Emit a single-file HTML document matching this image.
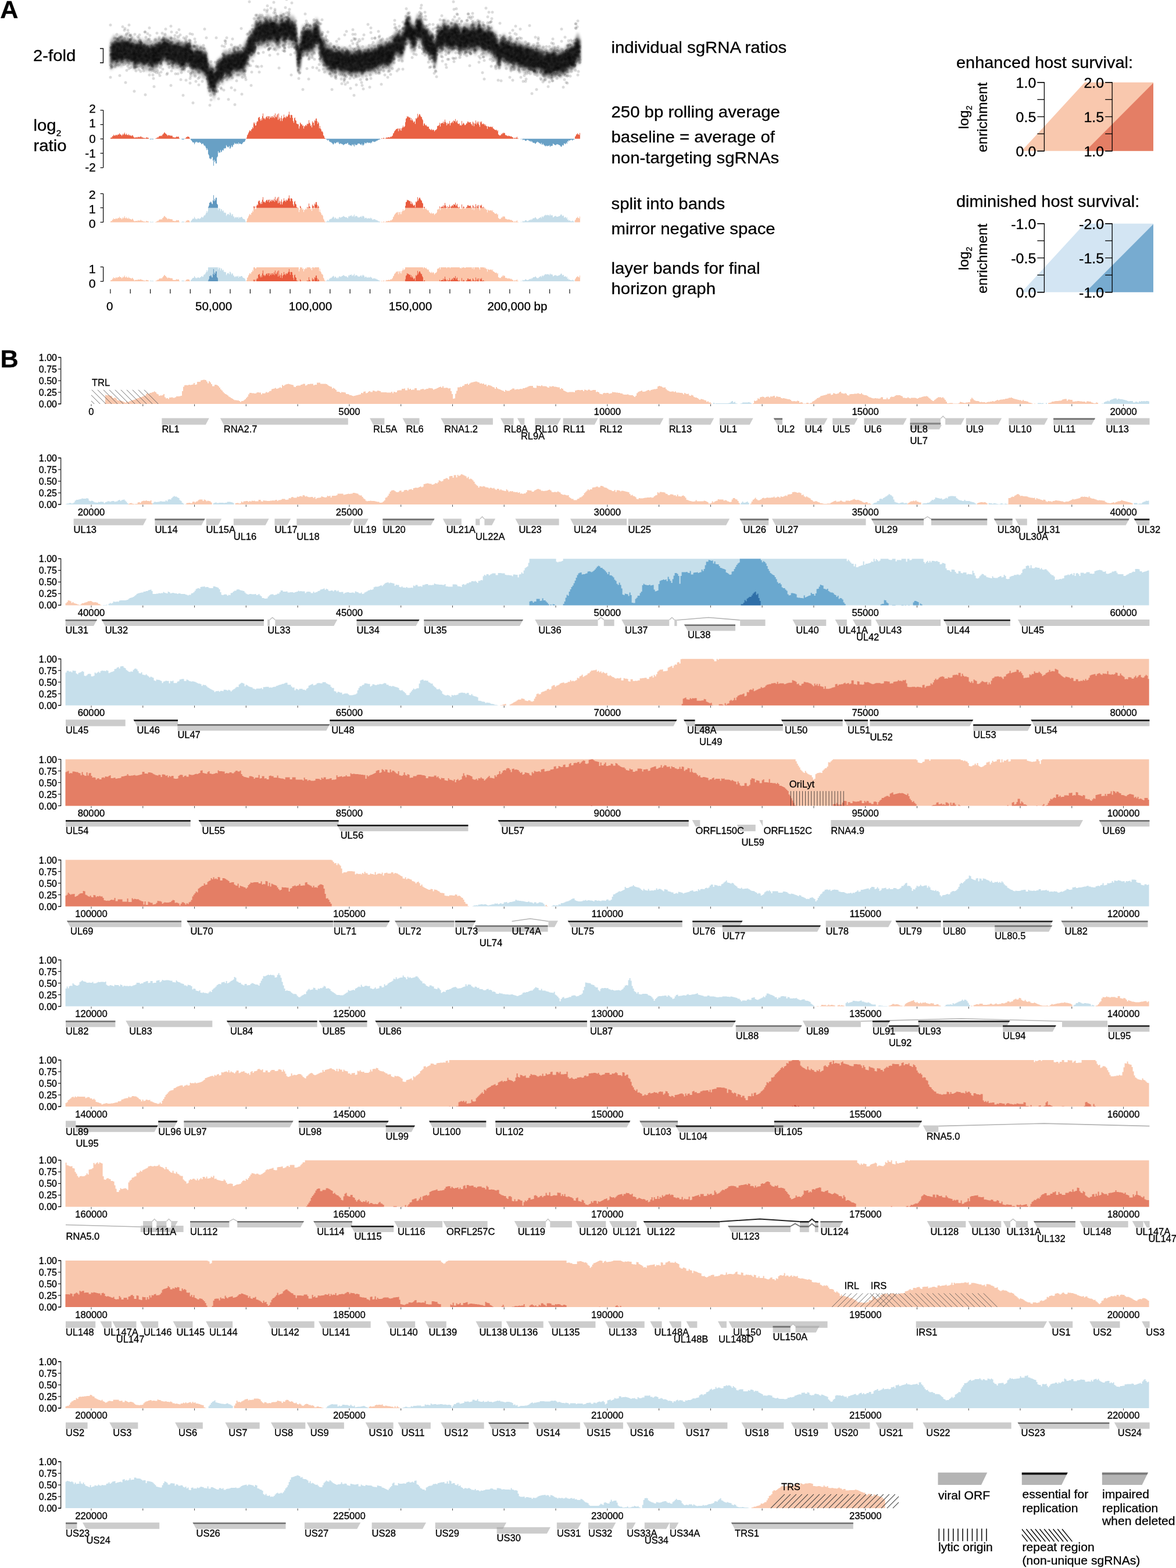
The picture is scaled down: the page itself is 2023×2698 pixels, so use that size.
<!DOCTYPE html>
<html><head><meta charset="utf-8"><title>Horizon graph</title>
<style>html,body{margin:0;padding:0;background:#fff;} svg{display:block;} text{font-family:"Liberation Sans", Arial, Helvetica, sans-serif;fill:#000;stroke:#000;stroke-width:0.3px;}</style>
</head><body>
<svg width="2023" height="2698" viewBox="0 0 2023 2698">
<rect width="2023" height="2698" fill="#fff"/>
<text transform="matrix(1.03,0,0,1,0.3,30.8)" font-size="42" font-weight="bold">A</text>
<text transform="matrix(1.03,0,0,1,57.0,105.3)" font-size="28.5">2-fold</text>
<path d="M172,83.5 H177.5 V108 H172" fill="none" stroke="#000" stroke-width="1.3"/>
<text transform="matrix(1.03,0,0,1,57.5,225.0)" font-size="28.5">log<tspan font-size="15" dy="9">2</tspan></text>
<text transform="matrix(1.03,0,0,1,57.5,259.5)" font-size="28.5">ratio</text>
<text transform="matrix(1.03,0,0,1,1051.5,91.2)" font-size="28.5">individual sgRNA ratios</text>
<text transform="matrix(1.03,0,0,1,1051.5,202.0)" font-size="28.5">250 bp rolling average</text>
<text transform="matrix(1.03,0,0,1,1051.5,245.3)" font-size="28.5">baseline = average of</text>
<text transform="matrix(1.03,0,0,1,1051.5,281.0)" font-size="28.5">non-targeting sgRNAs</text>
<text transform="matrix(1.03,0,0,1,1051.5,359.6)" font-size="28.5">split into bands</text>
<text transform="matrix(1.03,0,0,1,1051.5,403.4)" font-size="28.5">mirror negative space</text>
<text transform="matrix(1.03,0,0,1,1051.5,471.0)" font-size="28.5">layer bands for final</text>
<text transform="matrix(1.03,0,0,1,1051.5,505.8)" font-size="28.5">horizon graph</text>
<text transform="matrix(1.03,0,0,1,1645.0,117.3)" font-size="28.1">enhanced host survival:</text>
<text transform="matrix(1.03,0,0,1,1645.0,356.0)" font-size="28.1">diminished host survival:</text>
<path d="M177.6,189.6 V288.6" stroke="#000" stroke-width="1.2" fill="none"/><path d="M172.6,189.6 H177.6" stroke="#000" stroke-width="1.2"/><path d="M172.6,214.4 H177.6" stroke="#000" stroke-width="1.2"/><path d="M172.6,239 H177.6" stroke="#000" stroke-width="1.2"/><path d="M172.6,263.7 H177.6" stroke="#000" stroke-width="1.2"/><path d="M172.6,288.6 H177.6" stroke="#000" stroke-width="1.2"/>
<text transform="matrix(1.03,0,0,1,164.6,193.8)" font-size="20" text-anchor="end">2</text>
<text transform="matrix(1.03,0,0,1,164.6,219.1)" font-size="20" text-anchor="end">1</text>
<text transform="matrix(1.03,0,0,1,164.6,245.6)" font-size="20" text-anchor="end">0</text>
<text transform="matrix(1.03,0,0,1,164.6,270.8)" font-size="20" text-anchor="end">-1</text>
<text transform="matrix(1.03,0,0,1,164.6,295.4)" font-size="20" text-anchor="end">-2</text>
<path d="M177.6,333.2 V382.4" stroke="#000" stroke-width="1.2" fill="none"/><path d="M172.6,333.2 H177.6" stroke="#000" stroke-width="1.2"/><path d="M172.6,357.5 H177.6" stroke="#000" stroke-width="1.2"/><path d="M172.6,382.4 H177.6" stroke="#000" stroke-width="1.2"/>
<text transform="matrix(1.03,0,0,1,164.6,342.0)" font-size="20.8" text-anchor="end">2</text>
<text transform="matrix(1.03,0,0,1,164.6,366.8)" font-size="20.8" text-anchor="end">1</text>
<text transform="matrix(1.03,0,0,1,164.6,392.4)" font-size="20.8" text-anchor="end">0</text>
<path d="M177.6,459.3 V484.2" stroke="#000" stroke-width="1.2" fill="none"/><path d="M172.6,459.3 H177.6" stroke="#000" stroke-width="1.2"/><path d="M172.6,484.2 H177.6" stroke="#000" stroke-width="1.2"/>
<text transform="matrix(1.03,0,0,1,164.6,470.1)" font-size="20.8" text-anchor="end">1</text>
<text transform="matrix(1.03,0,0,1,164.6,495.0)" font-size="20.8" text-anchor="end">0</text>
<path d="M189.9,497.5 V505" stroke="#000" stroke-width="1.1"/>
<path d="M224.2,497.5 V505" stroke="#000" stroke-width="1.1"/>
<path d="M258.6,497.5 V505" stroke="#000" stroke-width="1.1"/>
<path d="M292.9,497.5 V505" stroke="#000" stroke-width="1.1"/>
<path d="M327.3,497.5 V505" stroke="#000" stroke-width="1.1"/>
<path d="M361.6,497.5 V505" stroke="#000" stroke-width="1.1"/>
<path d="M396.0,497.5 V505" stroke="#000" stroke-width="1.1"/>
<path d="M430.4,497.5 V505" stroke="#000" stroke-width="1.1"/>
<path d="M464.7,497.5 V505" stroke="#000" stroke-width="1.1"/>
<path d="M499.1,497.5 V505" stroke="#000" stroke-width="1.1"/>
<path d="M533.4,497.5 V505" stroke="#000" stroke-width="1.1"/>
<path d="M567.8,497.5 V505" stroke="#000" stroke-width="1.1"/>
<path d="M602.1,497.5 V505" stroke="#000" stroke-width="1.1"/>
<path d="M636.5,497.5 V505" stroke="#000" stroke-width="1.1"/>
<path d="M670.8,497.5 V505" stroke="#000" stroke-width="1.1"/>
<path d="M705.1,497.5 V505" stroke="#000" stroke-width="1.1"/>
<path d="M739.5,497.5 V505" stroke="#000" stroke-width="1.1"/>
<path d="M773.9,497.5 V505" stroke="#000" stroke-width="1.1"/>
<path d="M808.2,497.5 V505" stroke="#000" stroke-width="1.1"/>
<path d="M842.5,497.5 V505" stroke="#000" stroke-width="1.1"/>
<path d="M876.9,497.5 V505" stroke="#000" stroke-width="1.1"/>
<path d="M911.2,497.5 V505" stroke="#000" stroke-width="1.1"/>
<path d="M945.6,497.5 V505" stroke="#000" stroke-width="1.1"/>
<path d="M980.0,497.5 V505" stroke="#000" stroke-width="1.1"/>
<text transform="matrix(1.03,0,0,1,188.8,533.6)" font-size="20" text-anchor="middle">0</text>
<text transform="matrix(1.03,0,0,1,367.6,533.6)" font-size="20" text-anchor="middle">50,000</text>
<text transform="matrix(1.03,0,0,1,534.0,533.6)" font-size="20" text-anchor="middle">100,000</text>
<text transform="matrix(1.03,0,0,1,706.0,533.6)" font-size="20" text-anchor="middle">150,000</text>
<text transform="matrix(1.03,0,0,1,838.4,533.6)" font-size="20">200,000 bp</text>
<polygon points="1757.4,259.8 1866,141.8 1984,141.8 1984,259.8" fill="#f9c8ae"/><polygon points="1867.4,259.8 1984,142.8 1984,259.8" fill="#e47e65"/><path d="M1784.4,141.8 H1796.4 V259.8 H1784.4" stroke="#000" stroke-width="1.3" fill="none"/><path d="M1784.4,141.8 H1796.4" stroke="#000" stroke-width="1.3"/><path d="M1784.4,171.3 H1796.4" stroke="#000" stroke-width="1.3"/><path d="M1784.4,200.8 H1796.4" stroke="#000" stroke-width="1.3"/><path d="M1784.4,230.3 H1796.4" stroke="#000" stroke-width="1.3"/><path d="M1784.4,259.8 H1796.4" stroke="#000" stroke-width="1.3"/><text transform="matrix(1.03,0,0,1,1782.4,150.5)" font-size="24.3" text-anchor="end">1.0</text><text transform="matrix(1.03,0,0,1,1782.4,209.5)" font-size="24.3" text-anchor="end">0.5</text><text transform="matrix(1.03,0,0,1,1782.4,268.5)" font-size="24.3" text-anchor="end">0.0</text><path d="M1901.2,141.8 H1913.2 V259.8 H1901.2" stroke="#000" stroke-width="1.3" fill="none"/><path d="M1901.2,141.8 H1913.2" stroke="#000" stroke-width="1.3"/><path d="M1901.2,171.3 H1913.2" stroke="#000" stroke-width="1.3"/><path d="M1901.2,200.8 H1913.2" stroke="#000" stroke-width="1.3"/><path d="M1901.2,230.3 H1913.2" stroke="#000" stroke-width="1.3"/><path d="M1901.2,259.8 H1913.2" stroke="#000" stroke-width="1.3"/><text transform="matrix(1.03,0,0,1,1899.2,150.5)" font-size="24.3" text-anchor="end">2.0</text><text transform="matrix(1.03,0,0,1,1899.2,209.5)" font-size="24.3" text-anchor="end">1.5</text><text transform="matrix(1.03,0,0,1,1899.2,268.5)" font-size="24.3" text-anchor="end">1.0</text><text transform="translate(1666,201.8) rotate(-90)" font-size="24.3" text-anchor="middle">log<tspan font-size="14" dy="6">2</tspan></text><text transform="translate(1698,201.8) rotate(-90)" font-size="24.3" text-anchor="middle">enrichment</text>
<polygon points="1757.4,502.8 1866,384.8 1984,384.8 1984,502.8" fill="#d3e5f3"/><polygon points="1867.4,502.8 1984,385.8 1984,502.8" fill="#77abd0"/><path d="M1784.4,384.8 H1796.4 V502.8 H1784.4" stroke="#000" stroke-width="1.3" fill="none"/><path d="M1784.4,384.8 H1796.4" stroke="#000" stroke-width="1.3"/><path d="M1784.4,414.3 H1796.4" stroke="#000" stroke-width="1.3"/><path d="M1784.4,443.8 H1796.4" stroke="#000" stroke-width="1.3"/><path d="M1784.4,473.3 H1796.4" stroke="#000" stroke-width="1.3"/><path d="M1784.4,502.8 H1796.4" stroke="#000" stroke-width="1.3"/><text transform="matrix(1.03,0,0,1,1782.4,393.5)" font-size="24.3" text-anchor="end">-1.0</text><text transform="matrix(1.03,0,0,1,1782.4,452.5)" font-size="24.3" text-anchor="end">-0.5</text><text transform="matrix(1.03,0,0,1,1782.4,511.5)" font-size="24.3" text-anchor="end">0.0</text><path d="M1901.2,384.8 H1913.2 V502.8 H1901.2" stroke="#000" stroke-width="1.3" fill="none"/><path d="M1901.2,384.8 H1913.2" stroke="#000" stroke-width="1.3"/><path d="M1901.2,414.3 H1913.2" stroke="#000" stroke-width="1.3"/><path d="M1901.2,443.8 H1913.2" stroke="#000" stroke-width="1.3"/><path d="M1901.2,473.3 H1913.2" stroke="#000" stroke-width="1.3"/><path d="M1901.2,502.8 H1913.2" stroke="#000" stroke-width="1.3"/><text transform="matrix(1.03,0,0,1,1899.2,393.5)" font-size="24.3" text-anchor="end">-2.0</text><text transform="matrix(1.03,0,0,1,1899.2,452.5)" font-size="24.3" text-anchor="end">-1.5</text><text transform="matrix(1.03,0,0,1,1899.2,511.5)" font-size="24.3" text-anchor="end">-1.0</text><text transform="translate(1666,444.8) rotate(-90)" font-size="24.3" text-anchor="middle">log<tspan font-size="14" dy="6">2</tspan></text><text transform="translate(1698,444.8) rotate(-90)" font-size="24.3" text-anchor="middle">enrichment</text>
<text transform="matrix(1.03,0,0,1,0.5,631.5)" font-size="42" font-weight="bold">B</text>
<path d="M100,615 H104.7 V695 H100" stroke="#000" stroke-width="1.1" fill="none"/><path d="M100,615 H104.7" stroke="#000" stroke-width="1.1"/><text transform="matrix(1.03,0,0,1,98.0,621.0)" font-size="15.6" text-anchor="end">1.00</text><path d="M100,635 H104.7" stroke="#000" stroke-width="1.1"/><text transform="matrix(1.03,0,0,1,98.0,641.0)" font-size="15.6" text-anchor="end">0.75</text><path d="M100,655 H104.7" stroke="#000" stroke-width="1.1"/><text transform="matrix(1.03,0,0,1,98.0,661.0)" font-size="15.6" text-anchor="end">0.50</text><path d="M100,675 H104.7" stroke="#000" stroke-width="1.1"/><text transform="matrix(1.03,0,0,1,98.0,681.0)" font-size="15.6" text-anchor="end">0.25</text><path d="M100,695 H104.7" stroke="#000" stroke-width="1.1"/><text transform="matrix(1.03,0,0,1,98.0,701.0)" font-size="15.6" text-anchor="end">0.00</text>
<text transform="matrix(1.03,0,0,1,157.0,713.5)" font-size="16.2" text-anchor="middle">0</text>
<text transform="matrix(1.03,0,0,1,600.9,713.5)" font-size="16.2" text-anchor="middle">5000</text>
<text transform="matrix(1.03,0,0,1,1044.8,713.5)" font-size="16.2" text-anchor="middle">10000</text>
<text transform="matrix(1.03,0,0,1,1488.7,713.5)" font-size="16.2" text-anchor="middle">15000</text>
<text transform="matrix(1.03,0,0,1,1932.6,713.5)" font-size="16.2" text-anchor="middle">20000</text>
<path d="M100,788 H104.7 V868 H100" stroke="#000" stroke-width="1.1" fill="none"/><path d="M100,788 H104.7" stroke="#000" stroke-width="1.1"/><text transform="matrix(1.03,0,0,1,98.0,794.0)" font-size="15.6" text-anchor="end">1.00</text><path d="M100,808 H104.7" stroke="#000" stroke-width="1.1"/><text transform="matrix(1.03,0,0,1,98.0,814.0)" font-size="15.6" text-anchor="end">0.75</text><path d="M100,828 H104.7" stroke="#000" stroke-width="1.1"/><text transform="matrix(1.03,0,0,1,98.0,834.0)" font-size="15.6" text-anchor="end">0.50</text><path d="M100,848 H104.7" stroke="#000" stroke-width="1.1"/><text transform="matrix(1.03,0,0,1,98.0,854.0)" font-size="15.6" text-anchor="end">0.25</text><path d="M100,868 H104.7" stroke="#000" stroke-width="1.1"/><text transform="matrix(1.03,0,0,1,98.0,874.0)" font-size="15.6" text-anchor="end">0.00</text>
<text transform="matrix(1.03,0,0,1,157.0,886.5)" font-size="16.2" text-anchor="middle">20000</text>
<text transform="matrix(1.03,0,0,1,600.9,886.5)" font-size="16.2" text-anchor="middle">25000</text>
<text transform="matrix(1.03,0,0,1,1044.8,886.5)" font-size="16.2" text-anchor="middle">30000</text>
<text transform="matrix(1.03,0,0,1,1488.7,886.5)" font-size="16.2" text-anchor="middle">35000</text>
<text transform="matrix(1.03,0,0,1,1932.6,886.5)" font-size="16.2" text-anchor="middle">40000</text>
<path d="M100,961.4000000000001 H104.7 V1041.4 H100" stroke="#000" stroke-width="1.1" fill="none"/><path d="M100,961.4000000000001 H104.7" stroke="#000" stroke-width="1.1"/><text transform="matrix(1.03,0,0,1,98.0,967.4)" font-size="15.6" text-anchor="end">1.00</text><path d="M100,981.4000000000001 H104.7" stroke="#000" stroke-width="1.1"/><text transform="matrix(1.03,0,0,1,98.0,987.4)" font-size="15.6" text-anchor="end">0.75</text><path d="M100,1001.4000000000001 H104.7" stroke="#000" stroke-width="1.1"/><text transform="matrix(1.03,0,0,1,98.0,1007.4)" font-size="15.6" text-anchor="end">0.50</text><path d="M100,1021.4000000000001 H104.7" stroke="#000" stroke-width="1.1"/><text transform="matrix(1.03,0,0,1,98.0,1027.4)" font-size="15.6" text-anchor="end">0.25</text><path d="M100,1041.4 H104.7" stroke="#000" stroke-width="1.1"/><text transform="matrix(1.03,0,0,1,98.0,1047.4)" font-size="15.6" text-anchor="end">0.00</text>
<text transform="matrix(1.03,0,0,1,157.0,1059.9)" font-size="16.2" text-anchor="middle">40000</text>
<text transform="matrix(1.03,0,0,1,600.9,1059.9)" font-size="16.2" text-anchor="middle">45000</text>
<text transform="matrix(1.03,0,0,1,1044.8,1059.9)" font-size="16.2" text-anchor="middle">50000</text>
<text transform="matrix(1.03,0,0,1,1488.7,1059.9)" font-size="16.2" text-anchor="middle">55000</text>
<text transform="matrix(1.03,0,0,1,1932.6,1059.9)" font-size="16.2" text-anchor="middle">60000</text>
<path d="M100,1133.7 H104.7 V1213.7 H100" stroke="#000" stroke-width="1.1" fill="none"/><path d="M100,1133.7 H104.7" stroke="#000" stroke-width="1.1"/><text transform="matrix(1.03,0,0,1,98.0,1139.7)" font-size="15.6" text-anchor="end">1.00</text><path d="M100,1153.7 H104.7" stroke="#000" stroke-width="1.1"/><text transform="matrix(1.03,0,0,1,98.0,1159.7)" font-size="15.6" text-anchor="end">0.75</text><path d="M100,1173.7 H104.7" stroke="#000" stroke-width="1.1"/><text transform="matrix(1.03,0,0,1,98.0,1179.7)" font-size="15.6" text-anchor="end">0.50</text><path d="M100,1193.7 H104.7" stroke="#000" stroke-width="1.1"/><text transform="matrix(1.03,0,0,1,98.0,1199.7)" font-size="15.6" text-anchor="end">0.25</text><path d="M100,1213.7 H104.7" stroke="#000" stroke-width="1.1"/><text transform="matrix(1.03,0,0,1,98.0,1219.7)" font-size="15.6" text-anchor="end">0.00</text>
<text transform="matrix(1.03,0,0,1,157.0,1232.2)" font-size="16.2" text-anchor="middle">60000</text>
<text transform="matrix(1.03,0,0,1,600.9,1232.2)" font-size="16.2" text-anchor="middle">65000</text>
<text transform="matrix(1.03,0,0,1,1044.8,1232.2)" font-size="16.2" text-anchor="middle">70000</text>
<text transform="matrix(1.03,0,0,1,1488.7,1232.2)" font-size="16.2" text-anchor="middle">75000</text>
<text transform="matrix(1.03,0,0,1,1932.6,1232.2)" font-size="16.2" text-anchor="middle">80000</text>
<path d="M100,1306.5 H104.7 V1386.5 H100" stroke="#000" stroke-width="1.1" fill="none"/><path d="M100,1306.5 H104.7" stroke="#000" stroke-width="1.1"/><text transform="matrix(1.03,0,0,1,98.0,1312.5)" font-size="15.6" text-anchor="end">1.00</text><path d="M100,1326.5 H104.7" stroke="#000" stroke-width="1.1"/><text transform="matrix(1.03,0,0,1,98.0,1332.5)" font-size="15.6" text-anchor="end">0.75</text><path d="M100,1346.5 H104.7" stroke="#000" stroke-width="1.1"/><text transform="matrix(1.03,0,0,1,98.0,1352.5)" font-size="15.6" text-anchor="end">0.50</text><path d="M100,1366.5 H104.7" stroke="#000" stroke-width="1.1"/><text transform="matrix(1.03,0,0,1,98.0,1372.5)" font-size="15.6" text-anchor="end">0.25</text><path d="M100,1386.5 H104.7" stroke="#000" stroke-width="1.1"/><text transform="matrix(1.03,0,0,1,98.0,1392.5)" font-size="15.6" text-anchor="end">0.00</text>
<text transform="matrix(1.03,0,0,1,157.0,1405.0)" font-size="16.2" text-anchor="middle">80000</text>
<text transform="matrix(1.03,0,0,1,600.9,1405.0)" font-size="16.2" text-anchor="middle">85000</text>
<text transform="matrix(1.03,0,0,1,1044.8,1405.0)" font-size="16.2" text-anchor="middle">90000</text>
<text transform="matrix(1.03,0,0,1,1488.7,1405.0)" font-size="16.2" text-anchor="middle">95000</text>
<text transform="matrix(1.03,0,0,1,1932.6,1405.0)" font-size="16.2" text-anchor="middle">100000</text>
<path d="M100,1479.6 H104.7 V1559.6 H100" stroke="#000" stroke-width="1.1" fill="none"/><path d="M100,1479.6 H104.7" stroke="#000" stroke-width="1.1"/><text transform="matrix(1.03,0,0,1,98.0,1485.6)" font-size="15.6" text-anchor="end">1.00</text><path d="M100,1499.6 H104.7" stroke="#000" stroke-width="1.1"/><text transform="matrix(1.03,0,0,1,98.0,1505.6)" font-size="15.6" text-anchor="end">0.75</text><path d="M100,1519.6 H104.7" stroke="#000" stroke-width="1.1"/><text transform="matrix(1.03,0,0,1,98.0,1525.6)" font-size="15.6" text-anchor="end">0.50</text><path d="M100,1539.6 H104.7" stroke="#000" stroke-width="1.1"/><text transform="matrix(1.03,0,0,1,98.0,1545.6)" font-size="15.6" text-anchor="end">0.25</text><path d="M100,1559.6 H104.7" stroke="#000" stroke-width="1.1"/><text transform="matrix(1.03,0,0,1,98.0,1565.6)" font-size="15.6" text-anchor="end">0.00</text>
<text transform="matrix(1.03,0,0,1,157.0,1578.1)" font-size="16.2" text-anchor="middle">100000</text>
<text transform="matrix(1.03,0,0,1,600.9,1578.1)" font-size="16.2" text-anchor="middle">105000</text>
<text transform="matrix(1.03,0,0,1,1044.8,1578.1)" font-size="16.2" text-anchor="middle">110000</text>
<text transform="matrix(1.03,0,0,1,1488.7,1578.1)" font-size="16.2" text-anchor="middle">115000</text>
<text transform="matrix(1.03,0,0,1,1932.6,1578.1)" font-size="16.2" text-anchor="middle">120000</text>
<path d="M100,1651.6 H104.7 V1731.6 H100" stroke="#000" stroke-width="1.1" fill="none"/><path d="M100,1651.6 H104.7" stroke="#000" stroke-width="1.1"/><text transform="matrix(1.03,0,0,1,98.0,1657.6)" font-size="15.6" text-anchor="end">1.00</text><path d="M100,1671.6 H104.7" stroke="#000" stroke-width="1.1"/><text transform="matrix(1.03,0,0,1,98.0,1677.6)" font-size="15.6" text-anchor="end">0.75</text><path d="M100,1691.6 H104.7" stroke="#000" stroke-width="1.1"/><text transform="matrix(1.03,0,0,1,98.0,1697.6)" font-size="15.6" text-anchor="end">0.50</text><path d="M100,1711.6 H104.7" stroke="#000" stroke-width="1.1"/><text transform="matrix(1.03,0,0,1,98.0,1717.6)" font-size="15.6" text-anchor="end">0.25</text><path d="M100,1731.6 H104.7" stroke="#000" stroke-width="1.1"/><text transform="matrix(1.03,0,0,1,98.0,1737.6)" font-size="15.6" text-anchor="end">0.00</text>
<text transform="matrix(1.03,0,0,1,157.0,1750.1)" font-size="16.2" text-anchor="middle">120000</text>
<text transform="matrix(1.03,0,0,1,600.9,1750.1)" font-size="16.2" text-anchor="middle">125000</text>
<text transform="matrix(1.03,0,0,1,1044.8,1750.1)" font-size="16.2" text-anchor="middle">130000</text>
<text transform="matrix(1.03,0,0,1,1488.7,1750.1)" font-size="16.2" text-anchor="middle">135000</text>
<text transform="matrix(1.03,0,0,1,1932.6,1750.1)" font-size="16.2" text-anchor="middle">140000</text>
<path d="M100,1824 H104.7 V1904 H100" stroke="#000" stroke-width="1.1" fill="none"/><path d="M100,1824 H104.7" stroke="#000" stroke-width="1.1"/><text transform="matrix(1.03,0,0,1,98.0,1830.0)" font-size="15.6" text-anchor="end">1.00</text><path d="M100,1844 H104.7" stroke="#000" stroke-width="1.1"/><text transform="matrix(1.03,0,0,1,98.0,1850.0)" font-size="15.6" text-anchor="end">0.75</text><path d="M100,1864 H104.7" stroke="#000" stroke-width="1.1"/><text transform="matrix(1.03,0,0,1,98.0,1870.0)" font-size="15.6" text-anchor="end">0.50</text><path d="M100,1884 H104.7" stroke="#000" stroke-width="1.1"/><text transform="matrix(1.03,0,0,1,98.0,1890.0)" font-size="15.6" text-anchor="end">0.25</text><path d="M100,1904 H104.7" stroke="#000" stroke-width="1.1"/><text transform="matrix(1.03,0,0,1,98.0,1910.0)" font-size="15.6" text-anchor="end">0.00</text>
<text transform="matrix(1.03,0,0,1,157.0,1922.5)" font-size="16.2" text-anchor="middle">140000</text>
<text transform="matrix(1.03,0,0,1,600.9,1922.5)" font-size="16.2" text-anchor="middle">145000</text>
<text transform="matrix(1.03,0,0,1,1044.8,1922.5)" font-size="16.2" text-anchor="middle">150000</text>
<text transform="matrix(1.03,0,0,1,1488.7,1922.5)" font-size="16.2" text-anchor="middle">155000</text>
<text transform="matrix(1.03,0,0,1,1932.6,1922.5)" font-size="16.2" text-anchor="middle">160000</text>
<path d="M100,1996.4 H104.7 V2076.4 H100" stroke="#000" stroke-width="1.1" fill="none"/><path d="M100,1996.4 H104.7" stroke="#000" stroke-width="1.1"/><text transform="matrix(1.03,0,0,1,98.0,2002.4)" font-size="15.6" text-anchor="end">1.00</text><path d="M100,2016.4 H104.7" stroke="#000" stroke-width="1.1"/><text transform="matrix(1.03,0,0,1,98.0,2022.4)" font-size="15.6" text-anchor="end">0.75</text><path d="M100,2036.4 H104.7" stroke="#000" stroke-width="1.1"/><text transform="matrix(1.03,0,0,1,98.0,2042.4)" font-size="15.6" text-anchor="end">0.50</text><path d="M100,2056.4 H104.7" stroke="#000" stroke-width="1.1"/><text transform="matrix(1.03,0,0,1,98.0,2062.4)" font-size="15.6" text-anchor="end">0.25</text><path d="M100,2076.4 H104.7" stroke="#000" stroke-width="1.1"/><text transform="matrix(1.03,0,0,1,98.0,2082.4)" font-size="15.6" text-anchor="end">0.00</text>
<text transform="matrix(1.03,0,0,1,157.0,2094.9)" font-size="16.2" text-anchor="middle">160000</text>
<text transform="matrix(1.03,0,0,1,600.9,2094.9)" font-size="16.2" text-anchor="middle">165000</text>
<text transform="matrix(1.03,0,0,1,1044.8,2094.9)" font-size="16.2" text-anchor="middle">170000</text>
<text transform="matrix(1.03,0,0,1,1488.7,2094.9)" font-size="16.2" text-anchor="middle">175000</text>
<text transform="matrix(1.03,0,0,1,1932.6,2094.9)" font-size="16.2" text-anchor="middle">180000</text>
<path d="M100,2169 H104.7 V2249 H100" stroke="#000" stroke-width="1.1" fill="none"/><path d="M100,2169 H104.7" stroke="#000" stroke-width="1.1"/><text transform="matrix(1.03,0,0,1,98.0,2175.0)" font-size="15.6" text-anchor="end">1.00</text><path d="M100,2189 H104.7" stroke="#000" stroke-width="1.1"/><text transform="matrix(1.03,0,0,1,98.0,2195.0)" font-size="15.6" text-anchor="end">0.75</text><path d="M100,2209 H104.7" stroke="#000" stroke-width="1.1"/><text transform="matrix(1.03,0,0,1,98.0,2215.0)" font-size="15.6" text-anchor="end">0.50</text><path d="M100,2229 H104.7" stroke="#000" stroke-width="1.1"/><text transform="matrix(1.03,0,0,1,98.0,2235.0)" font-size="15.6" text-anchor="end">0.25</text><path d="M100,2249 H104.7" stroke="#000" stroke-width="1.1"/><text transform="matrix(1.03,0,0,1,98.0,2255.0)" font-size="15.6" text-anchor="end">0.00</text>
<text transform="matrix(1.03,0,0,1,157.0,2267.5)" font-size="16.2" text-anchor="middle">180000</text>
<text transform="matrix(1.03,0,0,1,600.9,2267.5)" font-size="16.2" text-anchor="middle">185000</text>
<text transform="matrix(1.03,0,0,1,1044.8,2267.5)" font-size="16.2" text-anchor="middle">190000</text>
<text transform="matrix(1.03,0,0,1,1488.7,2267.5)" font-size="16.2" text-anchor="middle">195000</text>
<text transform="matrix(1.03,0,0,1,1932.6,2267.5)" font-size="16.2" text-anchor="middle">200000</text>
<path d="M100,2342.9 H104.7 V2422.9 H100" stroke="#000" stroke-width="1.1" fill="none"/><path d="M100,2342.9 H104.7" stroke="#000" stroke-width="1.1"/><text transform="matrix(1.03,0,0,1,98.0,2348.9)" font-size="15.6" text-anchor="end">1.00</text><path d="M100,2362.9 H104.7" stroke="#000" stroke-width="1.1"/><text transform="matrix(1.03,0,0,1,98.0,2368.9)" font-size="15.6" text-anchor="end">0.75</text><path d="M100,2382.9 H104.7" stroke="#000" stroke-width="1.1"/><text transform="matrix(1.03,0,0,1,98.0,2388.9)" font-size="15.6" text-anchor="end">0.50</text><path d="M100,2402.9 H104.7" stroke="#000" stroke-width="1.1"/><text transform="matrix(1.03,0,0,1,98.0,2408.9)" font-size="15.6" text-anchor="end">0.25</text><path d="M100,2422.9 H104.7" stroke="#000" stroke-width="1.1"/><text transform="matrix(1.03,0,0,1,98.0,2428.9)" font-size="15.6" text-anchor="end">0.00</text>
<text transform="matrix(1.03,0,0,1,157.0,2441.4)" font-size="16.2" text-anchor="middle">200000</text>
<text transform="matrix(1.03,0,0,1,600.9,2441.4)" font-size="16.2" text-anchor="middle">205000</text>
<text transform="matrix(1.03,0,0,1,1044.8,2441.4)" font-size="16.2" text-anchor="middle">210000</text>
<text transform="matrix(1.03,0,0,1,1488.7,2441.4)" font-size="16.2" text-anchor="middle">215000</text>
<text transform="matrix(1.03,0,0,1,1932.6,2441.4)" font-size="16.2" text-anchor="middle">220000</text>
<path d="M100,2515.1 H104.7 V2595.1 H100" stroke="#000" stroke-width="1.1" fill="none"/><path d="M100,2515.1 H104.7" stroke="#000" stroke-width="1.1"/><text transform="matrix(1.03,0,0,1,98.0,2521.1)" font-size="15.6" text-anchor="end">1.00</text><path d="M100,2535.1 H104.7" stroke="#000" stroke-width="1.1"/><text transform="matrix(1.03,0,0,1,98.0,2541.1)" font-size="15.6" text-anchor="end">0.75</text><path d="M100,2555.1 H104.7" stroke="#000" stroke-width="1.1"/><text transform="matrix(1.03,0,0,1,98.0,2561.1)" font-size="15.6" text-anchor="end">0.50</text><path d="M100,2575.1 H104.7" stroke="#000" stroke-width="1.1"/><text transform="matrix(1.03,0,0,1,98.0,2581.1)" font-size="15.6" text-anchor="end">0.25</text><path d="M100,2595.1 H104.7" stroke="#000" stroke-width="1.1"/><text transform="matrix(1.03,0,0,1,98.0,2601.1)" font-size="15.6" text-anchor="end">0.00</text>
<text transform="matrix(1.03,0,0,1,157.0,2613.6)" font-size="16.2" text-anchor="middle">220000</text>
<text transform="matrix(1.03,0,0,1,600.9,2613.6)" font-size="16.2" text-anchor="middle">225000</text>
<text transform="matrix(1.03,0,0,1,1044.8,2613.6)" font-size="16.2" text-anchor="middle">230000</text>
<text transform="matrix(1.03,0,0,1,1488.7,2613.6)" font-size="16.2" text-anchor="middle">235000</text>
<path d="M157.0,695h22v-0.5h2v-15h2v0.5h4v0.5h2v0.5h2v0.5h2v3h2v0.5h2v-1h2v1.5h2v3h2v0.5h2v0.5h4v0.5h2v1h2v1h2v1h2v-2.5h2v1.5h2v-1h2v-1h2v-0.5h2v-1h2v-0.5h2v-0.5h2v-1h2v-1h2v-0.5h2v-1h2v-0.5h2v-0.5h2v-1h2v-0.5h2v-1h2v-3h2v-1h2v1.5h2v-2h4v-1h2v-0.5h2v-1h2v1.5h2v2.5h2v1h2v2.5h2v-0.5h4v-0.5h2v-2h2v5.5h2v2h2v-0.5h2v1.5h2v-2.5h4v-0.5h2v1h4v-1h2v-1.5h6v-0.5h2v-0.5h2v-8h2v-7.5h2v-2.5h2v-0.5h2v0.5h2v-0.5h2v-0.5h2v0.5h2v-0.5h2v-0.5h2v-2.5h2v3h2v-0.5h2v-4.5h6v-2.5h2v-0.5h2v-0.5h4v0.5h2v2.5h2v3h2v-3.5h2v2h2v3h2v3.5h4v-2.5h4v1h2v1.5h2v2.5h2v3h2v2h2v2.5h2v2h2v1.5h2v1h2v1.5h2v2h2v1h2v1.5h2v1h2v1.5h2v1h4v0.5h4v1h2v1.5h2v-1.5h4v-1.5h2v-1.5h2v-2.5h2v-2h2v-4h2v-2.5h4v0.5h4v0.5h4v-1.5h2v-0.5h2v0.5h4v3h2v-2h2v0.5h2v-0.5h2v-2h2v1h2v-0.5h2v-2h2v-0.5h2v-3h2v-0.5h2v-0.5h2v-1h2v1.5h2v-0.5h2v-1h2v-1h2v1h2v-5h2v1.5h2v-1.5h2v-1h2v-0.5h2v-0.5h2v0.5h2v0.5h2v0.5h2v0.5h2v3h2v0.5h2v-2h2v-0.5h6v-1.5h2v-0.5h2v-1h4v3h2v-1h2v-1.5h4v-0.5h6v2.5h2v-1h4v-3.5h6v2h10v0.5h2v1.5h2v1.5h2v1h2v0.5h2v3h2v-1h2v1.5h2v2h2v3h4v0.5h2v1.5h2v-1.5h2v0.5h4v0.5h2v2.5h4v0.5h2v1.5h4v1h2v0.5h2v-0.5h2v-0.5h2v-0.5h2v-0.5h2v-0.5h2v-0.5h2v-2.5h2v0.5h2v-2.5h2v-0.5h2v3h2v-0.5h2v-2h2v-1h2v1.5h4v-2.5h2v0.5h2v1h4v-1.5h2v0.5h2v0.5h2v2h10v0.5h8v-1.5h2v2.5h2v-2.5h2v1h4v-3h2v-0.5h6v-2.5h4v-0.5h2v3h4v-4h2v2.5h2v-1h2v2h2v-0.5h4v-2.5h4v3.5h6v-1.5h2v-0.5h2v-0.5h2v1.5h2v-0.5h2v-1h4v-1.5h2v0.5h4v0.5h2v2h2v-1h2v-0.5h2v-1h2v-1h2v-1h2v-0.5h2v1.5h2v-2.5h2v3h4v-0.5h2v0.5h2v1h2v-0.5h2v5h2v5h2v8h2v-0.5h2v-8h2v-5h2v-6h4v-1h2v0.5h2v-2h2v-0.5h2v-2.5h4v-1h2v2h2v-2h2v-1.5h2v-0.5h2v-0.5h2v-0.5h2v-0.5h4v1h2v0.5h2v2h2v-0.5h2v1h2v-0.5h2v2h2v-0.5h2v3h2v-2h2v0.5h2v0.5h2v1h2v1.5h2v0.5h2v2.5h2v-3h2v2.5h2v1h2v0.5h2v1h2v1h2v0.5h2v1.5h2v-3h2v1.5h6v-1.5h2v-1h2v-1.5h4v2h2v-0.5h2v-0.5h2v0.5h2v-0.5h2v-0.5h2v0.5h2v-1.5h4v-1h2v-0.5h2v-1h2v-1h2v-0.5h6v3h2v0.5h4v-4h2v0.5h4v0.5h2v-1.5h2v1.5h6v0.5h2v1.5h2v0.5h2v-2.5h2v1h2v-1h4v1h4v0.5h2v0.5h4v3h2v-1.5h2v1h2v3h2v1h2v1h2v1h4v-0.5h8v0.5h2v-3h2v-0.5h2v-0.5h4v0.5h2v-0.5h4v2h2v-2.5h2v0.5h2v1h2v-1.5h4v1.5h4v-1h6v3.5h2v-0.5h2v1h2v2.5h2v0.5h2v0.5h2v-2h2v-0.5h2v0.5h2v-0.5h4v1.5h2v-0.5h2v-0.5h2v-2h2v0.5h4v0.5h4v0.5h4v1h4v1.5h2v0.5h6v-0.5h2v1h2v0.5h6v1.5h2v1.5h2v-2h2v-4.5h2v-2h2v-1h2v-0.5h2v-1h2v2h4v-0.5h2v-1h2v-1h2v-0.5h2v1.5h2v-1.5h2v-0.5h2v-0.5h2v-0.5h4v-0.5h2v-4h2v-1h2v0.5h2v0.5h2v1.5h2v0.5h2v-0.5h2v3h2v2h2v1h2v1h2v0.5h2v-0.5h4v1h2v-1h2v2h6v0.5h4v0.5h2v2h2v-2.5h2v1.5h2v0.5h2v-0.5h2v3h2v0.5h2v-1.5h2v1h2v2.5h2v1h4v1h2v1.5h2v1.5h2v-1.5h2v0.5h2v0.5h2v1h2v0.5h2v2.5h2v-1h2v2h4v2h2v0.5h70v-1h2v-4.5h2v0.5h2v-1h2v-3.5h2v1h2v-3h2v-0.5h2v-0.5h2v0.5h2v1.5h2v-1.5h2v-0.5h4v1.5h2v-2h2v0.5h2v-1h2v-0.5h2v3h2v-2h2v0.5h2v0.5h4v2h2v0.5h2v-0.5h2v0.5h2v0.5h2v0.5h2v0.5h4v1h2v2h2v0.5h2v-0.5h2v0.5h4v-1h2v0.5h2v3h2v-1h2v0.5h2v2h6v-1.5h4v1.5h2v-1h2v-0.5h2v-2h2v-1h2v-1.5h2v-1.5h2v-2h2v-0.5h2v-1h2v-2h2v-0.5h2v-0.5h2v-0.5h2v-0.5h2v-0.5h2v-1.5h4v-0.5h2v2.5h2v-0.5h2v-2.5h2v0.5h2v1h2v-0.5h2v-0.5h2v-2h2v-1h2v2.5h2v0.5h2v0.5h2v-1h2v1h2v2.5h2v0.5h2v-2h2v-0.5h6v-0.5h6v-1h2v1h2v0.5h2v-1.5h2v2h2v1h2v0.5h4v1h2v1.5h2v1h2v0.5h2v1h2v0.5h4v-0.5h2v0.5h4v0.5h2v-0.5h2v-2h4v3.5h6v-2.5h2v2.5h2v-0.5h2v-3h2v-1h2v0.5h2v-0.5h2v-1.5h2v-1h8v1h2v1h2v2.5h4v0.5h4v-1.5h2v1.5h2v0.5h2v-1h8v0.5h2v1h2v-1h2v-1h4v-1h2v-0.5h2v-0.5h4v-0.5h2v1h2v2h2v1.5h2v2h2v1.5h2v0.5h2v-2h2v-1.5h2v-1.5h2v-1.5h6v1h2v-1h2v2h2v2.5h2v3h2v3h4v-0.5h6v1h10v-1h2v-2h2v0.5h2v0.5h2v0.5h2v0.5h2v-1h4v-0.5h4v-5h2v-2.5h2v2h2v2h2v1h2v0.5h4v0.5h2v1.5h2v-0.5h2v0.5h6v1h2v-1h2v-0.5h4v-0.5h4v-1h2v1h2v-1h2v-1h2v-1h2v1h2v-1h2v-0.5h4v-0.5h4v-1h4v-0.5h2v-1h4v-0.5h2v1h2v1h2v0.5h2v0.5h2v0.5h2v0.5h2v0.5h4v1.5h2v-2h2v2h4v0.5h2v0.5h2v1.5h2v0.5h2v0.5h2v1h2v0.5h2v-0.5h2v0.5h22v-1.5h2v-0.5h2v-0.5h2v-1.5h4v-0.5h2v-0.5h6v-0.5h4v-0.5h2v-1.5h2v-0.5h2v-0.5h4v3h2v-2h4v0.5h4v3h4v-0.5h4v-0.5h4v0.5h4v0.5h6v1.5h2v-2h4v0.5h4v1.5h2v0.5h2v1h4v-1.5h2v0.5h2v2h88V695Z" fill="#f9c8ae"/>
<path d="M157.0,695h1070v-2h2v1.5h2v-0.5h22v-0.5h2v-0.5h2v-2h2v-1h2v2.5h2v-1h2v2.5h2v0.5h2v0.5h4v-0.5h2v-0.5h2v-1.5h10v-0.5h2v0.5h2v1h2v1.5h492v-1.5h6v0.5h2v-0.5h2v1.5h4v-1.5h2v1.5h94v-0.5h4v-2.5h2v-1h2v-0.5h2v-1h2v1h2v-2h2v-1h2v-0.5h2v-1h2v-0.5h4v2h2v-1.5h2v0.5h2v0.5h4v0.5h2v0.5h2v0.5h2v0.5h2v1h2v0.5h2v-0.5h6v2.5h4v-1.5h2v0.5h2v1h2v-2h2v0.5h2v-1h2v0.5h2v-0.5h2v0.5h2v-0.5h4v0.5h2V695Z" fill="#c6dfeb"/>
<polygon points="278.4,719.6 359.8,719.6 353.8,730.7 278.4,730.7" fill="#999" fill-opacity=".5"/><polygon points="378.8,719.6 598.8,719.6 598.8,730.7 384.8,730.7" fill="#999" fill-opacity=".5"/><polygon points="636.1,719.6 661.3,719.6 661.3,730.7 642.1,730.7" fill="#999" fill-opacity=".5"/><polygon points="692.5,719.6 721.5,719.6 721.5,730.7 698.5,730.7" fill="#999" fill-opacity=".5"/><polygon points="758.2,719.6 847.9,719.6 847.9,730.7 764.2,730.7" fill="#999" fill-opacity=".5"/><polygon points="860.9,719.6 883.5,719.6 883.5,730.7 866.9,730.7" fill="#999" fill-opacity=".5"/><polygon points="889.9,719.6 902.3,719.6 902.3,730.7 895.9,730.7" fill="#999" fill-opacity=".5"/><polygon points="920.2,719.6 965.1,719.6 959.1,730.7 920.2,730.7" fill="#999" fill-opacity=".5"/><polygon points="968.6,719.6 1028.8,719.6 1022.8,730.7 968.6,730.7" fill="#999" fill-opacity=".5"/><polygon points="1031.4,719.6 1141.4,719.6 1135.4,730.7 1031.4,730.7" fill="#999" fill-opacity=".5"/><polygon points="1150.7,719.6 1228.2,719.6 1222.2,730.7 1150.7,730.7" fill="#999" fill-opacity=".5"/><polygon points="1237.8,719.6 1295.6,719.6 1289.6,730.7 1237.8,730.7" fill="#999" fill-opacity=".5"/><polygon points="1330.9,719.6 1346.0,719.6 1346.0,730.7 1336.9,730.7" fill="#999" fill-opacity=".5"/><polygon points="1330.9,719.6 1346.0,719.6 1346.0,722.2 1332.3,722.2" fill="#707070"/><polygon points="1384.5,719.6 1423.5,719.6 1417.5,730.7 1384.5,730.7" fill="#999" fill-opacity=".5"/><polygon points="1432.2,719.6 1475.6,719.6 1469.6,730.7 1432.2,730.7" fill="#999" fill-opacity=".5"/><polygon points="1486.4,719.6 1559.9,719.6 1553.9,730.7 1486.4,730.7" fill="#999" fill-opacity=".5"/><polygon points="1565.6,727.6 1622.0,727.6 1616.0,738.7 1565.6,738.7" fill="#999" fill-opacity=".5"/><polygon points="1565.6,727.6 1622.0,727.6 1620.6,730.2 1565.6,730.2" fill="#707070"/><polygon points="1565.6,719.6 1618.2,719.6 1618.2,730.7 1565.6,730.7" fill="#999" fill-opacity=".5"/><path d="M1618.2,731.2V719.6L1622.2,715.6L1626.1,719.6V731.2Z" fill="#fff"/><path d="M1618.2,720.1L1622.2,716.0L1626.1,720.1" fill="none" stroke="#bdbdbd" stroke-width="1.3"/><polygon points="1626.1,719.6 1659.2,719.6 1653.2,730.7 1626.1,730.7" fill="#999" fill-opacity=".5"/><polygon points="1661.7,719.6 1723.2,719.6 1717.2,730.7 1661.7,730.7" fill="#999" fill-opacity=".5"/><polygon points="1735.2,719.6 1802.6,719.6 1796.6,730.7 1735.2,730.7" fill="#999" fill-opacity=".5"/><polygon points="1812.1,719.6 1884.0,719.6 1878.0,730.7 1812.1,730.7" fill="#999" fill-opacity=".5"/><polygon points="1812.1,719.6 1884.0,719.6 1882.6,722.2 1812.1,722.2" fill="#707070"/><polygon points="1902.6,719.6 1977.6,719.6 1977.6,730.7 1902.6,730.7" fill="#999" fill-opacity=".5"/><text transform="matrix(1.03,0,0,1,278.4,743.5)" font-size="16">RL1</text><text transform="matrix(1.03,0,0,1,384.8,743.5)" font-size="16">RNA2.7</text><text transform="matrix(1.03,0,0,1,642.1,743.5)" font-size="16">RL5A</text><text transform="matrix(1.03,0,0,1,698.5,743.5)" font-size="16">RL6</text><text transform="matrix(1.03,0,0,1,764.2,743.5)" font-size="16">RNA1.2</text><text transform="matrix(1.03,0,0,1,866.9,743.5)" font-size="16">RL8A</text><text transform="matrix(1.03,0,0,1,895.9,755.5)" font-size="16">RL9A</text><text transform="matrix(1.03,0,0,1,920.2,743.5)" font-size="16">RL10</text><text transform="matrix(1.03,0,0,1,968.6,743.5)" font-size="16">RL11</text><text transform="matrix(1.03,0,0,1,1031.4,743.5)" font-size="16">RL12</text><text transform="matrix(1.03,0,0,1,1150.7,743.5)" font-size="16">RL13</text><text transform="matrix(1.03,0,0,1,1237.8,743.5)" font-size="16">UL1</text><text transform="matrix(1.03,0,0,1,1336.9,743.5)" font-size="16">UL2</text><text transform="matrix(1.03,0,0,1,1384.5,743.5)" font-size="16">UL4</text><text transform="matrix(1.03,0,0,1,1432.2,743.5)" font-size="16">UL5</text><text transform="matrix(1.03,0,0,1,1486.4,743.5)" font-size="16">UL6</text><text transform="matrix(1.03,0,0,1,1565.6,763.5)" font-size="16">UL7</text><text transform="matrix(1.03,0,0,1,1565.6,743.5)" font-size="16">UL8</text><text transform="matrix(1.03,0,0,1,1661.7,743.5)" font-size="16">UL9</text><text transform="matrix(1.03,0,0,1,1735.2,743.5)" font-size="16">UL10</text><text transform="matrix(1.03,0,0,1,1812.1,743.5)" font-size="16">UL11</text><text transform="matrix(1.03,0,0,1,1902.6,743.5)" font-size="16">UL13</text>
<path d="M157.0,695.5v3.5M245.8,695.5v3.5M334.6,695.5v3.5M423.3,695.5v3.5M512.1,695.5v3.5M600.9,695.5v3.5M689.7,695.5v3.5M778.5,695.5v3.5M867.2,695.5v3.5M956.0,695.5v3.5M1044.8,695.5v3.5M1133.6,695.5v3.5M1222.4,695.5v3.5M1311.1,695.5v3.5M1399.9,695.5v3.5M1488.7,695.5v3.5M1577.5,695.5v3.5M1666.3,695.5v3.5M1755.0,695.5v3.5M1843.8,695.5v3.5M1932.6,695.5v3.5" stroke="#333" stroke-width="0.9" fill="none"/>
<path d="M112.6,868h108v-1h2v-1h2v-0.5h2v1h2v0.5h2v0.5h2v-0.5h4v-2.5h2v-0.5h2v1.5h2v-2.5h2v-1h2v-0.5h2v0.5h2v-1h2v1h4v0.5h2v-1.5h2v5h2v2h56v-0.5h2v-2h4v-0.5h2v0.5h2v0.5h2v-2.5h2v-0.5h2v1.5h2v-1.5h2v-0.5h2v-2h2v-1h6v2.5h2v-2.5h2v1h2v2h2v-1h2v0.5h2v0.5h2v2h2v3.5h40v-2h2v-0.5h4v1h2v-0.5h2v-3h2v1.5h2v-2h4v-0.5h4v1.5h2v-1.5h2v1h2v-1.5h2v0.5h2v-0.5h2v1h6v-2.5h4v2.5h2v0.5h2v-2h2v0.5h4v0.5h6v-0.5h4v-0.5h2v0.5h2v-1h2v-0.5h2v2h2v-1.5h4v-0.5h2v-1.5h6v1.5h4v-0.5h2v-2.5h2v0.5h2v-2h2v-0.5h2v1.5h6v-2h2v0.5h2v-1h2v-0.5h2v1h2v-2.5h2v0.5h2v2h2v-1h2v1.5h2v0.5h4v-0.5h4v2h2v-2h2v3.5h2v-1.5h2v-0.5h4v-0.5h2v-2h2v1h2v0.5h2v0.5h2v-0.5h2v-2.5h2v1h2v-1h2v3h2v-3h8v-1h2v-2.5h10v2h2v-0.5h2v-0.5h2v-0.5h2v-0.5h2v0.5h2v-0.5h4v-1.5h4v0.5h2v0.5h2v0.5h2v2h2v1h4v2.5h2v2.5h2v1.5h2v2.5h2v1h2v-0.5h4v-0.5h2v0.5h6v0.5h2v0.5h2v0.5h4v1.5h4v-0.5h2v-1.5h2v-2h2v-4.5h2v-1h2v-2.5h2v-3.5h2v-3.5h2v-2h2v-0.5h4v1.5h2v1.5h2v0.5h2v-0.5h2v-2h2v-0.5h2v2.5h2v-0.5h2v-2.5h2v-0.5h4v1.5h2v-2h2v-0.5h2v-0.5h2v1.5h2v-3h2v-0.5h2v-0.5h2v0.5h2v-0.5h2v-1h2v-1h2v1.5h2v-1h2v-4.5h2v-0.5h2v-0.5h2v-0.5h2v0.5h2v0.5h4v1.5h2v-0.5h2v-1h2v-1.5h2v1h2v-2h2v-3.5h2v1h2v1h2v-1h2v-3h2v-0.5h2v-1.5h2v0.5h2v2h2v-5.5h2v-0.5h4v3h2v-4.5h4v4h2v-4.5h2v2h2v-1h2v-2h2v0.5h2v1h2v1h2v1h2v3h2v-2h2v4h2v-1h2v1h2v2h2v2.5h2v3.5h2v2h2v1.5h2v3h2v-2.5h2v0.5h2v0.5h2v-1h2v0.5h2v1.5h4v0.5h2v1.5h2v-1.5h2v0.5h2v1h2v-1h2v2h2v1.5h2v-2h4v2.5h2v-1.5h2v1.5h2v0.5h2v0.5h2v0.5h2v-3h2v2h2v2.5h2v-1.5h2v0.5h2v-0.5h2v1.5h4v0.5h2v-0.5h2v1.5h2v-1h2v2.5h2v-0.5h2v1h2v-1h4v-2h2v-3.5h4v0.5h4v2h4v-2h2v-1h2v-1h2v-1h2v1h2v0.5h2v2h4v0.5h2v-0.5h4v-0.5h2v-1h2v-0.5h2v1.5h2v2.5h2v0.5h2v-0.5h4v0.5h2v-1.5h2v1h2v1h2v2.5h2v1h2v0.5h2v-0.5h2v1h2v0.5h2v-0.5h2v3.5h2v1.5h2v1.5h4v2h6v-2h2v-0.5h2v-2h2v-0.5h2v-1.5h2v-2h2v-3.5h2v-2h2v-2h2v-2.5h2v1.5h2v-1.5h4v-3h2v-0.5h4v-1h2v-0.5h2v1.5h4v-2.5h4v1h2v1.5h2v0.5h2v0.5h2v1.5h2v1.5h2v0.5h2v0.5h2v1.5h4v-2h2v3.5h2v-3h4v0.5h2v1.5h2v-1h4v0.5h2v0.5h2v0.5h2v0.5h2v0.5h2v3h2v2.5h2v-1h2v2h2v0.5h2v1.5h2v3h2v0.5h2v-2h2v0.5h6v-0.5h2v-0.5h4v-0.5h6v-0.5h2v1h2v-0.5h2v-2h2v-1.5h2v-0.5h2v-5h2v1.5h2v-2h4v0.5h4v0.5h2v2h2v0.5h2v2h4v-1.5h4v0.5h2v1.5h2v-0.5h2v2h2v-3h2v3h4v0.5h2v-1.5h2v-0.5h2v1.5h2v2.5h2v3.5h2v0.5h2v1h2v0.5h2v0.5h2v0.5h4v-0.5h2v-2h2v2h12v-1h2v0.5h2v1h2v1h2v2.5h4v-1h2v-3h2v2h2v-1.5h2v-1h2v-0.5h2v-2.5h2v0.5h8v2h2v-1h2v0.5h2v1.5h2v0.5h2v1h2v-0.5h2v-4h2v-2.5h4v2h2v0.5h2v2.5h2v3.5h2v2.5h18v-1.5h2v-3.5h2v-3h2v-1.5h2v-2h2v2.5h2v1.5h2v0.5h2v-1h2v-1h2v-2h2v-0.5h2v1h2v-0.5h2v-1h2v0.5h6v-0.5h4v-1.5h2v2h2v-0.5h2v-1.5h2v0.5h2v1.5h2v-2.5h2v1h2v-0.5h2v-1h2v-1h2v1h2v-2.5h2v-0.5h4v-0.5h2v-3h2v-0.5h4v0.5h2v1h2v-0.5h4v1h2v3.5h2v-1h2v3h2v1.5h2v-1.5h2v1.5h2v1h2v1h2v2.5h2v1h2v2h4v-1h2v1h2v1h2v0.5h2v1.5h4v0.5h2v0.5h6v-0.5h6v-1.5h2v-1h2v-1h2v-1h2v-0.5h2v2h2v-0.5h4v-1.5h4v1.5h2v0.5h4v-2h6v0.5h2v-1h2v-0.5h2v-1h2v-1h2v1.5h2v0.5h2v-0.5h2v0.5h2v1h2v0.5h2v1.5h2v1h2v0.5h2v-1h4v2.5h2v-0.5h2v1h2v1h62v-1.5h2v-1.5h2v-1.5h2v-1h4v-1h2v1h2v-1.5h2v2h2v0.5h2v1h4v3.5h96v-2h2v-1h2v-0.5h2v-0.5h4v0.5h2v-0.5h2v0.5h2v1.5h2v2h34v-0.5h2v-10.5h4v-1.5h2v-1h2v0.5h2v-2h2v-1h2v-1.5h2v-0.5h2v1.5h2v2h2v-0.5h2v0.5h2v0.5h6v0.5h2v1h2v0.5h2v0.5h4v0.5h2v-0.5h2v3h2v-2.5h2v1.5h4v1h2v0.5h2v1h2v-1.5h2v0.5h2v2.5h2v1h2v-1.5h2v0.5h4v1h2v-1.5h4v-1h4v0.5h4v0.5h2v0.5h4v1h2v0.5h2v-1h6v-1h2v-1h2v-1h2v-1.5h2v1h2v-0.5h2v-0.5h2v-0.5h2v-0.5h2v-0.5h2v-2h2v-0.5h2v0.5h2v-0.5h2v0.5h4v1h2v-2h2v2.5h2v1h2v0.5h4v1h2v0.5h2v1h2v0.5h2v-0.5h2v0.5h4v0.5h4v2h2v1h2v1h4v0.5h2v-0.5h2v-0.5h2v-1h2v1.5h2v-1.5h2v-0.5h2v-1h4v-0.5h2v-1.5h2v1h2v0.5h2v0.5h2v0.5h2v0.5h2v0.5h2v0.5h2v0.5h2v1h2v2h28V868Z" fill="#f9c8ae"/>
<path d="M112.6,868v-0.5h2v-1h4v-1h4v1h2v-0.5h2v-1.5h2v-3h2v-1.5h4v-0.5h2v-0.5h2v-0.5h2v-1h2v0.5h6v-1h2v1h2v3.5h2v1h2v-1h2v0.5h2v1.5h2v1h4v0.5h2v-1.5h2v0.5h2v-1h2v0.5h4v2.5h2v-2h2v-0.5h2v-1h4v1h2v-1h2v-0.5h4v1.5h2v-0.5h2v-0.5h2v-1.5h2v-1h2v2h2v-1.5h2v-0.5h2v-0.5h2v2h2v2h2v2.5h2v2h42v-2.5h2v-2h4v0.5h2v-0.5h4v-1h4v0.5h6v-2h2v1.5h2v-3h2v-0.5h2v0.5h2v-2.5h2v-2h2v-1.5h2v1h4v1.5h2v1h2v3.5h2v1.5h2v3h2v1.5h2v1.5h50v-2h2v-1h2v-0.5h2v1h4v-0.5h8v0.5h2v-0.5h4v-1.5h6v0.5h2v0.5h2v1h2v2.5h870v-0.5h2v-2.5h2v-2h2v2h4v-1h2v-1h2v2h2v3h212v-1h2v-1.5h2v-0.5h2v-0.5h2v-2.5h4v-3.5h2v-0.5h2v1h2v-2h2v-1h2v-1.5h2v-1h2v-1.5h2v-2h2v1.5h2v1h2v2h2v5h2v4h2v1h2v0.5h2v1h4v-1h2v-0.5h4v1.5h2v-0.5h4v2.5h26v-1.5h2v-0.5h6v-1h4v-1h2v-2h2v-2h2v0.5h2v-1.5h2v-3h2v0.5h2v0.5h2v0.5h2v0.5h2v-0.5h2v2h2v-0.5h2v-1h2v-1.5h2v1h2v-3h2v-0.5h2v-0.5h6v0.5h4v3h2v1.5h2v1.5h2v1h4v1h4v-2h2v2h8v1h2v0.5h2v0.5h2v0.5h2v1.5h2v1.5h2v0.5h20v-2.5h2v0.5h4v1h2v-1h4v0.5h2v0.5h2v0.5h4v-1h2v-0.5h2v1.5h4v-1h2v0.5h2v1h218v-2.5h6v2h2v-1h6v-2h2v-1h2v-0.5h2v-1.5h2v0.5h2v-0.5h2V868Z" fill="#c6dfeb"/>
<polygon points="126.6,892.6 252.2,892.6 246.2,903.7 126.6,903.7" fill="#999" fill-opacity=".5"/><polygon points="266.4,892.6 352.6,892.6 346.6,903.7 266.4,903.7" fill="#999" fill-opacity=".5"/><polygon points="266.4,892.6 352.6,892.6 351.2,895.2 266.4,895.2" fill="#707070"/><polygon points="354.6,892.6 381.2,892.6 375.2,903.7 354.6,903.7" fill="#999" fill-opacity=".5"/><polygon points="401.8,892.6 462.6,892.6 456.6,903.7 401.8,903.7" fill="#999" fill-opacity=".5"/><polygon points="472.4,892.6 500.2,892.6 494.2,903.7 472.4,903.7" fill="#999" fill-opacity=".5"/><polygon points="510.3,892.6 607.8,892.6 601.8,903.7 510.3,903.7" fill="#999" fill-opacity=".5"/><polygon points="608.3,892.6 633.8,892.6 627.8,903.7 608.3,903.7" fill="#999" fill-opacity=".5"/><polygon points="658.4,892.6 747.5,892.6 741.5,903.7 658.4,903.7" fill="#999" fill-opacity=".5"/><polygon points="658.4,892.6 747.5,892.6 746.1,895.2 658.4,895.2" fill="#707070"/><polygon points="761.7,892.6 793.8,892.6 793.8,903.7 767.7,903.7" fill="#999" fill-opacity=".5"/><polygon points="818.1,892.6 825.6,892.6 825.6,903.7 818.1,903.7" fill="#999" fill-opacity=".5"/><path d="M825.6,904.2V892.6L829.5,888.6L833.4,892.6V904.2Z" fill="#fff"/><path d="M825.6,893.1L829.5,889.0L833.4,893.1" fill="none" stroke="#bdbdbd" stroke-width="1.3"/><polygon points="833.4,892.6 852.2,892.6 846.2,903.7 833.4,903.7" fill="#999" fill-opacity=".5"/><polygon points="886.4,892.6 961.6,892.6 961.6,903.7 892.4,903.7" fill="#999" fill-opacity=".5"/><polygon points="981.0,892.6 1078.2,892.6 1078.2,903.7 987.0,903.7" fill="#999" fill-opacity=".5"/><polygon points="1080.6,892.6 1255.1,892.6 1249.1,903.7 1080.6,903.7" fill="#999" fill-opacity=".5"/><polygon points="1272.5,892.6 1322.2,892.6 1322.2,903.7 1278.5,903.7" fill="#999" fill-opacity=".5"/><polygon points="1272.5,892.6 1322.2,892.6 1322.2,895.2 1273.9,895.2" fill="#707070"/><polygon points="1328.0,892.6 1489.5,892.6 1489.5,903.7 1334.0,903.7" fill="#999" fill-opacity=".5"/><polygon points="1498.8,892.6 1589.1,892.6 1589.1,903.7 1504.8,903.7" fill="#999" fill-opacity=".5"/><polygon points="1498.8,892.6 1589.1,892.6 1589.1,895.2 1500.2,895.2" fill="#707070"/><path d="M1589.1,904.2V892.6L1595.5,888.6L1601.9,892.6V904.2Z" fill="#fff"/><path d="M1589.1,893.1L1595.5,889.0L1601.9,893.1" fill="none" stroke="#bdbdbd" stroke-width="1.3"/><polygon points="1601.9,892.6 1698.2,892.6 1698.2,903.7 1601.9,903.7" fill="#999" fill-opacity=".5"/><polygon points="1601.9,892.6 1698.2,892.6 1698.2,895.2 1601.9,895.2" fill="#707070"/><polygon points="1709.8,892.6 1741.6,892.6 1741.6,903.7 1715.8,903.7" fill="#999" fill-opacity=".5"/><polygon points="1709.8,892.6 1741.6,892.6 1741.6,895.2 1711.2,895.2" fill="#707070"/><polygon points="1746.5,892.6 1766.8,892.6 1766.8,903.7 1752.5,903.7" fill="#999" fill-opacity=".5"/><polygon points="1784.4,892.6 1942.7,892.6 1936.7,903.7 1784.4,903.7" fill="#999" fill-opacity=".5"/><polygon points="1784.4,892.6 1942.7,892.6 1941.3,895.2 1784.4,895.2" fill="#707070"/><polygon points="1950.8,892.6 1977.4,892.6 1977.4,903.7 1956.8,903.7" fill="#999" fill-opacity=".5"/><polygon points="1950.8,892.6 1977.4,892.6 1977.4,895.2 1952.2,895.2" fill="#1e1e1e"/><text transform="matrix(1.03,0,0,1,126.6,916.5)" font-size="16">UL13</text><text transform="matrix(1.03,0,0,1,266.4,916.5)" font-size="16">UL14</text><text transform="matrix(1.03,0,0,1,354.6,916.5)" font-size="16">UL15A</text><text transform="matrix(1.03,0,0,1,401.8,928.5)" font-size="16">UL16</text><text transform="matrix(1.03,0,0,1,472.4,916.5)" font-size="16">UL17</text><text transform="matrix(1.03,0,0,1,510.3,928.5)" font-size="16">UL18</text><text transform="matrix(1.03,0,0,1,608.3,916.5)" font-size="16">UL19</text><text transform="matrix(1.03,0,0,1,658.4,916.5)" font-size="16">UL20</text><text transform="matrix(1.03,0,0,1,767.7,916.5)" font-size="16">UL21A</text><text transform="matrix(1.03,0,0,1,818.1,928.5)" font-size="16">UL22A</text><text transform="matrix(1.03,0,0,1,892.4,916.5)" font-size="16">UL23</text><text transform="matrix(1.03,0,0,1,987.0,916.5)" font-size="16">UL24</text><text transform="matrix(1.03,0,0,1,1080.6,916.5)" font-size="16">UL25</text><text transform="matrix(1.03,0,0,1,1278.5,916.5)" font-size="16">UL26</text><text transform="matrix(1.03,0,0,1,1334.0,916.5)" font-size="16">UL27</text><text transform="matrix(1.03,0,0,1,1504.8,916.5)" font-size="16">UL29</text><text transform="matrix(1.03,0,0,1,1715.8,916.5)" font-size="16">UL30</text><text transform="matrix(1.03,0,0,1,1752.5,928.5)" font-size="16">UL30A</text><text transform="matrix(1.03,0,0,1,1784.4,916.5)" font-size="16">UL31</text><text transform="matrix(1.03,0,0,1,1956.8,916.5)" font-size="16">UL32</text>
<path d="M157.0,868.5v3.5M245.8,868.5v3.5M334.6,868.5v3.5M423.3,868.5v3.5M512.1,868.5v3.5M600.9,868.5v3.5M689.7,868.5v3.5M778.5,868.5v3.5M867.2,868.5v3.5M956.0,868.5v3.5M1044.8,868.5v3.5M1133.6,868.5v3.5M1222.4,868.5v3.5M1311.1,868.5v3.5M1399.9,868.5v3.5M1488.7,868.5v3.5M1577.5,868.5v3.5M1666.3,868.5v3.5M1755.0,868.5v3.5M1843.8,868.5v3.5M1932.6,868.5v3.5" stroke="#333" stroke-width="0.9" fill="none"/>
<path d="M112.6,1041.4v-3.5h2v-2h2v-3h2v0.5h2v1h2v3h2v-1.5h2v2h2v0.5h2v0.5h2v1h2v0.5h2v0.5h2v-1.5h2v-1.5h4v-1h2v-0.5h2v-0.5h2v-1.5h4v-0.5h2v0.5h2v1.5h2v0.5h2v-0.5h2v0.5h2v0.5h2v2h2v0.5h2v1.5h2v0.5h1802V1041.4Z" fill="#f9c8ae"/>
<path d="M112.6,1041.4h64v-0.5h6v-0.5h2v1h2v-2.5h2v-1.5h2v1h2v-1h2v-2.5h2v0.5h4v-0.5h2v0.5h2v-2h2v-0.5h10v-0.5h2v-0.5h2v-1.5h2v-1.5h2v-0.5h2v-0.5h2v-1h2v-1.5h2v-1.5h2v-2h2v-1h2v-0.5h2v-0.5h2v-0.5h4v-1.5h4v-1h4v-1.5h2v-0.5h2v-0.5h2v2.5h2v5h6v-0.5h4v-1h2v0.5h2v-0.5h4v-2h2v1.5h2v0.5h2v0.5h2v-3h2v1h2v2h2v-0.5h2v-0.5h2v0.5h2v0.5h4v1h2v-1h4v1h8v1h2v0.5h2v1h2v-1h4v-2.5h2v-0.5h2v-1.5h2v-2.5h2v-3h2v-1h2v-0.5h2v1h2v-3h2v-0.5h4v-0.5h2v1.5h2v-0.5h4v1.5h2v0.5h6v-3h4v1h2v0.5h2v1h2v2.5h2v5h2v4.5h2v0.5h2v-1h2v-0.5h2v0.5h2v2h2v-1.5h2v0.5h2v-3.5h2v-0.5h2v-2h2v-1.5h4v-2h2v-0.5h2v0.5h2v1h2v0.5h2v0.5h2v0.5h2v2.5h2v2h2v1h2v0.5h2v-1h4v0.5h6v-0.5h2v2h2v-0.5h2v-1.5h2v2.5h2v1.5h2v3h4v1h4v-0.5h2v-3h2v-2h2v-1.5h2v-0.5h4v1.5h2v-0.5h2v-0.5h2v-1.5h4v-2.5h2v-3h4v2h6v-0.5h2v2h4v-0.5h6v1h2v-1h2v-0.5h2v-0.5h2v-1.5h2v1h2v-0.5h2v0.5h6v3h2v-2h2v-0.5h4v0.5h2v2h4v-2.5h2v2h2v-1h2v-0.5h2v-1.5h2v-0.5h2v-2h2v-0.5h2v-0.5h2v-1h2v2.5h2v-2h2v1h2v2.5h2v0.5h2v-1h4v1.5h2v-2h4v2h2v-1.5h2v2.5h2v0.5h2v-0.5h4v3h2v-1.5h2v-0.5h2v-0.5h4v1h4v-0.5h4v1h2v-3h2v1h2v0.5h2v1.5h2v0.5h2v-1.5h2v2.5h2v-0.5h2v-2h2v-1h2v-1h2v-1.5h2v-0.5h2v-1h2v0.5h2v-1h2v-3.5h2v-1h6v-0.5h2v-1h2v-1h2v1.5h2v-2h2v-2h2v-1.5h2v-0.5h2v-0.5h2v1.5h2v-1h2v0.5h2v0.5h2v0.5h2v4h2v-2h2v0.5h4v3.5h2v0.5h2v-1.5h2v2h4v0.5h2v-1.5h2v1.5h6v-0.5h2v0.5h2v-4h2v1h2v-2h4v2.5h4v-0.5h2v1h2v-3h4v-1h2v-0.5h4v2h2v-0.5h2v0.5h2v-0.5h4v-2.5h2v1h2v0.5h4v0.5h6v0.5h4v-1.5h2v4h4v0.5h8v-4h6v0.5h2v2.5h2v0.5h4v1h2v-4h2v-1h2v1.5h2v-1h2v-2h4v-1.5h4v-2h4v0.5h2v-1h2v1.5h2v2h2v-3.5h4v-1.5h2v0.5h2v-7h2v-2.5h2v1.5h2v-2.5h4v2h2v-1.5h2v-1h2v-1h6v3h4v-3.5h6v0.5h6v2.5h2v0.5h6v0.5h4v1.5h2v-3h4v0.5h4v4.5h2v-5h2v-0.5h2v-3h2v2h2v-5.5h2v-4h2v-1.5h2v-1.5h2v-6h2v-7h46v5h2v1h2v-1h4v-0.5h2v-1h2v-3.5h488v4h2v-2.5h2v2.5h2v2.5h2v2h4v4.5h2v-4h2v5.5h4v-1.5h2v-0.5h2v-1h2v-0.5h2v-6.5h2v6h2v-2h4v-0.5h2v-0.5h2v-1h2v-2h2v1h2v-5.5h2v4h2v-3.5h2v2h2v2h2v-1.5h2v-3h14v1.5h2v0.5h4v-2h6v4.5h2v-2.5h6v0.5h2v-2.5h8v5h2v-5h4v2.5h2v-0.5h2v-2h20v5.5h2v2.5h2v-2.5h2v-2h2v3h2v-3h2v2.5h2v-2.5h4v0.5h2v0.5h2v-1h2v1.5h2v0.5h2v4h2v-0.5h2v-2h2v0.5h2v1h2v8h2v3h4v0.5h2v2.5h2v-4h4v0.5h2v3.5h2v2.5h2v0.5h2v-4.5h2v0.5h2v3h2v0.5h2v-1.5h6v3.5h2v-1h2v0.5h4v0.5h2v-6.5h2v4h2v4.5h2v4.5h2v0.5h2v-1h2v-3h2v-2h2v-2h2v0.5h2v2h2v0.5h2v2.5h2v0.5h2v0.5h2v0.5h2v0.5h2v-3.5h2v2.5h2v0.5h6v-1.5h2v-1h2v-1h2v2.5h2v-0.5h2v-4h2v2h2v5h2v0.5h2v-0.5h2v-3.5h2v-1h2v-0.5h2v-0.5h2v-1.5h2v0.5h2v-1h4v1h2v-1h2v-2.5h2v-6h2v-1.5h4v-4.5h2v-1h2v0.5h2v4h2v-5h2v5h2v0.5h2v-0.5h2v-1.5h2v0.5h2v0.5h4v2.5h2v-2h2v2.5h2v0.5h2v-1h4v2h2v2h2v2h2v2.5h2v1.5h2v0.5h2v2h2v6h2v-1h2v0.5h2v-0.5h2v-1h2v0.5h2v-1h2v-0.5h2v-4.5h2v-0.5h2v-0.5h2v-1h2v1h2v-1.5h2v-1h2v2.5h2v-3.5h2v5h2v-4.5h2v-0.5h2v2h2v3h2v-5.5h6v1.5h2v-0.5h2v-2h6v2.5h4v0.5h2v-0.5h2v-4h2v-1h2v-0.5h2v-0.5h2v-0.5h2v0.5h2v0.5h2v2h2v0.5h2v-1h2v4h2v0.5h2v-0.5h2v-1h2v-0.5h2v-2h4v-1h4v3h2v2.5h10v3h4v-1.5h2v-1h2v-1h2v-1.5h4v-1.5h2v-1h2v0.5h2v-5h6v0.5h2v3.5h4v2h2v-1h2v-0.5h2v-0.5h2v-1h2v-0.5h2v-0.5h0V1041.4Z" fill="#c6dfeb"/>
<path d="M112.6,1041.4h798v-6.5h2v-1h2v0.5h2v2.5h2v-2h4v-4.5h6v3.5h2v-0.5h2v-4h2v3.5h4v2h2v2h2v2.5h2v2h2v-1.5h2v1.5h2v-2h2v0.5h2v1.5h14v-2.5h2v-4h2v-6.5h2v-5h2v1.5h2v-7h2v-4h2v-4h2v-2.5h2v-4h2v-4.5h2v-5h2v-4.5h2v-3h2v-1h2v-0.5h2v3.5h2v-0.5h4v-1h2v-0.5h2v-3h2v-0.5h2v0.5h2v1h2v-1h2v-1.5h2v-2h2v-2.5h2v-2.5h2v-1.5h2v1h2v2.5h4v2h2v1.5h2v2h2v2.5h2v3h2v-4h2v6h4v1.5h2v2h2v4h2v2h2v5h2v2h2v-4h2v4h2v6h2v10.5h2v1h2v-2.5h2v0.5h2v0.5h2v3h2v-6h2v4.5h2v13h2v0.5h4v-7h2v-2h2v-3.5h4v-4.5h2v-2.5h2v-11h2v-2.5h2v1.5h2v0.5h2v0.5h4v-1h2v1.5h2v-0.5h2v-0.5h2v8h2v3h2v-0.5h2v-1h2v-11h2v-5.5h2v-1h2v-0.5h2v-1h2v1h2v-1h2v3h2v-7.5h2v4h2v3h2v3.5h2v-6.5h2v-6h2v-4.5h4v1.5h2v3.5h2v13.5h2v-13.5h2v-6.5h8v-0.5h2v1.5h2v0.5h2v-3.5h2v6h4v-3h2v-0.5h4v-0.5h2v1.5h2v-1h2v-0.5h2v-4.5h2v2.5h2v-3.5h2v-6.5h2v-6h4v-3h2v0.5h2v1h2v-0.5h2v5h2v-3.5h2v4.5h2v0.5h4v3h2v3h2v0.5h2v1h2v0.5h2v1h2v5h2v1h2v1.5h2v1.5h2v-0.5h2v-5h2v-0.5h2v-4h2v-3.5h2v-3.5h2v-2.5h2v-1.5h2v-6.5h36v2.5h2v3.5h2v-2h2v1.5h2v2.5h2v4.5h2v5h2v3.5h2v3.5h2v1.5h2v1.5h2v1h2v3h2v3.5h2v5h2v2.5h2v-1h2v2.5h2v5h2v1.5h4v2.5h2v2h2v6h2v2h2v-0.5h2v-3.5h4v0.5h2v0.5h2v1h2v5.5h2v0.5h4v0.5h4v0.5h2v-5h2v3.5h2v-1h2v-1h2v-1h2v-0.5h2v-4.5h2v2h4v3h2v-4h2v-7.5h2v-0.5h2v-3.5h2v-3.5h2v1h2v0.5h2v5.5h2v0.5h2v1h2v-1.5h2v4h2v1.5h2v1h4v1h2v2.5h2v1h2v3h2v-2h2v5.5h2v-1.5h2v0.5h2v2h2v5h2v2.5h2v2.5h60v-1.5h2v-1h4v-6.5h2v0.5h2v3.5h2v1.5h2v3.5h6v-0.5h6v0.5h10v-0.5h4v0.5h2v-0.5h2v0.5h4v-0.5h2v0.5h6v-5h2v-2.5h4v1h2v1h2v5.5h2v-3h2v1.5h2v1.5h390V1041.4Z" fill="#6aa8cf"/>
<path d="M112.6,1041.4h1162v-2h4v-2.5h2v-4.5h2v2h2v-4.5h2v-1.5h2v-1.5h4v-2.5h2v-3h2v-2h2v-1.5h2v5.5h2v-2h2v7.5h2v5h2v7.5h668V1041.4Z" fill="#2f6fa8"/>
<polygon points="112.6,1066.0 167.1,1066.0 161.1,1077.1 112.6,1077.1" fill="#999" fill-opacity=".5"/><polygon points="112.6,1066.0 167.1,1066.0 165.7,1068.6 112.6,1068.6" fill="#707070"/><polygon points="174.7,1066.0 453.9,1066.0 453.9,1077.1 180.7,1077.1" fill="#999" fill-opacity=".5"/><polygon points="174.7,1066.0 453.9,1066.0 453.9,1068.6 176.1,1068.6" fill="#1e1e1e"/><polygon points="460.2,1066.0 464.0,1066.0 464.0,1077.1 460.2,1077.1" fill="#999" fill-opacity=".5"/><path d="M464.0,1077.6V1066.0L468.6,1062.0L473.3,1066.0V1077.6Z" fill="#fff"/><path d="M464.0,1066.5L468.6,1062.4L473.3,1066.5" fill="none" stroke="#bdbdbd" stroke-width="1.3"/><polygon points="473.3,1066.0 580.3,1066.0 574.3,1077.1 473.3,1077.1" fill="#999" fill-opacity=".5"/><polygon points="613.5,1066.0 721.5,1066.0 715.5,1077.1 613.5,1077.1" fill="#999" fill-opacity=".5"/><polygon points="613.5,1066.0 721.5,1066.0 720.1,1068.6 613.5,1068.6" fill="#1e1e1e"/><polygon points="729.3,1066.0 900.0,1066.0 894.0,1077.1 729.3,1077.1" fill="#999" fill-opacity=".5"/><polygon points="729.3,1066.0 900.0,1066.0 898.6,1068.6 729.3,1068.6" fill="#707070"/><polygon points="920.2,1066.0 1028.8,1066.0 1028.8,1077.1 926.2,1077.1" fill="#999" fill-opacity=".5"/><path d="M1028.8,1077.6V1066.0L1033.8,1062.0L1038.9,1066.0V1077.6Z" fill="#fff"/><path d="M1028.8,1066.5L1033.8,1062.4L1038.9,1066.5" fill="none" stroke="#bdbdbd" stroke-width="1.3"/><path d="M1028.8,1077.6V1066.0L1033.8,1062.0L1038.7,1066.0V1077.6Z" fill="#fff"/><path d="M1028.8,1066.5L1033.8,1062.4L1038.7,1066.5" fill="none" stroke="#bdbdbd" stroke-width="1.3"/><polygon points="1038.7,1066.0 1056.6,1066.0 1056.6,1077.1 1038.7,1077.1" fill="#999" fill-opacity=".5"/><polygon points="1069.1,1066.0 1151.5,1066.0 1151.5,1077.1 1075.1,1077.1" fill="#999" fill-opacity=".5"/><path d="M1151.5,1077.6V1066.0L1155.9,1062.0L1160.2,1066.0V1077.6Z" fill="#fff"/><path d="M1151.5,1066.5L1155.9,1062.4L1160.2,1066.5" fill="none" stroke="#bdbdbd" stroke-width="1.3"/><polygon points="1160.2,1066.0 1164.5,1066.0 1164.5,1077.1 1160.2,1077.1" fill="#999" fill-opacity=".5"/><path d="M1164.5,1067.0 L1218.8,1062.5 L1273.1,1067.0" fill="none" stroke="#b4b4b4" stroke-width="1.6"/><polygon points="1273.1,1066.0 1316.5,1066.0 1316.5,1077.1 1273.1,1077.1" fill="#999" fill-opacity=".5"/><polygon points="1177.0,1074.4 1265.0,1074.4 1265.0,1085.5 1183.0,1085.5" fill="#999" fill-opacity=".5"/><polygon points="1177.0,1074.4 1265.0,1074.4 1265.0,1077.0 1178.4,1077.0" fill="#707070"/><polygon points="1363.3,1066.0 1421.2,1066.0 1421.2,1077.1 1369.3,1077.1" fill="#999" fill-opacity=".5"/><polygon points="1436.5,1066.0 1456.8,1066.0 1456.8,1077.1 1442.5,1077.1" fill="#999" fill-opacity=".5"/><polygon points="1466.9,1066.0 1498.8,1066.0 1498.8,1077.1 1472.9,1077.1" fill="#999" fill-opacity=".5"/><polygon points="1505.8,1066.0 1618.1,1066.0 1618.1,1077.1 1511.8,1077.1" fill="#999" fill-opacity=".5"/><polygon points="1623.0,1066.0 1737.8,1066.0 1737.8,1077.1 1629.0,1077.1" fill="#999" fill-opacity=".5"/><polygon points="1623.0,1066.0 1737.8,1066.0 1737.8,1068.6 1624.4,1068.6" fill="#1e1e1e"/><polygon points="1750.9,1066.0 1977.4,1066.0 1977.4,1077.1 1756.9,1077.1" fill="#999" fill-opacity=".5"/><text transform="matrix(1.03,0,0,1,112.6,1089.9)" font-size="16">UL31</text><text transform="matrix(1.03,0,0,1,180.7,1089.9)" font-size="16">UL32</text><text transform="matrix(1.03,0,0,1,460.2,1089.9)" font-size="16">UL33</text><text transform="matrix(1.03,0,0,1,613.5,1089.9)" font-size="16">UL34</text><text transform="matrix(1.03,0,0,1,729.3,1089.9)" font-size="16">UL35</text><text transform="matrix(1.03,0,0,1,926.2,1089.9)" font-size="16">UL36</text><text transform="matrix(1.03,0,0,1,1075.1,1089.9)" font-size="16">UL37</text><text transform="matrix(1.03,0,0,1,1183.0,1098.3)" font-size="16">UL38</text><text transform="matrix(1.03,0,0,1,1369.3,1089.9)" font-size="16">UL40</text><text transform="matrix(1.03,0,0,1,1442.5,1089.9)" font-size="16">UL41A</text><text transform="matrix(1.03,0,0,1,1472.9,1101.9)" font-size="16">UL42</text><text transform="matrix(1.03,0,0,1,1511.8,1089.9)" font-size="16">UL43</text><text transform="matrix(1.03,0,0,1,1629.0,1089.9)" font-size="16">UL44</text><text transform="matrix(1.03,0,0,1,1756.9,1089.9)" font-size="16">UL45</text>
<path d="M157.0,1041.9v3.5M245.8,1041.9v3.5M334.6,1041.9v3.5M423.3,1041.9v3.5M512.1,1041.9v3.5M600.9,1041.9v3.5M689.7,1041.9v3.5M778.5,1041.9v3.5M867.2,1041.9v3.5M956.0,1041.9v3.5M1044.8,1041.9v3.5M1133.6,1041.9v3.5M1222.4,1041.9v3.5M1311.1,1041.9v3.5M1399.9,1041.9v3.5M1488.7,1041.9v3.5M1577.5,1041.9v3.5M1666.3,1041.9v3.5M1755.0,1041.9v3.5M1843.8,1041.9v3.5M1932.6,1041.9v3.5" stroke="#333" stroke-width="0.9" fill="none"/>
<path d="M112.6,1213.7h748v-0.5h4v-1h2v-0.5h2v-0.5h2v2.5h6v-1.5h2v-1h2v-1h2v-1.5h2v-1h2v-1h2v-1.5h2v-1.5h6v-2h2v0.5h2v0.5h2v2.5h2v0.5h2v0.5h2v-1.5h2v0.5h2v1.5h2v0.5h2v-1h2v-4h2v-3.5h2v-4.5h2v-1h2v1.5h2v-0.5h2v-3h2v-1h2v-0.5h2v-1h2v-0.5h2v-2.5h2v-0.5h2v1.5h2v-1h2v-5h2v-1.5h2v-0.5h2v3h2v-2h2v-0.5h2v-1h2v-2h2v-1h2v-0.5h2v-0.5h2v1.5h2v-0.5h2v-0.5h2v-1.5h4v-3h2v2h2v-1h2v1h2v-1h2v-1h2v-4h2v1h2v-3.5h2v-1h2v-2h2v4h2v-1.5h2v-1h2v-1h2v-2.5h2v-0.5h2v-2.5h2v-2h4v-0.5h4v-1h2v3.5h2v-1.5h2v2.5h2v-1.5h2v3h2v-2h2v1.5h2v1h2v-1h2v4.5h2v1h2v-1.5h2v1.5h2v1.5h2v0.5h2v1.5h2v1h2v-1h2v0.5h4v-1h2v4.5h4v-4h2v1h4v0.5h2v4h2v0.5h2v-4h4v3h4v-0.5h2v0.5h2v-1h4v-3.5h4v-0.5h4v-0.5h4v2h4v-3.5h2v-0.5h2v-1.5h2v3h2v-4.5h2v2.5h2v-3.5h2v-4.5h2v-2h2v-1.5h4v-0.5h2v3.5h2v-0.5h4v-0.5h2v-5.5h2v-1h2v-1h2v-1h2v3.5h2v-4h2v-2h2v0.5h2v-4h2v-0.5h2v2.5h2v-7.5h2v-0.5h54v1h2v3h4v-4h2v1.5h2v-1.5h740V1213.7Z" fill="#f9c8ae"/>
<path d="M112.6,1213.7h1060v-2.5h2v-9h2v-1h2v-1h2v3h2v0.5h4v-2.5h2v1.5h2v-1.5h2v0.5h2v-0.5h4v4.5h8v-0.5h4v-2.5h2v0.5h2v4h2v1h2v1h2v1h2v-1h2v4h2v0.5h10v-2h6v1h2v1h2v-4h2v3h2v-2h2v-0.5h2v-4.5h2v-1.5h2v1.5h2v-1h2v-4h2v4h2v-5h2v-2.5h2v-1h2v-1h4v-1h2v-1h2v5h2v-1h2v-6.5h2v0.5h2v-4h2v-1h2v1h2v-2.5h2v4.5h2v-1h2v-1h2v-1h2v-1h2v-0.5h2v-2.5h2v1.5h2v-0.5h2v-1h2v-2.5h2v-1.5h2v-0.5h2v-0.5h4v-1.5h4v-0.5h4v1.5h2v-3.5h2v3.5h2v-1h8v1.5h2v-0.5h2v-1h2v-0.5h2v-0.5h6v-4.5h2v1h2v0.5h2v1.5h2v4h2v-1h2v3h2v0.5h2v-3h2v-0.5h2v-3h2v0.5h2v0.5h4v1h2v0.5h2v1h2v2h2v2h2v-4.5h2v3h2v-2.5h2v3.5h2v-3.5h2v4h2v0.5h2v0.5h2v3.5h2v-4.5h2v4.5h6v-0.5h2v-0.5h2v-1h2v-0.5h2v-0.5h2v-5h2v-0.5h2v3h2v-2h4v-0.5h4v-1.5h2v-1h2v2h2v-1h2v-0.5h2v2h2v-1h2v-5.5h4v6.5h4v1h2v-6h2v0.5h2v5h4v0.5h2v-0.5h2v-4.5h2v1h2v-0.5h4v1h2v1h2v1h2v0.5h2v-0.5h2v-1h2v-0.5h8v1h4v-0.5h2v-3.5h6v0.5h4v3.5h2v-0.5h4v-2.5h2v-0.5h4v-0.5h2v-2h2v1.5h2v-0.5h2v1h2v-2h2v0.5h2v-1h2v6h2v6h2v0.5h6v-0.5h6v1h2v-1h4v0.5h4v1h2v-4.5h2v-0.5h2v5h2v-2.5h2v-0.5h4v-0.5h2v-4h2v2h2v-3.5h2v-4h2v-2.5h2v2h2v-1h2v-2.5h2v-1.5h2v-0.5h2v-0.5h2v1h2v3h2v-0.5h2v0.5h2v-2.5h2v1h4v-0.5h2v-4h2v-0.5h4v-0.5h2v1h2v-4h4v6h2v-4.5h2v3.5h2v1.5h2v-0.5h2v1h2v0.5h2v7.5h2v2h2v-2.5h2v3h2v-6h2v1.5h2v1h2v5h4v-1h2v-2h2v-2h2v1h2v1h4v-0.5h2v4.5h2v-3.5h2v3h2v-6h2v-4h2v-1h2v-2h4v-0.5h4v1h2v-0.5h2v1.5h2v2.5h2v-4h2v-0.5h2v-3.5h2v-1h2v-1h2v-4h2v4h2v-1h2v-0.5h2v-0.5h2v-0.5h2v-3.5h2v0.5h2v4h2v-1.5h2v3h2v3.5h2v5h2v-0.5h4v-0.5h4v-5.5h2v1.5h2v-2h4v-4.5h2v2.5h6v-2h2v2h2v2h2v3.5h2v-1.5h2v-1h2v-2.5h2v-1h2v-1h2v-3.5h2v3h2v-1h4v0.5h2v-4.5h2v1h2v1h2v6h2v1.5h2v2h2v1.5h2v1.5h2v1h2v-2h2v0.5h2v0.5h2v0.5h2v2h2v-1.5h2v0.5h2v5h4v-3h4v3.5h4v-1h2v0.5h2v-2h2v1.5h2v-3h2v2.5h2v-1h2v-3.5h2v-4h2v-1h2v-0.5h2v-0.5h2v-0.5h2v3h2v-3h2v-1h2v-0.5h2v2h2v1h2v-2.5h2v0.5h4v0.5h2v-5h2v5.5h2v0.5h4v-0.5h2v0.5h2v-1h2v-2.5h2v0.5h2v5h4v-4h2v3h2v1.5h2v1.5h2v4h2v-0.5h2v0.5h2v-3.5h4v0.5h2v2h4v-2.5h2v-2.5h2v3.5h2v-2h2v-2.5h2v-0.5h2v4h2v1h2v-0.5h2v-2.5h2v-2h2v1.5h2v5.5h2v1h0V1213.7Z" fill="#e47e65"/>
<path d="M112.6,1213.7v-56.5h2v-3h4v1.5h2v-0.5h2v1.5h2v-3h2v0.5h4v4.5h2v1.5h2v-2.5h2v-0.5h2v-1h2v-1.5h2v1h2v7h2v0.5h2v-1.5h2v-2h2v-0.5h2v0.5h2v4h4v-1h2v-5.5h2v1.5h2v-1.5h2v-1.5h2v2h2v-3h2v-1h2v0.5h4v0.5h2v-1.5h2v1h2v4h2v-1h2v-1h2v-0.5h2v-1h2v-3.5h2v-0.5h2v-2h2v-1h2v2.5h2v-3.5h2v-0.5h4v2.5h2v1h2v3h2v1.5h2v1.5h2v0.5h2v-1h2v0.5h2v-3h2v-2h2v-0.5h2v1.5h2v3h2v3.5h2v0.5h2v-2h2v4h2v0.5h2v0.5h2v-1.5h2v2h2v1.5h2v2h2v-1.5h2v1h2v1h2v4.5h2v1h2v-2.5h2v0.5h4v1h2v1h2v3.5h2v-2.5h2v-0.5h2v-1h2v0.5h4v4h2v-4h2v0.5h2v-1h2v4h6v-2.5h2v-0.5h2v-3h2v-0.5h2v-0.5h4v3.5h4v-2.5h2v1h2v1.5h2v0.5h2v0.5h2v-0.5h2v0.5h2v0.5h2v1h2v1h2v1h4v1h2v3h2v-2h2v0.5h4v2h2v2h2v1h2v1.5h2v1h2v1h2v1h2v2.5h2v-1.5h4v-0.5h2v1.5h2v-1.5h4v0.5h2v-2.5h4v0.5h2v1h2v-1.5h2v1h2v2h2v-2h2v-1.5h2v-1h2v-2h2v-1.5h2v0.5h2v-4.5h2v-1.5h2v-1.5h2v0.5h2v1h2v4.5h2v-2.5h2v1h2v1.5h2v1h2v0.5h2v0.5h2v2h2v0.5h2v1h2v-1.5h8v-1h2v2h2v-3.5h4v-0.5h6v1.5h2v-0.5h2v0.5h2v-1h2v-0.5h4v-1.5h2v-0.5h2v-1h2v-0.5h2v-0.5h2v-1h4v-1h2v-1h4v3.5h6v3h2v2h2v-0.5h2v5h2v-2.5h2v0.5h2v1.5h2v-2h6v1.5h4v1h2v-2.5h2v-1.5h2v-4h2v-1h2v-1h2v-1h2v2.5h2v-0.5h2v-1h2v-2h2v-0.5h4v0.5h4v-2h6v2h2v1h2v1h2v0.5h2v3.5h2v2h4v5.5h2v0.5h2v2.5h2v-2h2v0.5h2v1h4v3h2v-1h2v-0.5h6v1.5h2v1.5h6v-0.5h2v-0.5h2v-0.5h2v-1.5h2v-5.5h2v-4h2v-3h4v-2h2v-0.5h2v-2.5h4v0.5h2v0.5h4v4.5h2v-1.5h2v-2.5h2v0.5h2v1h4v-1h4v-1h2v0.5h4v-1h2v-1h2v0.5h2v2.5h4v2h4v1h2v-1h2v0.5h2v1h2v0.5h2v0.5h2v1h2v3.5h2v1h2v-1h2v2h2v1.5h2v2h2v3h2v0.5h2v-0.5h2v-3.5h2v-2.5h2v-2.5h2v-2.5h2v1.5h2v-1h2v-1h4v-8h2v-5.5h2v-1h2v-0.5h2v2h2v-0.5h2v0.5h4v2.5h2v1h2v1.5h4v3.5h2v2h2v1.5h2v2.5h2v0.5h2v-1h2v2h2v2h2v4.5h2v1.5h2v1h2v0.5h2v-1h2v0.5h2v1h2v2h2v-3.5h2v1h2v-1h2v0.5h2v-0.5h2v-0.5h2v-2.5h2v-0.5h2v-0.5h4v0.5h4v1.5h2v-1.5h4v3.5h2v0.5h2v-2h2v2.5h2v1h2v0.5h2v0.5h2v1h2v6h4v0.5h2v1h4v0.5h2v2h2v-1h2v0.5h4v1h2v1h4v0.5h2v1h4v0.5h2v0.5h1120V1213.7Z" fill="#c6dfeb"/>
<polygon points="113.0,1238.3 215.7,1238.3 215.7,1249.4 113.0,1249.4" fill="#999" fill-opacity=".5"/><polygon points="229.6,1238.3 306.0,1238.3 306.0,1249.4 235.6,1249.4" fill="#999" fill-opacity=".5"/><polygon points="229.6,1238.3 306.0,1238.3 306.0,1240.9 231.0,1240.9" fill="#1e1e1e"/><polygon points="305.4,1246.1 567.3,1246.1 561.3,1257.2 305.4,1257.2" fill="#999" fill-opacity=".5"/><polygon points="305.4,1246.1 567.3,1246.1 565.9,1248.7 305.4,1248.7" fill="#707070"/><polygon points="567.3,1238.3 1164.5,1238.3 1158.5,1249.4 567.3,1249.4" fill="#999" fill-opacity=".5"/><polygon points="567.3,1238.3 1164.5,1238.3 1163.1,1240.9 567.3,1240.9" fill="#1e1e1e"/><polygon points="1176.1,1238.3 1195.5,1238.3 1195.5,1249.4 1182.1,1249.4" fill="#999" fill-opacity=".5"/><polygon points="1176.1,1238.3 1195.5,1238.3 1195.5,1240.9 1177.5,1240.9" fill="#1e1e1e"/><polygon points="1195.5,1246.3 1346.8,1246.3 1346.8,1257.4 1195.5,1257.4" fill="#999" fill-opacity=".5"/><polygon points="1195.5,1246.3 1346.8,1246.3 1346.8,1248.9 1195.5,1248.9" fill="#1e1e1e"/><polygon points="1343.9,1238.3 1449.6,1238.3 1449.6,1249.4 1349.9,1249.4" fill="#999" fill-opacity=".5"/><polygon points="1343.9,1238.3 1449.6,1238.3 1449.6,1240.9 1345.4,1240.9" fill="#1e1e1e"/><polygon points="1451.9,1238.3 1493.0,1238.3 1493.0,1249.4 1457.9,1249.4" fill="#999" fill-opacity=".5"/><polygon points="1451.9,1238.3 1493.0,1238.3 1493.0,1240.9 1453.3,1240.9" fill="#1e1e1e"/><polygon points="1496.4,1238.3 1674.2,1238.3 1668.2,1249.4 1496.4,1249.4" fill="#999" fill-opacity=".5"/><polygon points="1496.4,1238.3 1674.2,1238.3 1672.8,1240.9 1496.4,1240.9" fill="#1e1e1e"/><polygon points="1674.2,1246.3 1774.0,1246.3 1768.0,1257.4 1674.2,1257.4" fill="#999" fill-opacity=".5"/><polygon points="1674.2,1246.3 1774.0,1246.3 1772.6,1248.9 1674.2,1248.9" fill="#1e1e1e"/><polygon points="1773.4,1238.3 1977.4,1238.3 1977.4,1249.4 1779.4,1249.4" fill="#999" fill-opacity=".5"/><polygon points="1773.4,1238.3 1977.4,1238.3 1977.4,1240.9 1774.8,1240.9" fill="#1e1e1e"/><text transform="matrix(1.03,0,0,1,113.0,1262.2)" font-size="16">UL45</text><text transform="matrix(1.03,0,0,1,235.6,1262.2)" font-size="16">UL46</text><text transform="matrix(1.03,0,0,1,305.4,1270.0)" font-size="16">UL47</text><text transform="matrix(1.03,0,0,1,570.2,1262.2)" font-size="16">UL48</text><text transform="matrix(1.03,0,0,1,1182.1,1262.2)" font-size="16">UL48A</text><text transform="matrix(1.03,0,0,1,1203.0,1282.2)" font-size="16">UL49</text><text transform="matrix(1.03,0,0,1,1349.9,1262.2)" font-size="16">UL50</text><text transform="matrix(1.03,0,0,1,1457.9,1262.2)" font-size="16">UL51</text><text transform="matrix(1.03,0,0,1,1496.4,1274.2)" font-size="16">UL52</text><text transform="matrix(1.03,0,0,1,1674.2,1270.2)" font-size="16">UL53</text><text transform="matrix(1.03,0,0,1,1779.4,1262.2)" font-size="16">UL54</text>
<path d="M157.0,1214.2v3.5M245.8,1214.2v3.5M334.6,1214.2v3.5M423.3,1214.2v3.5M512.1,1214.2v3.5M600.9,1214.2v3.5M689.7,1214.2v3.5M778.5,1214.2v3.5M867.2,1214.2v3.5M956.0,1214.2v3.5M1044.8,1214.2v3.5M1133.6,1214.2v3.5M1222.4,1214.2v3.5M1311.1,1214.2v3.5M1399.9,1214.2v3.5M1488.7,1214.2v3.5M1577.5,1214.2v3.5M1666.3,1214.2v3.5M1755.0,1214.2v3.5M1843.8,1214.2v3.5M1932.6,1214.2v3.5" stroke="#333" stroke-width="0.9" fill="none"/>
<path d="M112.6,1386.5v-80h1256v3.5h2v4h2v3.5h2v3h2v4h2v2h2v2h2v1.5h2v-3.5h2v3h2v2h2v1h2v1h2v0.5h2v3.5h2v4h2v-1.5h2v-8h2v-1.5h2v-0.5h2v-0.5h4v0.5h2v-4h2v-2h2v-2h2v-0.5h2v-2.5h2v-7.5h2v0.5h2v-2h2v-2h2v-1.5h144v1.5h2v4h2v0.5h2v0.5h4v-2h2v-0.5h2v-4h8v2.5h2v-2.5h52v1.5h4v1.5h2v-1h2v1.5h2v0.5h2v2.5h2v5h2v0.5h4v-1.5h2v-0.5h2v-2.5h2v2.5h2v-3.5h2v4.5h2v1.5h2v1h2v-0.5h2v-1h2v-1.5h2v-1h2v-4h2v-0.5h2v-1h2v5h2v-3h2v-3.5h2v2h2v-0.5h2v-0.5h2v-3h2v-0.5h4v5.5h2v-5.5h2v5h2v-3h2v0.5h2v-1.5h2v-1h2v4h2v-0.5h2v-3.5h28v2.5h2v0.5h2v0.5h2v0.5h2v0.5h2v-0.5h4v-0.5h2v-3.5h4v3h2v5h2v-6.5h2v-1.5h184V1386.5Z" fill="#f9c8ae"/>
<path d="M112.6,1386.5v-58h2v-1h2v-1h2v4.5h2v-1h2v0.5h2v-3h4v0.5h2v0.5h4v1.5h2v0.5h2v3.5h2v-5.5h2v4.5h2v1.5h2v0.5h2v-6h2v5.5h2v-4h2v-0.5h2v5h2v3h2v-0.5h2v0.5h2v3.5h2v-2h2v-0.5h2v2h4v-3h2v-0.5h2v1h2v-2.5h2v0.5h4v-1.5h2v-1h2v5h4v-0.5h2v-0.5h2v2h2v-0.5h2v-0.5h4v-0.5h2v-2.5h4v-0.5h2v-0.5h2v-0.5h2v-2.5h2v2.5h2v0.5h2v-0.5h4v-0.5h2v-0.5h2v1h4v-0.5h2v-0.5h2v-0.5h2v-0.5h2v-4.5h4v3h4v0.5h2v-2.5h4v0.5h2v0.5h2v1.5h2v1h2v1h2v0.5h2v0.5h2v-1.5h2v0.5h2v3.5h2v-4.5h4v0.5h2v2h2v-1h2v3.5h2v-2.5h2v1.5h2v-1.5h4v4.5h2v0.5h4v-0.5h2v-4.5h2v-1.5h2v-0.5h2v0.5h2v3.5h2v-2h2v-0.5h2v2h4v-4h2v0.5h2v0.5h4v-0.5h2v-1h2v-0.5h2v0.5h2v-1h2v-1h2v-4h2v-0.5h2v4.5h2v0.5h2v0.5h2v0.5h2v-3h2v-1.5h2v4h2v0.5h2v0.5h2v-0.5h2v-0.5h2v-1h2v0.5h2v-5h2v1.5h6v0.5h4v3.5h2v-1h2v0.5h4v-1.5h4v1.5h4v-2h2v-2h2v-0.5h2v1.5h4v-1.5h2v6h2v3h2v1.5h2v0.5h2v0.5h2v0.5h2v0.5h2v-3h4v0.5h2v1h2v3h2v-2h6v-4.5h2v6h2v-0.5h2v-3.5h4v4h2v-0.5h2v2h4v-6h2v-0.5h2v1h4v2.5h6v-3.5h2v4h2v0.5h2v0.5h4v0.5h2v1h2v-3.5h8v3.5h4v-3.5h6v4h12v1.5h2v-5h2v3h4v2.5h2v-1.5h2v0.5h2v1h6v-0.5h2v-3h6v0.5h2v1.5h2v-4h2v2h2v-2.5h4v3.5h2v-0.5h4v-1h2v-0.5h2v3h2v-0.5h4v-0.5h2v-7h2v3h2v-0.5h2v-0.5h2v-0.5h2v1.5h2v-1h4v-2h2v2h6v-5.5h2v1.5h2v-0.5h4v0.5h6v0.5h4v0.5h4v0.5h4v6.5h2v-6h2v2h2v-1.5h2v-1h2v-0.5h2v-1h2v-1h2v-1h2v-3.5h2v-1h2v-0.5h2v5h2v-1h2v-5.5h2v1.5h2v2.5h2v-3.5h2v0.5h2v4.5h2v0.5h2v-5.5h2v4.5h2v-2.5h2v0.5h2v2h2v2h2v1h2v-4.5h2v7h2v0.5h2v0.5h2v-1.5h2v-4.5h2v4.5h2v1h2v-2.5h2v1h2v5.5h2v-0.5h4v-2.5h6v-2h2v-0.5h6v0.5h2v0.5h4v1h2v4h4v-3h4v0.5h6v-2h4v3h2v-1.5h2v3h2v2h2v-2.5h2v0.5h4v3.5h2v0.5h2v0.5h2v-4.5h2v2.5h2v0.5h2v0.5h2v1h2v-2.5h2v5h2v-4h2v-1.5h2v2.5h2v-1h2v-1h2v-5.5h2v-5h2v4h2v3h2v-4.5h2v0.5h2v0.5h2v1h2v1h2v4.5h2v1h4v-1.5h2v2.5h2v-3.5h2v0.5h2v-2h2v2h2v0.5h2v3h2v-2h2v-2h2v-2h2v-2h2v3.5h4v0.5h2v0.5h2v-5.5h2v2.5h2v-3.5h2v-1h2v-5h2v5h2v-2.5h2v-3.5h2v-1h2v0.5h2v-3h2v-1h2v0.5h2v2.5h2v4h2v-5.5h2v-0.5h2v2h2v-0.5h2v0.5h2v0.5h2v2.5h2v2.5h2v-1.5h2v4.5h2v-1h2v-3h2v0.5h2v0.5h2v0.5h2v3h2v1h2v-6h2v2h2v-4h2v1h2v0.5h2v-0.5h2v-0.5h2v1.5h2v-4.5h2v-0.5h2v-0.5h2v4.5h2v-0.5h2v-0.5h4v-0.5h2v-2h4v-0.5h2v-4.5h2v-0.5h2v4h2v-0.5h2v-4h2v1h2v1h2v-0.5h2v-3.5h2v-0.5h2v4.5h4v-0.5h2v-5h2v-1.5h2v4h2v-0.5h2v-3.5h2v-0.5h2v0.5h2v-1.5h2v-0.5h2v3h2v-2h2v-2h2v-1.5h2v0.5h2v5h2v0.5h2v-1h2v-6h2v-0.5h2v-0.5h4v1.5h2v1.5h2v0.5h2v0.5h2v0.5h2v7h2v-6h2v5h4v-2.5h2v-2.5h2v6h4v-1h4v-3h2v0.5h2v3h4v-4.5h2v1h2v2.5h2v1h2v1.5h2v1h2v0.5h4v2h2v2.5h2v0.5h2v0.5h2v-3.5h2v1.5h4v4h4v-1.5h4v-4h6v0.5h2v4.5h2v-3.5h4v-0.5h4v3h2v-0.5h2v-4.5h2v-1h2v-0.5h2v-1h2v-0.5h2v4.5h2v-0.5h2v-1.5h2v-0.5h2v-4h2v4.5h2v-2.5h2v-2h2v0.5h2v2.5h4v-0.5h2v3.5h2v-4h2v1.5h4v2h2v0.5h2v1h2v-0.5h2v-3.5h2v3.5h2v-4h2v0.5h2v7h2v-2h2v-0.5h2v-2.5h2v0.5h2v6.5h2v-6h2v6h2v1.5h2v-0.5h2v1h2v2.5h2v2.5h2v-1.5h2v3.5h2v0.5h2v-1h4v0.5h2v0.5h2v0.5h2v4h2v-1.5h4v-2h2v-1h2v3.5h2v-1.5h8v3.5h2v-4h2v0.5h2v-0.5h2v2h8v0.5h2v1.5h2v-1.5h2v1.5h2v1h2v0.5h2v4.5h2v-5h2v3h2v4h2v1h2v-0.5h4v-4.5h4v5h4v-2h2v-9h2v-2.5h2v0.5h2v0.5h2v6h2v-3.5h2v0.5h2v0.5h2v4h4v-5h2v-1.5h2v5h6v0.5h2v-6h2v6.5h4v0.5h6v1.5h2v-2h2v2h2v3h4v1h2v1h2v1h2v2h2v2h2v2h2v6h2v2.5h2v4h2v4h2v4h2v3.5h2v1.5h64v-2.5h2v-1h2v1h2v-2.5h2v3h8v-3.5h2v-3h4v0.5h2v6.5h2v-5h4v2h4v-3.5h2v0.5h2v0.5h4v-0.5h4v-1.5h4v4.5h4v-4h2v2.5h2v-2.5h2v0.5h2v3h4v2h4v-4h2v-0.5h2v1h2v4.5h2v-4.5h2v-2.5h2v-1.5h2v-3h4v-1.5h2v-1h2v-1h4v1.5h2v-5.5h2v-1h2v-1h2v3.5h2v-0.5h2v-0.5h2v-0.5h2v-0.5h2v-0.5h2v0.5h2v-0.5h2v0.5h2v1h2v1h2v1h2v-2.5h2v4.5h2v4.5h2v2.5h2v3h2v-1.5h2v3h2v2h2v3h26v-0.5h2v-1h4v-0.5h2v-3.5h2v-0.5h2v3.5h2v-0.5h2v-1h2v2h2v-1h2v1.5h2v-4.5h2v0.5h2v1.5h2v4h2v-5.5h2v4h2v-3.5h4v3h2v2h4v-2h2v1.5h2v0.5h80v-1h2v1h6v-5.5h2v-1h2v4.5h2v-1h2v-3.5h2v-5.5h4v8h2v-3.5h2v2h2v3h4v1h2v1.5h16v-0.5h2v0.5h8v-1h2v-2h2v3h2v-0.5h2v-1h2v-3.5h2v-3.5h2v-3.5h2v1h2v-2h2v-1.5h2v1h2v-6h4v4h2v-2h2v2.5h2v-0.5h4v-2.5h6v0.5h2v-4.5h4v-0.5h2v5h2v-1h2v0.5h2v-5.5h2v0.5h2v4.5h2v0.5h2v0.5h2v1h2v-2h2v0.5h2v6h4v1h2v-0.5h2v2h2v1h2v-2.5h2v-2h2v1h2v-6.5h2v-0.5h2v-0.5h2v-0.5h2v-0.5h2v4h2v-0.5h4v-3.5h2v3.5h2v-3.5h4v-0.5h2v-4h2v6h2v-6.5h2v1h2v2.5h2v-2.5h2v0.5h2v2h2v0.5h2v3h4v0.5h2v1h2v0.5h2v-2h2v-1h2v-1h2v0.5h2v0.5h2v0.5h2v5h2v-1.5h2v2.5h2v-2.5h2v4h2v-1h2v0.5h2v1.5h2v1h2v-4h6v3h2V1386.5Z" fill="#e47e65"/>
<path d="M112.6,1386.5h904v-0.5h2v0.5h958V1386.5Z" fill="#c0392b"/>
<polygon points="113.0,1411.1 327.7,1411.1 327.7,1422.2 113.0,1422.2" fill="#999" fill-opacity=".5"/><polygon points="113.0,1411.1 327.7,1411.1 327.7,1413.7 113.0,1413.7" fill="#1e1e1e"/><polygon points="341.6,1411.1 582.6,1411.1 582.6,1422.2 347.6,1422.2" fill="#999" fill-opacity=".5"/><polygon points="341.6,1411.1 582.6,1411.1 582.6,1413.7 343.0,1413.7" fill="#1e1e1e"/><polygon points="579.7,1419.1 805.4,1419.1 805.4,1430.2 585.7,1430.2" fill="#999" fill-opacity=".5"/><polygon points="579.7,1419.1 805.4,1419.1 805.4,1421.7 581.1,1421.7" fill="#1e1e1e"/><polygon points="856.6,1411.1 1184.7,1411.1 1184.7,1422.2 862.6,1422.2" fill="#999" fill-opacity=".5"/><polygon points="856.6,1411.1 1184.7,1411.1 1184.7,1413.7 858.0,1413.7" fill="#1e1e1e"/><polygon points="1190.6,1411.1 1204.2,1411.1 1204.2,1422.2 1196.6,1422.2" fill="#999" fill-opacity=".5"/><polygon points="1267.8,1419.1 1299.7,1419.1 1299.7,1430.2 1273.8,1430.2" fill="#999" fill-opacity=".5"/><polygon points="1306.3,1411.1 1312.1,1411.1 1312.1,1422.2 1312.3,1422.2" fill="#999" fill-opacity=".5"/><polygon points="1429.3,1411.1 1863.0,1411.1 1857.0,1422.2 1429.3,1422.2" fill="#999" fill-opacity=".5"/><polygon points="1890.6,1411.1 1977.4,1411.1 1977.4,1422.2 1896.6,1422.2" fill="#999" fill-opacity=".5"/><polygon points="1890.6,1411.1 1977.4,1411.1 1977.4,1413.7 1892.0,1413.7" fill="#707070"/><text transform="matrix(1.03,0,0,1,113.0,1435.0)" font-size="16">UL54</text><text transform="matrix(1.03,0,0,1,347.6,1435.0)" font-size="16">UL55</text><text transform="matrix(1.03,0,0,1,585.7,1443.0)" font-size="16">UL56</text><text transform="matrix(1.03,0,0,1,862.6,1435.0)" font-size="16">UL57</text><text transform="matrix(1.03,0,0,1,1196.6,1435.0)" font-size="16">ORFL150C</text><text transform="matrix(1.03,0,0,1,1275.4,1455.0)" font-size="16">UL59</text><text transform="matrix(1.03,0,0,1,1313.6,1435.0)" font-size="16">ORFL152C</text><text transform="matrix(1.03,0,0,1,1429.3,1435.0)" font-size="16">RNA4.9</text><text transform="matrix(1.03,0,0,1,1896.6,1435.0)" font-size="16">UL69</text>
<path d="M157.0,1387.0v3.5M245.8,1387.0v3.5M334.6,1387.0v3.5M423.3,1387.0v3.5M512.1,1387.0v3.5M600.9,1387.0v3.5M689.7,1387.0v3.5M778.5,1387.0v3.5M867.2,1387.0v3.5M956.0,1387.0v3.5M1044.8,1387.0v3.5M1133.6,1387.0v3.5M1222.4,1387.0v3.5M1311.1,1387.0v3.5M1399.9,1387.0v3.5M1488.7,1387.0v3.5M1577.5,1387.0v3.5M1666.3,1387.0v3.5M1755.0,1387.0v3.5M1843.8,1387.0v3.5M1932.6,1387.0v3.5" stroke="#333" stroke-width="0.9" fill="none"/>
<path d="M112.6,1559.6v-80h458v1h2v2.5h2v2.5h2v-0.5h2v3.5h2v-3h2v2h2v2h2v5h2v8h2v-1.5h6v-1.5h2v-0.5h8v0.5h4v5h2v-1.5h2v0.5h2v0.5h2v-0.5h2v1h2v-2.5h2v1.5h2v-3.5h2v2.5h4v2.5h4v-2h2v1h4v1h2v-4.5h2v4.5h2v-1.5h2v-0.5h4v1h2v-2.5h2v5h2v-4h2v-0.5h2v-0.5h2v1.5h6v-2h4v2.5h2v-1.5h2v0.5h2v0.5h2v1.5h2v1h2v1.5h2v1h2v3.5h2v0.5h2v-2.5h2v3.5h2v-1.5h2v0.5h2v1h2v0.5h2v2.5h2v0.5h2v1h2v2.5h2v-2h2v-1h2v2.5h2v4.5h2v-2h2v3.5h2v1.5h2v1h2v1h2v1h2v1h4v-1.5h2v0.5h2v3.5h2v-3h2v0.5h2v0.5h2v1.5h2v1h2v2h2v0.5h4v0.5h2v4h2v0.5h4v0.5h2v-1.5h6v0.5h4v-2h2v0.5h2v2.5h2v-1h2v1h2v2h2v1h2v3h2v4h2v3h2v0.5h2v3.5h2v0.5h132v-2.5h2v2h2v0.5h1034V1559.6Z" fill="#f9c8ae"/>
<path d="M112.6,1559.6v-18.5h2v-1.5h2v-3.5h2v2h2v1.5h2v-1h4v-0.5h2v5h2v-1h2v-1h2v-2h2v-1.5h2v-0.5h4v-4h2v0.5h2v6h2v1h2v1.5h2v1h2v-2h2v2.5h2v0.5h2v-4h2v0.5h2v3h2v-1.5h2v0.5h2v-1h2v1h4v2.5h2v4h2v0.5h2v0.5h2v-0.5h2v0.5h2v-1h2v-1h2v0.5h4v-3.5h2v5.5h4v-3h8v4h8v-5.5h2v6h6v-6.5h2v2h2v-1h2v0.5h2v0.5h2v-0.5h2v1.5h2v1h2v1h2v0.5h2v5.5h2v-5.5h2v6h4v-5.5h2v1h2v1h4v3h2v-0.5h2v-0.5h2v-2h2v-3.5h2v0.5h4v1h2v3.5h2v-1.5h2v-1h2v0.5h6v-0.5h2v-0.5h2v-2h2v-1.5h2v0.5h2v4.5h2v-0.5h2v0.5h2v1h2v3.5h2v-3h2v-2.5h4v1.5h2v2.5h2v-2.5h2v1.5h2v-3h2v-1h2v-3h2v-6h2v-3h2v-2.5h2v-3h2v1.5h2v-6.5h2v-1.5h2v-1.5h2v-1.5h2v-0.5h2v-4h2v2.5h2v-0.5h2v-4.5h2v-1.5h2v-1h2v-4h2v2h2v-3.5h2v3h2v-1h2v1.5h2v-4h2v0.5h2v5.5h4v-4h4v1h2v1.5h2v1h2v1.5h2v3h2v-0.5h2v-0.5h4v4h2v1.5h2v0.5h2v-3.5h2v7h2v-3.5h2v1h2v0.5h2v1h2v0.5h2v2h2v-2h2v-4h2v-2h2v-2.5h2v0.5h2v-0.5h2v-0.5h8v2h4v-3.5h2v5.5h2v-1h2v0.5h2v-5.5h2v0.5h2v8h2v-5.5h2v6.5h2v-5h2v1h2v1h2v0.5h2v1h2v3h2v3h2v2h2v-1h2v-4.5h2v0.5h6v0.5h4v6.5h2v-5h2v-1h2v-3h2v-0.5h2v-1h2v1.5h2v-1h2v-0.5h2v-2.5h2v3h4v-0.5h4v-5h2v-0.5h2v3.5h2v1h2v1h2v1h2v2.5h2v-3h2v3h2v-0.5h2v1h2v-3.5h2v-1.5h2v-1h2v0.5h2v1h2v6h2v9h2v8h2v-0.5h2v2.5h2v4h2v3h2v4.5h1406V1559.6Z" fill="#e47e65"/>
<path d="M112.6,1559.6h700v-0.5h2v-1h4v-0.5h2v0.5h2v-1.5h4v-0.5h4v0.5h2v-0.5h4v1h2v1h2v-0.5h2v-0.5h2v-0.5h2v-0.5h4v-1.5h2v0.5h2v-0.5h2v1.5h2v-1h2v-1h2v1.5h2v-0.5h2v-2.5h4v-0.5h2v2h2v-1h2v-1h4v-0.5h2v-0.5h2v-0.5h2v-2.5h2v1.5h4v0.5h4v0.5h4v0.5h2v0.5h2v0.5h4v-1h2v1.5h4v0.5h2v1.5h2v-2h4v2h2v-0.5h2v-1.5h4v0.5h2v0.5h2v2h2v3h2v1h10v-0.5h2v-1.5h4v0.5h2v-0.5h2v0.5h2v-2h2v0.5h2v-2.5h4v-0.5h2v-1h2v-1h2v-0.5h2v-0.5h2v-1h2v-1h2v-1.5h2v-1h4v3h2v1h2v0.5h2v0.5h6v-0.5h2v-1h4v-1h2v1.5h2v-1h4v0.5h4v0.5h2v1h2v-2h4v1h2v-0.5h2v0.5h2v0.5h2v-1h6v0.5h2v-2h2v-0.5h2v2h4v-1.5h2v-5h2v-4h2v-0.5h2v-1.5h2v-1h2v-1.5h2v-1h2v0.5h2v-1h2v-1h2v-1h2v-5h2v2h4v-0.5h2v-1.5h2v-0.5h2v-0.5h2v-2h2v2h2v1h2v0.5h2v0.5h2v0.5h2v1.5h2v2h2v1.5h2v-3h2v2h2v0.5h2v0.5h2v-3h2v3h4v-0.5h2v0.5h2v-1h4v-3h2v2.5h2v-1.5h4v1h2v1.5h2v1.5h2v-3.5h2v0.5h2v0.5h2v2.5h2v0.5h2v0.5h2v1h4v2.5h2v-0.5h2v-1h2v1h2v-3h2v0.5h2v0.5h2v0.5h2v1.5h2v-1h2v-0.5h2v-0.5h2v-0.5h2v-0.5h2v-1.5h2v-0.5h2v-0.5h2v2h4v-1h2v0.5h2v-3.5h2v2h2v-2h2v-0.5h2v0.5h4v-2h2v-0.5h2v1h2v-1.5h2v-3h2v-2h4v4h2v-3.5h2v0.5h2v0.5h2v1h2v-0.5h2v0.5h2v-3h2v-1h2v-2h2v-1.5h2v-2h2v3.5h2v0.5h2v0.5h2v1h2v-1.5h2v1h2v2.5h2v1.5h2v1.5h2v2.5h2v0.5h2v0.5h2v-1.5h2v2h4v-0.5h4v-0.5h2v1h2v1h2v1.5h2v1h4v0.5h2v1.5h2v1h2v2h2v-1.5h2v1h2v3.5h2v-1h2v-1.5h2v-3h2v-1.5h2v-1.5h2v1h2v-1.5h2v2h2v3h2v-3.5h10v2.5h8v-2h4v0.5h2v0.5h2v1.5h2v1.5h2v0.5h2v-1h2v0.5h2v0.5h2v1h2v0.5h2v1h2v1h2v-2h2v1h2v2h2v0.5h2v1h2v1h2v1.5h2v-0.5h2v0.5h2v-2h2v-0.5h2v-0.5h2v1.5h2v1.5h2v4h2v-2h2v-4h2v-3h2v-3h2v-1.5h2v-3h2v-1h2v-2.5h2v-0.5h4v1h2v-1h2v2.5h2v-1.5h2v-0.5h2v-0.5h2v0.5h4v0.5h2v2.5h2v0.5h2v0.5h6v1h2v1h2v0.5h2v-0.5h4v-1h2v1.5h2v-1.5h2v0.5h2v-1.5h2v-1h2v-2h2v2.5h2v-0.5h2v-3h4v-0.5h2v-0.5h2v-0.5h2v-0.5h2v-0.5h2v2h2v-2.5h2v-2h4v0.5h2v3.5h2v-1h2v-2.5h2v2.5h2v4h2v-1.5h2v-3h4v-0.5h2v-0.5h2v2.5h4v-2h2v2h6v-2h4v0.5h2v1.5h4v-1h2v-1.5h2v-3h4v-2h2v-2.5h2v-1h2v5.5h2v-0.5h2v1h2v2.5h2v5.5h2v-3h2v0.5h2v-3h2v-3.5h2v1.5h2v-0.5h2v-2.5h2v2h2v0.5h2v-1h2v-0.5h4v4h2v-3h2v2.5h2v4h2v1h4v1h2v-1.5h2v2h2v-0.5h2v2h2v5.5h2v2h2v-2h2v-0.5h4v-1h2v-1h2v1h2v-0.5h2v-3h2v-1.5h2v-1h2v0.5h2v-0.5h2v-1.5h2v-2h2v-3.5h2v-5h2v-2h2v1h2v-2h2v-2h2v-2.5h2v-1h2v-1h2v-5h2v1h2v4.5h2v1h2v1h2v0.5h2v-3h2v-0.5h2v5.5h2v-5h2v0.5h2v3h2v-3.5h2v0.5h2v0.5h2v1.5h2v0.5h2v1h2v2h2v-2h2v3h2v0.5h2v-1.5h2v0.5h2v-1h2v2h2v-1.5h2v1.5h2v-2.5h2v2h2v3h2v2h2v1h2v3h2v1h2v1.5h2v1h2v0.5h2v1.5h2v0.5h2v-1h2v0.5h6v-0.5h2v-1h4v-0.5h4v3h4v-3h2v1.5h4v0.5h2v-0.5h4v0.5h2v-1h4v-2h4v2.5h2v-0.5h6v-1h2v1.5h4v2h2v-0.5h4v0.5h2v-1h2v0.5h4v1.5h2v0.5h2v-1h2v-1h2v0.5h2v-1h2v-1h2v-1h2v-2h2v0.5h2v1h4v-0.5h2v-3.5h4v-1h2v2h4v-1h6v-0.5h2v-0.5h2v-0.5h4v-1h2v-0.5h2v1.5h4v1h4v0.5h4v-2h2v-0.5h2v-0.5h2v1h2v-2h2v-0.5h2v-3h2v4h2v-0.5h2v-0.5h2v-3h2v0.5h2v-0.5h2v-0.5h2v-3h2v2.5h2v-3.5h2v0.5h2v0.5h2v-1.5h2v0.5h2v0.5h2v1h4v-0.5h2v2.5h2v-2.5h2v0.5h2v-0.5h2v-0.5h2v2h2v-4h6v0.5h2v4h2v1h4v0.5h2v3h2v0.5h2v0.5h2v-2h4v1.5h2v-1h2v-1.5h0V1559.6Z" fill="#c6dfeb"/>
<polygon points="115.0,1584.2 312.1,1584.2 312.1,1595.3 121.0,1595.3" fill="#999" fill-opacity=".5"/><polygon points="115.0,1584.2 312.1,1584.2 312.1,1586.8 116.5,1586.8" fill="#707070"/><polygon points="321.4,1584.2 573.1,1584.2 573.1,1595.3 327.4,1595.3" fill="#999" fill-opacity=".5"/><polygon points="321.4,1584.2 573.1,1584.2 573.1,1586.8 322.8,1586.8" fill="#1e1e1e"/><polygon points="573.9,1584.2 670.5,1584.2 664.5,1595.3 573.9,1595.3" fill="#999" fill-opacity=".5"/><polygon points="573.9,1584.2 670.5,1584.2 669.1,1586.8 573.9,1586.8" fill="#1e1e1e"/><polygon points="679.2,1584.2 781.4,1584.2 781.4,1595.3 685.2,1595.3" fill="#999" fill-opacity=".5"/><polygon points="679.2,1584.2 781.4,1584.2 781.4,1586.8 680.6,1586.8" fill="#707070"/><polygon points="782.8,1584.2 818.4,1584.2 812.4,1595.3 782.8,1595.3" fill="#999" fill-opacity=".5"/><polygon points="782.8,1584.2 818.4,1584.2 817.0,1586.8 782.8,1586.8" fill="#1e1e1e"/><polygon points="817.5,1592.2 942.5,1592.2 942.5,1603.3 817.5,1603.3" fill="#999" fill-opacity=".5"/><polygon points="817.5,1592.2 942.5,1592.2 942.5,1594.8 817.5,1594.8" fill="#707070"/><path d="M880.6,1585.2 L912.0,1580.7 L943.4,1585.2" fill="none" stroke="#b4b4b4" stroke-width="1.6"/><polygon points="943.4,1584.2 959.9,1584.2 953.9,1595.3 943.4,1595.3" fill="#999" fill-opacity=".5"/><polygon points="976.7,1584.2 1173.7,1584.2 1173.7,1595.3 982.7,1595.3" fill="#999" fill-opacity=".5"/><polygon points="976.7,1584.2 1173.7,1584.2 1173.7,1586.8 978.1,1586.8" fill="#1e1e1e"/><polygon points="1191.2,1584.2 1277.4,1584.2 1271.4,1595.3 1191.2,1595.3" fill="#999" fill-opacity=".5"/><polygon points="1191.2,1584.2 1277.4,1584.2 1276.0,1586.8 1191.2,1586.8" fill="#1e1e1e"/><polygon points="1242.7,1592.2 1411.9,1592.2 1405.9,1603.3 1242.7,1603.3" fill="#999" fill-opacity=".5"/><polygon points="1242.7,1592.2 1411.9,1592.2 1410.5,1594.8 1242.7,1594.8" fill="#1e1e1e"/><polygon points="1420.6,1584.2 1534.1,1584.2 1528.1,1595.3 1420.6,1595.3" fill="#999" fill-opacity=".5"/><polygon points="1540.5,1584.2 1618.6,1584.2 1618.6,1595.3 1546.5,1595.3" fill="#999" fill-opacity=".5"/><polygon points="1540.5,1584.2 1618.6,1584.2 1618.6,1586.8 1541.9,1586.8" fill="#1e1e1e"/><polygon points="1622.1,1584.2 1811.1,1584.2 1805.1,1595.3 1622.1,1595.3" fill="#999" fill-opacity=".5"/><polygon points="1622.1,1584.2 1811.1,1584.2 1809.6,1586.8 1622.1,1586.8" fill="#1e1e1e"/><polygon points="1711.2,1592.2 1810.2,1592.2 1804.2,1603.3 1711.2,1603.3" fill="#999" fill-opacity=".5"/><polygon points="1711.2,1592.2 1810.2,1592.2 1808.8,1594.8 1711.2,1594.8" fill="#707070"/><polygon points="1825.5,1584.2 1974.5,1584.2 1974.5,1595.3 1831.5,1595.3" fill="#999" fill-opacity=".5"/><polygon points="1825.5,1584.2 1974.5,1584.2 1974.5,1586.8 1826.9,1586.8" fill="#707070"/><text transform="matrix(1.03,0,0,1,121.0,1608.1)" font-size="16">UL69</text><text transform="matrix(1.03,0,0,1,327.4,1608.1)" font-size="16">UL70</text><text transform="matrix(1.03,0,0,1,573.9,1608.1)" font-size="16">UL71</text><text transform="matrix(1.03,0,0,1,685.2,1608.1)" font-size="16">UL72</text><text transform="matrix(1.03,0,0,1,782.8,1608.1)" font-size="16">UL73</text><text transform="matrix(1.03,0,0,1,824.8,1628.1)" font-size="16">UL74</text><text transform="matrix(1.03,0,0,1,880.6,1608.1)" font-size="16">UL74A</text><text transform="matrix(1.03,0,0,1,982.7,1608.1)" font-size="16">UL75</text><text transform="matrix(1.03,0,0,1,1191.2,1608.1)" font-size="16">UL76</text><text transform="matrix(1.03,0,0,1,1242.7,1616.1)" font-size="16">UL77</text><text transform="matrix(1.03,0,0,1,1420.6,1608.1)" font-size="16">UL78</text><text transform="matrix(1.03,0,0,1,1546.5,1608.1)" font-size="16">UL79</text><text transform="matrix(1.03,0,0,1,1622.1,1608.1)" font-size="16">UL80</text><text transform="matrix(1.03,0,0,1,1711.2,1616.1)" font-size="16">UL80.5</text><text transform="matrix(1.03,0,0,1,1831.5,1608.1)" font-size="16">UL82</text>
<path d="M157.0,1560.1v3.5M245.8,1560.1v3.5M334.6,1560.1v3.5M423.3,1560.1v3.5M512.1,1560.1v3.5M600.9,1560.1v3.5M689.7,1560.1v3.5M778.5,1560.1v3.5M867.2,1560.1v3.5M956.0,1560.1v3.5M1044.8,1560.1v3.5M1133.6,1560.1v3.5M1222.4,1560.1v3.5M1311.1,1560.1v3.5M1399.9,1560.1v3.5M1488.7,1560.1v3.5M1577.5,1560.1v3.5M1666.3,1560.1v3.5M1755.0,1560.1v3.5M1843.8,1560.1v3.5M1932.6,1560.1v3.5" stroke="#333" stroke-width="0.9" fill="none"/>
<path d="M112.6,1731.6h1292v-0.5h4v0.5h2v-0.5h2v-2h4v0.5h2v-0.5h2v1.5h2v-0.5h2v-1.5h2v1.5h2v-1h4v0.5h2v0.5h2v1.5h4v-1.5h2v-1h2v1.5h2v-1h2v0.5h2v0.5h2v1h76v-1h2v-0.5h2v-1h2v-1.5h4v1h2v-0.5h4v0.5h2v1h2v1h4v1h2v-1h2v-3h2v-1.5h2v-1h2v-1h2v-0.5h2v-1h2v-0.5h2v-1h2v3h2v1.5h2v-1.5h2v2h2v0.5h2v-1.5h2v1.5h2v-1.5h2v0.5h2v-1h2v1.5h2v0.5h2v0.5h2v0.5h2v-1.5h2v0.5h4v2.5h4v-1h4v2h2v0.5h2v1h52v-1h2v1h2v-2h2v-0.5h2v-1h4v0.5h2v-1.5h6v2h8v-0.5h4v-1.5h4v1.5h4v-1h2v-1h2v1.5h4v-0.5h4v-1.5h2v0.5h4v-1h2v-0.5h2v-2h4v1.5h2v-1h2v-0.5h2v-2.5h2v-1h2v-1h2v1.5h2v-0.5h2v-2.5h2v0.5h2v3h2v1.5h2v0.5h2v-2h2v2.5h2v1h2v-1h2v0.5h2v2h2v0.5h4v-1h2v1h2v1h2v1h2v0.5h2v1h2v0.5h2v0.5h8v-0.5h2v1h2v-0.5h2v-1.5h2v-1.5h2v1h2v-0.5h2v-0.5h2v-0.5h2v-0.5h4v-0.5h2v-0.5h6v-1h2v1h4v0.5h2v0.5h2v0.5h2v1.5h2v3h40v-1h2v-0.5h2v-2h2v-3h2v-2h2v-5h2v-2.5h2v0.5h4v-1.5h2v1h4v1h2v-1h8v1h2v0.5h2v-3h4v3.5h2v0.5h2v0.5h2v-1.5h2v1h2v2h2v3h2v-2h2v1h2v0.5h2v1h4v0.5h2v0.5h8v-0.5h2v-0.5h4v-0.5h2v-0.5h4v2h2v-1.5h2V1731.6Z" fill="#f9c8ae"/>
<path d="M112.6,1731.6v-30.5h2v-3.5h2v3h2v-3.5h2v-1h2v0.5h2v-4.5h2v2h2v1h2v1h4v-1.5h2v-4.5h2v-1.5h2v-1.5h2v1.5h2v0.5h2v0.5h2v1.5h4v-0.5h2v0.5h4v-1.5h2v2.5h4v-0.5h2v-1h2v-1h2v0.5h2v-0.5h6v0.5h2v-1h2v5.5h2v1.5h2v0.5h2v-1.5h2v0.5h2v0.5h2v1h2v-2.5h2v0.5h6v2h2v-3h2v1h2v2.5h2v-1.5h2v0.5h6v0.5h2v-1h2v1h2v-0.5h2v-1h2v-0.5h2v-1h2v-3h6v2h2v-1h4v-2h2v-0.5h2v-1h2v-0.5h2v3.5h2v-0.5h2v-3h4v3.5h2v-0.5h4v-3.5h2v-0.5h2v-0.5h2v3.5h2v-1.5h2v-2.5h2v1h4v-0.5h6v0.5h2v0.5h4v2.5h4v0.5h2v-3.5h2v2h2v1h2v0.5h2v1.5h2v0.5h2v0.5h2v2.5h4v1.5h2v-2.5h2v0.5h2v0.5h2v1.5h2v5.5h2v-1.5h2v0.5h2v3h2v0.5h2v0.5h2v-1.5h2v4h2v0.5h2v-1h2v1h4v0.5h2v0.5h2v-2h2v-2h2v1.5h2v-4h2v-2h2v-1.5h2v-2h2v-2.5h2v-1.5h2v-0.5h2v0.5h2v-3h2v-0.5h2v-0.5h2v2h2v-3.5h2v4h2v-1h2v-1.5h2v-1.5h2v-1h2v-1.5h2v-4.5h2v1.5h2v6h2v1h2v1.5h4v2.5h2v1h2v1h2v-2.5h4v2.5h2v-0.5h4v-2h2v-1.5h2v0.5h2v1h2v1h4v0.5h2v1.5h2v-4.5h2v-4h2v-3.5h2v-4.5h2v0.5h2v-1h2v-1h2v-1h2v1h2v-1h2v1h2v-0.5h2v1h2v3.5h2v-0.5h2v-4h2v-3h2v3.5h2v4.5h2v7h2v6h2v5.5h2v4h2v-1h2v1h4v1h2v2h2v1.5h2v1h2v-0.5h2v1h2v2.5h2v2h2v0.5h2v-1.5h2v-1.5h2v-1h2v-1.5h4v-4.5h2v-2.5h2v-2h2v2h2v-0.5h2v-0.5h2v-3h2v0.5h2v3h2v0.5h2v-2.5h2v0.5h2v-1.5h2v0.5h2v-1.5h2v-2.5h2v1h2v3.5h2v-0.5h4v1.5h2v3h2v1.5h2v1h2v1.5h2v1.5h2v1.5h6v0.5h6v-1h2v-1.5h2v-1.5h2v-1h2v-4h2v1.5h2v-0.5h2v-0.5h2v-1h2v1h2v-3h2v-1h2v-1.5h2v-1h2v1h2v-4h2v3h2v0.5h2v-1.5h2v-0.5h2v0.5h2v0.5h2v-0.5h2v4h2v0.5h2v1h2v-1h2v-2h2v2.5h2v-0.5h2v-0.5h2v-4h4v2.5h2v-0.5h2v-5h2v2.5h2v-1h2v-2.5h2v-1.5h2v-1h2v-1h2v-1.5h2v-3.5h2v1h2v-3.5h2v3h2v-1h2v-1h2v-0.5h4v-3.5h2v2.5h2v1h2v3h2v-4.5h2v2h2v-1h2v1.5h2v-0.5h2v-0.5h2v-0.5h2v-1.5h4v2h2v2.5h2v2.5h2v1.5h2v3.5h4v1.5h2v2.5h2v1h2v1h2v-2.5h4v1.5h2v0.5h2v3.5h2v0.5h2v0.5h2v-2.5h2v1.5h2v2.5h2v5h2v-1.5h2v-1h2v1h2v-3h2v-1h4v-1h2v-0.5h2v-1.5h2v-1h2v-0.5h2v-0.5h2v1.5h2v1.5h2v-0.5h4v-0.5h2v-1h2v-1h2v-0.5h2v-4h2v3h2v-2.5h4v0.5h2v2.5h2v1.5h2v1h2v-2h2v0.5h2v2h2v-0.5h2v2.5h6v1.5h2v0.5h2v-0.5h2v-1.5h2v-0.5h2v2h2v-0.5h2v1h2v2.5h2v-0.5h2v1h2v2.5h2v0.5h4v-1.5h2v1h4v1h4v0.5h6v0.5h4v-0.5h4v1h2v0.5h2v0.5h2v1h2v-0.5h2v-1h2v-0.5h2v-1h2v-2.5h2v-1h2v0.5h2v-1h4v-1h2v-1h2v-0.5h4v-2h2v-2h2v-2h2v1h2v0.5h2v3.5h2v0.5h2v-2.5h2v3h6v1h2v0.5h2v0.5h2v1h2v0.5h4v0.5h2v-2h2v5h2v1.5h2v2h2v2.5h2v5.5h2v-4h2v-2.5h2v-1h2v2.5h2v-0.5h2v-0.5h2v-0.5h2v-1h4v-2h2v-0.5h2v-0.5h2v0.5h2v1.5h2v-0.5h2v-0.5h2v-1.5h2v-0.5h2v-2h2v-5.5h2v-6h2v-7.5h2v0.5h2v0.5h4v0.5h2v2h2v0.5h2v0.5h2v2.5h2v1.5h4v4.5h2v2h2v-4h2v-1.5h2v0.5h2v-0.5h4v0.5h2v-0.5h2v2h2v0.5h2v1h2v-0.5h2v1h2v0.5h2v-0.5h4v-0.5h2v0.5h2v0.5h2v-1.5h2v-1.5h2v-2.5h2v-3h2v-1h2v0.5h2v-9h2v-3.5h2v4.5h2v9h2v4.5h2v4.5h2v1.5h2v2.5h2v-2.5h2v3.5h2v0.5h4v-1h8v0.5h2v2h2v0.5h2v1h2v2h2v2.5h2v3.5h2v-3h2v-2h2v-2h2v-1h6v-0.5h4v-0.5h4v2h2v-2.5h2v1h2v2h2v1h2v2.5h2v-1h2v-3.5h2v-2.5h2v-0.5h2v2.5h2v-0.5h4v-0.5h2v-0.5h4v0.5h2v-1.5h2v-1h2v1.5h4v-0.5h2v-0.5h4v-0.5h2v-0.5h2v-1h2v2.5h2v0.5h2v0.5h2v0.5h2v0.5h2v1h6v-1.5h4v1.5h8v0.5h2v0.5h2v0.5h4v-0.5h6v-1h8v0.5h4v0.5h2v-1h2v0.5h2v0.5h2v0.5h2v0.5h2v0.5h2v1.5h4v2h2v2.5h2v-1.5h6v0.5h2v-2h2v-0.5h2v1h4v-3.5h2v-0.5h2v-0.5h2v3h2v1h2v0.5h2v-1h2v-1h2v-1h2v-1h2v-2h2v1.5h2v-3h2v-3.5h4v1h2v1h2v0.5h2v1h2v1h2v2h4v3h2v-2.5h4v-2h2v-0.5h4v0.5h4v3.5h2v-2.5h2v0.5h2v2h6v-0.5h2v0.5h2v-1h2v1.5h2v1h2v1h2v0.5h2v-1h2v-0.5h4v2h2v0.5h4v1h2v1h2v3h2v1.5h2v1.5h2v1.5h54v-5.5h2v-2h2v2h2v-1h2v-0.5h2v-0.5h2v-2h4v0.5h4v0.5h4v-1h2v-0.5h2v2h4v1h2v0.5h2v0.5h2v-1h2v1h2v1h2v1.5h2v0.5h6v3h4v-1h2v-0.5h2v0.5h4v0.5h8v0.5h98v-0.5h2v-2h2v-0.5h6v-0.5h2v1h2v-3h2v1.5h2v-1h2v-1h2v-1h2v-1h2v-0.5h2v-1h2v-2h2v2h2v-2h2v0.5h2v2h2v3h2v3.5h2v2.5h178v-2h2v-1h2v-2.5h4v-2h2v0.5h2v1h2v1h2v0.5h2v-1h4v0.5h4v0.5h2v0.5h2v3h2v-1.5h2v1h2v1.5h94V1731.6Z" fill="#c6dfeb"/>
<polygon points="113.0,1756.2 198.4,1756.2 198.4,1767.3 113.0,1767.3" fill="#999" fill-opacity=".5"/><polygon points="113.0,1756.2 198.4,1756.2 198.4,1758.8 113.0,1758.8" fill="#707070"/><polygon points="216.3,1756.2 365.3,1756.2 365.3,1767.3 222.3,1767.3" fill="#999" fill-opacity=".5"/><polygon points="389.9,1756.2 545.6,1756.2 545.6,1767.3 395.9,1767.3" fill="#999" fill-opacity=".5"/><polygon points="389.9,1756.2 545.6,1756.2 545.6,1758.8 391.3,1758.8" fill="#1e1e1e"/><polygon points="548.5,1756.2 631.5,1756.2 631.5,1767.3 554.5,1767.3" fill="#999" fill-opacity=".5"/><polygon points="548.5,1756.2 631.5,1756.2 631.5,1758.8 549.9,1758.8" fill="#1e1e1e"/><polygon points="645.4,1756.2 1009.9,1756.2 1009.9,1767.3 651.4,1767.3" fill="#999" fill-opacity=".5"/><polygon points="645.4,1756.2 1009.9,1756.2 1009.9,1758.8 646.8,1758.8" fill="#1e1e1e"/><polygon points="1014.9,1756.2 1265.7,1756.2 1259.7,1767.3 1014.9,1767.3" fill="#999" fill-opacity=".5"/><polygon points="1014.9,1756.2 1265.7,1756.2 1264.3,1758.8 1014.9,1758.8" fill="#1e1e1e"/><polygon points="1265.8,1764.2 1379.5,1764.2 1373.5,1775.3 1265.8,1775.3" fill="#999" fill-opacity=".5"/><polygon points="1265.8,1764.2 1379.5,1764.2 1378.1,1766.8 1265.8,1766.8" fill="#707070"/><polygon points="1380.7,1756.2 1480.8,1756.2 1480.8,1767.3 1386.7,1767.3" fill="#999" fill-opacity=".5"/><path d="M1480.9,1757.2 L1653.9,1752.7 L1827.0,1757.2" fill="none" stroke="#b4b4b4" stroke-width="1.6"/><polygon points="1500.9,1756.2 1531.2,1756.2 1525.2,1767.3 1500.9,1767.3" fill="#999" fill-opacity=".5"/><polygon points="1500.9,1756.2 1531.2,1756.2 1529.8,1758.8 1500.9,1758.8" fill="#1e1e1e"/><polygon points="1528.9,1764.2 1581.6,1764.2 1581.6,1775.3 1528.9,1775.3" fill="#999" fill-opacity=".5"/><polygon points="1528.9,1764.2 1581.6,1764.2 1581.6,1766.8 1528.9,1766.8" fill="#1e1e1e"/><polygon points="1579.6,1756.2 1737.3,1756.2 1731.3,1767.3 1579.6,1767.3" fill="#999" fill-opacity=".5"/><polygon points="1579.6,1756.2 1737.3,1756.2 1735.9,1758.8 1579.6,1758.8" fill="#1e1e1e"/><polygon points="1827.0,1756.2 1905.1,1756.2 1905.1,1767.3 1827.0,1767.3" fill="#999" fill-opacity=".5"/><polygon points="1725.1,1764.2 1816.8,1764.2 1810.8,1775.3 1725.1,1775.3" fill="#999" fill-opacity=".5"/><polygon points="1725.1,1764.2 1816.8,1764.2 1815.4,1766.8 1725.1,1766.8" fill="#1e1e1e"/><polygon points="1906.0,1764.2 1977.4,1764.2 1977.4,1775.3 1906.0,1775.3" fill="#999" fill-opacity=".5"/><polygon points="1906.0,1764.2 1977.4,1764.2 1977.4,1766.8 1906.0,1766.8" fill="#1e1e1e"/><text transform="matrix(1.03,0,0,1,113.0,1780.1)" font-size="16">UL82</text><text transform="matrix(1.03,0,0,1,222.3,1780.1)" font-size="16">UL83</text><text transform="matrix(1.03,0,0,1,395.9,1780.1)" font-size="16">UL84</text><text transform="matrix(1.03,0,0,1,554.5,1780.1)" font-size="16">UL85</text><text transform="matrix(1.03,0,0,1,651.4,1780.1)" font-size="16">UL86</text><text transform="matrix(1.03,0,0,1,1014.9,1780.1)" font-size="16">UL87</text><text transform="matrix(1.03,0,0,1,1265.8,1788.1)" font-size="16">UL88</text><text transform="matrix(1.03,0,0,1,1386.7,1780.1)" font-size="16">UL89</text><text transform="matrix(1.03,0,0,1,1500.9,1780.1)" font-size="16">UL91</text><text transform="matrix(1.03,0,0,1,1528.9,1800.1)" font-size="16">UL92</text><text transform="matrix(1.03,0,0,1,1579.6,1780.1)" font-size="16">UL93</text><text transform="matrix(1.03,0,0,1,1725.1,1788.1)" font-size="16">UL94</text><text transform="matrix(1.03,0,0,1,1906.0,1788.1)" font-size="16">UL95</text>
<path d="M157.0,1732.1v3.5M245.8,1732.1v3.5M334.6,1732.1v3.5M423.3,1732.1v3.5M512.1,1732.1v3.5M600.9,1732.1v3.5M689.7,1732.1v3.5M778.5,1732.1v3.5M867.2,1732.1v3.5M956.0,1732.1v3.5M1044.8,1732.1v3.5M1133.6,1732.1v3.5M1222.4,1732.1v3.5M1311.1,1732.1v3.5M1399.9,1732.1v3.5M1488.7,1732.1v3.5M1577.5,1732.1v3.5M1666.3,1732.1v3.5M1755.0,1732.1v3.5M1843.8,1732.1v3.5M1932.6,1732.1v3.5" stroke="#333" stroke-width="0.9" fill="none"/>
<path d="M112.6,1904v-6h2v-1.5h2v-3.5h2v-1.5h2v-1.5h2v-2h2v-1h2v1.5h2v-2h2v1.5h2v-1.5h2v0.5h12v2.5h2v-1h2v-1h2v0.5h2v2h4v2h2v-1.5h2v2h2v3.5h2v0.5h2v0.5h2v1h2v0.5h2v2h2v-1h2v-0.5h2v-0.5h2v-0.5h2v1h6v-0.5h4v-0.5h2v-0.5h2v-0.5h4v-2h4v-0.5h2v-2.5h2v-0.5h2v-1h2v-0.5h2v-0.5h4v-2.5h2v1.5h2v-0.5h2v-2h4v0.5h4v1h2v1.5h2v2h2v1h2v3h2v-3h2v2.5h2v-0.5h2v-2h2v0.5h2v0.5h2v-0.5h2v2.5h2v0.5h2v1h2v1h2v0.5h2v0.5h2v1h2v-0.5h2v-2h2v2h2v-5h2v-3h2v-3.5h2v-3.5h2v-2h2v-2.5h2v-2h2v-1h2v-0.5h2v-0.5h2v-3h2v-0.5h2v-1.5h2v-1h2v-0.5h2v-1h2v-0.5h4v2.5h2v-2h2v-0.5h2v-1h2v1.5h2v-0.5h2v-4.5h2v1h2v-0.5h2v0.5h2v-1.5h2v1.5h2v-0.5h2v-0.5h2v-0.5h2v-0.5h2v-1h2v-1.5h2v-1.5h2v-3h2v-0.5h2v-1h2v-0.5h2v-1h2v-0.5h2v-0.5h2v1.5h2v-3h2v1.5h2v-2h2v-1h2v2.5h2v-0.5h2v-5h2v0.5h2v-1h2v-0.5h2v-0.5h2v1.5h2v-3.5h2v4h2v-2h2v1.5h2v0.5h2v1.5h2v-2.5h2v-2.5h4v4.5h2v-1h2v-1.5h4v-1h2v2.5h2v0.5h2v1.5h2v-1h2v3h2v-5h2v-1.5h2v3h2v-2.5h2v-0.5h2v-0.5h2v-2.5h2v-1h2v1.5h2v1h2v-1.5h2v5h4v-3h4v3h4v-2.5h2v-1.5h6v2h4v-0.5h2v-2.5h4v1h2v3h2v-3.5h2v3h2v4h2v4h2v1.5h2v-0.5h2v-1h2v-4.5h2v3.5h2v-1h4v0.5h2v-1h2v-1h4v0.5h2v2h2v2.5h2v1.5h2v1h2v-3.5h2v-1.5h2v-2h2v-1.5h2v-1h2v1h2v2h2v1h2v-0.5h2v-1h2v-1h2v-1h2v-1h4v-4.5h2v3h2v-3h2v-0.5h2v-0.5h2v-0.5h2v-1h2v-0.5h2v1.5h2v0.5h2v1h2v2h2v-4h2v4.5h2v-4.5h2v1.5h4v3.5h2v-3.5h2v2h2v0.5h2v0.5h2v3.5h4v2h2v-2.5h4v-0.5h2v3.5h2v-0.5h2v-6.5h2v1h2v-2h2v2.5h2v0.5h2v-0.5h2v2h8v-1.5h2v-4h2v3h2v-4h2v-0.5h2v0.5h2v-2h2v0.5h2v3h2v1.5h2v0.5h2v0.5h4v1.5h2v1.5h2v0.5h2v2h2v-0.5h4v3.5h2v1h2v0.5h2v-2.5h2v1h2v-0.5h2v0.5h2v1h2v1.5h2v1.5h2v5h2v0.5h4v-3h2v-0.5h2v-0.5h2v-1h2v-1h2v3h2v-6.5h2v1.5h2v-2h2v-1.5h2v-1.5h2v-1.5h2v-4h2v-1.5h2v-2h2v-4.5h2v-0.5h2v2h2v-1.5h2v-1h2v-1h2v-3h4v0.5h2v1.5h4v-2.5h2v-0.5h4v-0.5h6v-0.5h2v0.5h2v-3h2v-0.5h2v3.5h2v-4.5h1006v3.5h2v-2.5h2v1h2v-1h2v-1h4v1.5h2v-1.5h20v3.5h2v0.5h2v-1h4v2.5h2v-2.5h4v-3h4v3.5h6v-3.5h2v0.5h6v4h2v-2h2v-1.5h2v4h4v-0.5h6v-4.5h24v2h2v4.5h2v2.5h2v-1h2v5.5h2v-1h2v-2h4v1h2v2h2v4h2v3.5h2v4.5h2v2.5h6v-0.5h4v-1h2v0.5h2v-1.5h2v1h4v-6h2v-8h2v-7h2v0.5h2v-3.5h2v4h2v1h2v0.5h2v4h2v7.5h2v7h2v3.5h2v1.5h2v1.5h2v0.5h2v0.5h2v0.5h2v-3h2v2.5h2v1h2v2h2v2h2v0.5h2v0.5h0V1904Z" fill="#f9c8ae"/>
<path d="M112.6,1904h660v-0.5h2v0.5h10v-0.5h4v-7h2v-1h2v-1h2v1h2v-1.5h2v2.5h2v-2h2v4.5h2v-0.5h4v-0.5h2v-6h2v3h2v0.5h2v-0.5h2v-5.5h2v-2h2v-2h2v-2h2v-2h2v-2h2v2.5h2v-7h2v1.5h2v-3h2v-1.5h2v-1h2v-1h2v-2h2v-0.5h2v-1h2v-1h2v2.5h2v-1h2v-4.5h2v-1h2v-1h2v-1h2v2h2v-1.5h2v0.5h2v-0.5h2v-5.5h2v3.5h2v0.5h2v0.5h2v1h2v1.5h2v-1.5h2v-6h2v-7h2v6h2v1h2v-4.5h2v0.5h2v1.5h4v-1h2v4h6v-3.5h2v-3h2v1.5h6v0.5h2v1.5h2v1h2v-1h2v-1h2v1h2v-4h2v4h2v-0.5h2v-4h2v2h2v-0.5h2v-0.5h2v-3.5h2v-0.5h2v5.5h6v-5h4v2h2v-2.5h2v4.5h6v-0.5h4v-4h2v9.5h2v2.5h2v-0.5h2v-1.5h2v2h2v1h2v-1h4v-2h4v-0.5h4v1h2v-0.5h2v-3h2v-0.5h2v1.5h2v-0.5h2v-4.5h4v-0.5h4v-0.5h4v0.5h2v1h2v-1.5h2v3h2v1.5h2v-1h2v-0.5h2v-0.5h2v-2.5h8v3h4v-2h2v0.5h2v-1h2v-1.5h2v1.5h2v3.5h6v1.5h2v-6.5h2v0.5h2v5.5h2v-1.5h2v-0.5h2v6h2v1.5h2v5h2v6.5h2v3h2v4h2v2h2v-2.5h2v5.5h2v-0.5h2v1.5h2v1h2v3.5h2v-0.5h2v-2h2v1.5h2v-0.5h2v-3h2v-1h2v1.5h2v-0.5h2v-0.5h2v-1.5h2v1h4v1.5h2v-2.5h2v-1h2v0.5h4v5h2v-2h2v-4h2v0.5h2v3h2v5h2v1h2v-1.5h2v0.5h2v2h2v-4h4v-0.5h2v-0.5h2v-1h2v-0.5h4v1.5h2v3.5h2v-5h2v3.5h2v-3h2v-0.5h2v2.5h4v-6h2v-1h2v2.5h2v-0.5h2v2h4v-0.5h2v-2.5h2v-0.5h2v-1h6v-0.5h4v2.5h2v-3.5h2v4.5h2v-5h2v-0.5h2v-0.5h4v-2.5h8v0.5h6v1h2v0.5h2v7.5h2v-6h2v0.5h2v1h2v4h2v1.5h2v-1.5h2v1h2v5.5h2v-4h2v0.5h2v1h2v4h2v-2.5h4v4h2v3.5h4v-7h4v0.5h2v-5h2v4.5h2v-5.5h2v-0.5h2v4h2v-1h2v-1h2v-1.5h2v-2.5h2v-1.5h2v-2h2v-3.5h2v-3.5h2v-5.5h2v1.5h2v-2.5h2v-0.5h2v-6.5h4v-1.5h2v-3.5h2v-2h2v-2h2v-2h2v-2h2v-3h2v-2h2v2h2v-3h2v-1h2v-5h2v1h2v-4h4v-0.5h2v-1.5h12v2h2v7.5h2v2h2v1.5h2v1h2v1.5h2v1h2v-5.5h2v5.5h2v1h2v-2.5h2v2h2v0.5h2v2.5h2v0.5h2v-3h2v1.5h2v-3h2v4.5h2v-1.5h2v-1h2v-7.5h2v-1.5h2v2h2v1h2v-3h2v-5h2v-1h2v4h2v-6h2v5h2v-1h2v0.5h2v0.5h4v3h2v-5h2v-1.5h2v3.5h2v0.5h2v0.5h2v0.5h2v0.5h2v1.5h2v0.5h2v0.5h4v-3.5h6v0.5h6v2h2v4h2v-4.5h2v3h2v4.5h2v0.5h2v0.5h2v-6.5h2v1.5h2v0.5h2v0.5h2v1h2v4.5h2v0.5h2v-5.5h2v0.5h4v2.5h4v2.5h2v-4.5h2v-1.5h2v-2h2v1.5h2v-3h2v-0.5h2v0.5h2v-3.5h4v0.5h8v3.5h2v-1h2v-4.5h2v-1h2v5h2v-2h4v0.5h2v-2h2v4.5h2v0.5h2v1.5h2v-4.5h2v1.5h2v3h2v6h2v3.5h2v2h2v-1h2v2.5h2v5.5h2v-1h2v0.5h2v4.5h2v1h2v6.5h2v4h2v1h2v3h2v2h2v2h2v0.5h2v3h4v1h4v1h4v-1h2v0.5h2v-0.5h2v-4h2v0.5h2v3.5h2v-3.5h2v3h4v-1h2v-1h2v-1.5h4v0.5h4v1.5h6v1h2v-4h2v2.5h2v-1.5h4v2.5h2v3.5h2v1h2v-4.5h4v1.5h2v0.5h4v1h2v-1.5h4v11h2v2.5h2v-1.5h2v2h2v-2h2v3.5h2v-0.5h4v-0.5h4v3.5h4v-1.5h2v0.5h2v-1.5h4v0.5h2v0.5h4v2.5h2v-2.5h2v-1h2v0.5h2v1h4v0.5h2v0.5h2v-1h2v0.5h2v-1.5h2v0.5h2v0.5h8v-3h2v0.5h2v6h4v0.5h2v0.5h2v-2.5h2v2.5h12v-1.5h2v-0.5h2v2h4v-0.5h2v-1h2v-5.5h2v-2h2v6.5h2v-0.5h2v1h2v1h2v1h16v-0.5h4v0.5h34v-1h2v-6.5h2v-0.5h2v2h2v1h2v1h2v3.5h2v0.5h2v-4.5h2v3.5h2v1h92V1904Z" fill="#e47e65"/>
<path d="M112.6,1904h1250v-0.5h2v0.5h2v-2.5h2v1.5h2v1h2v-1h2v1h602V1904Z" fill="#c0392b"/>
<polygon points="113.0,1928.6 130.4,1928.6 130.4,1939.7 113.0,1939.7" fill="#999" fill-opacity=".5"/><polygon points="130.4,1936.6 271.6,1936.6 265.6,1947.7 130.4,1947.7" fill="#999" fill-opacity=".5"/><polygon points="130.4,1936.6 271.6,1936.6 270.2,1939.2 130.4,1939.2" fill="#1e1e1e"/><polygon points="272.2,1928.6 305.4,1928.6 299.4,1939.7 272.2,1939.7" fill="#999" fill-opacity=".5"/><polygon points="272.2,1928.6 305.4,1928.6 304.0,1931.2 272.2,1931.2" fill="#1e1e1e"/><polygon points="316.4,1928.6 504.5,1928.6 498.5,1939.7 316.4,1939.7" fill="#999" fill-opacity=".5"/><polygon points="316.4,1928.6 504.5,1928.6 503.1,1931.2 316.4,1931.2" fill="#707070"/><polygon points="513.8,1928.6 668.6,1928.6 662.6,1939.7 513.8,1939.7" fill="#999" fill-opacity=".5"/><polygon points="513.8,1928.6 668.6,1928.6 667.2,1931.2 513.8,1931.2" fill="#1e1e1e"/><polygon points="663.6,1936.6 713.9,1936.6 707.9,1947.7 663.6,1947.7" fill="#999" fill-opacity=".5"/><polygon points="663.6,1936.6 713.9,1936.6 712.5,1939.2 663.6,1939.2" fill="#1e1e1e"/><polygon points="738.0,1928.6 836.3,1928.6 836.3,1939.7 744.0,1939.7" fill="#999" fill-opacity=".5"/><polygon points="738.0,1928.6 836.3,1928.6 836.3,1931.2 739.4,1931.2" fill="#1e1e1e"/><polygon points="852.2,1928.6 1084.3,1928.6 1078.3,1939.7 852.2,1939.7" fill="#999" fill-opacity=".5"/><polygon points="852.2,1928.6 1084.3,1928.6 1082.9,1931.2 852.2,1931.2" fill="#1e1e1e"/><polygon points="1100.3,1928.6 1166.0,1928.6 1166.0,1939.7 1106.3,1939.7" fill="#999" fill-opacity=".5"/><polygon points="1100.3,1928.6 1166.0,1928.6 1166.0,1931.2 1101.7,1931.2" fill="#707070"/><polygon points="1162.2,1936.6 1347.4,1936.6 1347.4,1947.7 1168.2,1947.7" fill="#999" fill-opacity=".5"/><polygon points="1162.2,1936.6 1347.4,1936.6 1347.4,1939.2 1163.6,1939.2" fill="#1e1e1e"/><polygon points="1331.8,1928.6 1586.1,1928.6 1580.1,1939.7 1331.8,1939.7" fill="#999" fill-opacity=".5"/><polygon points="1331.8,1928.6 1586.1,1928.6 1584.7,1931.2 1331.8,1931.2" fill="#1e1e1e"/><polygon points="1587.7,1936.6 1614.3,1936.6 1614.3,1947.7 1593.7,1947.7" fill="#999" fill-opacity=".5"/><path d="M1614.3,1937.6 L1795.9,1933.1 L1977.4,1937.6" fill="none" stroke="#b4b4b4" stroke-width="1.6"/><text transform="matrix(1.03,0,0,1,113.0,1952.5)" font-size="16">UL89</text><text transform="matrix(1.03,0,0,1,130.4,1972.5)" font-size="16">UL95</text><text transform="matrix(1.03,0,0,1,272.2,1952.5)" font-size="16">UL96</text><text transform="matrix(1.03,0,0,1,316.4,1952.5)" font-size="16">UL97</text><text transform="matrix(1.03,0,0,1,513.8,1952.5)" font-size="16">UL98</text><text transform="matrix(1.03,0,0,1,663.6,1960.5)" font-size="16">UL99</text><text transform="matrix(1.03,0,0,1,744.0,1952.5)" font-size="16">UL100</text><text transform="matrix(1.03,0,0,1,852.2,1952.5)" font-size="16">UL102</text><text transform="matrix(1.03,0,0,1,1106.3,1952.5)" font-size="16">UL103</text><text transform="matrix(1.03,0,0,1,1168.2,1960.5)" font-size="16">UL104</text><text transform="matrix(1.03,0,0,1,1331.8,1952.5)" font-size="16">UL105</text><text transform="matrix(1.03,0,0,1,1593.7,1960.5)" font-size="16">RNA5.0</text>
<path d="M157.0,1904.5v3.5M245.8,1904.5v3.5M334.6,1904.5v3.5M423.3,1904.5v3.5M512.1,1904.5v3.5M600.9,1904.5v3.5M689.7,1904.5v3.5M778.5,1904.5v3.5M867.2,1904.5v3.5M956.0,1904.5v3.5M1044.8,1904.5v3.5M1133.6,1904.5v3.5M1222.4,1904.5v3.5M1311.1,1904.5v3.5M1399.9,1904.5v3.5M1488.7,1904.5v3.5M1577.5,1904.5v3.5M1666.3,1904.5v3.5M1755.0,1904.5v3.5M1843.8,1904.5v3.5M1932.6,1904.5v3.5" stroke="#333" stroke-width="0.9" fill="none"/>
<path d="M112.6,2076.4v-76h2v4.5h2v0.5h2v1h2v0.5h2v-0.5h2v3.5h2v0.5h2v6h2v3h2v4h2v2.5h2v-2h2v-0.5h2v0.5h4v-0.5h2v-1.5h2v-3h2v2h2v-8.5h2v-0.5h2v-0.5h2v-1.5h2v-9h2v2.5h2v-2h2v-1.5h2v2.5h2v-2.5h2v1h2v1h2v22h2v5.5h2v0.5h2v-2h2v-1h2v1.5h2v0.5h2v3h4v1h2v6.5h2v6h2v5.5h4v-3h2v-3.5h2v1.5h2v-0.5h2v-0.5h2v-0.5h2v1h2v2h2v-13h2v-3h2v-1.5h2v-3.5h2v-0.5h2v-1.5h2v-0.5h2v-6h2v0.5h2v-1.5h2v-2.5h2v1.5h2v-2.5h2v-1h2v-1h2v-1h2v-1h2v-2.5h2v-0.5h2v-0.5h2v1h4v-1h2v0.5h4v-0.5h2v-2h2v3h2v1h2v0.5h2v1.5h2v2h2v-4h2v3.5h2v1h2v2.5h2v2h2v1h2v-3.5h2v4h2v1h2v-3h2v3h2v1h2v2h2v1h4v6h2v2h2v1.5h2v3.5h2v-1h2v-4.5h2v-2h2v1h2v-1.5h2v-0.5h2v1.5h2v1.5h2v-3h2v3h2v-2h2v-2h2v2h2v-4h4v2.5h2v-3h2v3.5h2v-0.5h2v-0.5h2v-2.5h2v1.5h2v-3h2v5.5h2v-0.5h2v2h2v0.5h2v0.5h2v0.5h2v0.5h4v-2.5h2v2h2v3.5h2v2.5h2v-0.5h2v-0.5h4v0.5h2v4h2v-1h2v-1h2v-1h4v-0.5h2v-0.5h2v-2.5h2v-2.5h2v-1h2v1h2v-3.5h2v1.5h2v-3h2v-3h2v-3h2v-2.5h2v0.5h2v0.5h2v1h2v-1h4v1.5h2v0.5h2v-1h2v-1h2v-1.5h2v-1.5h2v-3h2v-1.5h2v0.5h2v-1h2v-0.5h2v-0.5h2v-1h2v3.5h2v0.5h4v-5h2v-0.5h4v-0.5h2v-0.5h2v3h2v-0.5h2v-1h2v-2h2v-0.5h2v2h2v-3.5h8v4.5h4v-0.5h2v-1h2v-0.5h2v-2.5h2v-2h2v-2.5h4v-3.5h950v4.5h2v1.5h2v2h2v-2.5h2v2h2v-2h2v0.5h2v0.5h2v4h4v-0.5h2v-2.5h2v-1h2v-0.5h2v-0.5h2v-1.5h2v1h2v5.5h2v-1.5h4v0.5h2v0.5h4v-2h2v-5h2v1.5h2v-4.5h2v2.5h2v0.5h2v-3h2v6h2v0.5h2v0.5h2v-5.5h2v3.5h2v0.5h2v-1h4v-0.5h2v-0.5h2v0.5h2v-3.5h2v-0.5h4v1h2v-1h412V2076.4Z" fill="#f9c8ae"/>
<path d="M112.6,2076.4h414v-1h2v-3h2v-3h2v-3h2v-5.5h2v-3h2v-2.5h2v-3h2v-4h2v-2.5h2v-1h4v4.5h4v-2h6v-3h4v1h2v1h2v1.5h2v1h2v5h2v-1.5h2v2.5h2v1.5h2v0.5h2v2h2v2h2v3.5h2v1h2v-7h2v-4.5h2v-1.5h2v5h2v1h2v0.5h2v-3h4v4h2v1h2v3.5h2v3h2v-2.5h2v-1.5h2v2.5h2v2h2v0.5h2v-1.5h2v1h2v-2.5h2v3.5h2v-2h2v4.5h2v-1.5h4v1.5h2v0.5h2v-0.5h2v0.5h4v-2.5h2v-1.5h2v2.5h2v1h2v1.5h2v3.5h16v-1h6v1h8v-0.5h2v0.5h4v-3h2v3h2v-2h2v-2.5h2v-3h2v-0.5h2v-4.5h2v-0.5h2v-1h2v-0.5h2v4.5h2v-1h2v-3h2v-3h2v5.5h2v-6.5h2v-1h2v-0.5h2v-1h2v1.5h2v-1h2v-5.5h2v-1h2v-1h2v-0.5h2v-0.5h2v-0.5h2v-1h2v2.5h4v-0.5h4v-0.5h2v-0.5h2v-2.5h2v-3h2v-0.5h2v-0.5h4v3.5h2v-2.5h2v2h2v1h2v-1h4v-1h2v3h2v-2.5h2v2.5h4v-5.5h2v-1h2v5h2v-5.5h4v1.5h4v-0.5h4v2.5h4v1.5h2v-2h2v-0.5h6v2h4v0.5h2v2.5h2v-6h2v2h2v4.5h4v-0.5h2v0.5h4v1h2v0.5h2v-1h4v6.5h2v1.5h2v1h2v0.5h2v1h4v3.5h2v1.5h2v-4.5h2v-0.5h2v1.5h2v7h2v0.5h2v-3.5h2v3.5h2v-0.5h2v-3h2v0.5h2v1.5h2v0.5h2v8.5h2v-6h2v-3h2v1.5h2v-2h2v-3.5h2v-0.5h2v3h2v-0.5h2v-0.5h2v-6h2v-0.5h2v1.5h2v2.5h2v-0.5h2v-2h2v-0.5h2v2.5h2v-2h2v-0.5h2v-5h2v4h2v0.5h2v-5.5h2v6.5h4v-1h2v-0.5h2v0.5h4v-5h2v0.5h4v5.5h2v-3h2v3h2v-3.5h2v4.5h2v0.5h2v-1h2v0.5h2v1h2v0.5h2v1.5h2v3.5h2v0.5h2v-4.5h2v-1h2v6h2v0.5h2v1h2v-3.5h2v1h2v4.5h2v2.5h2v0.5h2v0.5h2v-1.5h2v-1h2v-4h2v2.5h2v-3h2v-0.5h2v0.5h2v4.5h2v-4h2v1h2v-1h2v-1h2v-1h2v-1.5h2v-0.5h2v-1h2v3.5h2v-1h2v-6h2v1.5h2v0.5h2v-0.5h2v1.5h2v-2h2v-2h2v-1.5h2v-0.5h2v-0.5h2v-0.5h2v3h2v-3h4v-2h2v0.5h4v2h2v0.5h2v-1.5h2v5h4v1h2v3.5h2v-1h2v-1.5h2v1h2v1h2v0.5h2v-0.5h2v1h2v2h2v-1h2v3.5h2v-1h2v-3.5h2v-4h2v5.5h2v-5.5h2v3h4v-5h2v5h2v-3.5h2v1.5h2v-4.5h2v2.5h2v-1.5h2v-2h6v-1.5h2v2.5h2v-1h2v0.5h2v4h2v0.5h2v1h2v-1h2v0.5h2v2.5h4v-4h2v5h2v-2h2v1h6v-4.5h2v6h2v-0.5h2v-5.5h4v-1h2v-0.5h2v-0.5h2v-1h2v3h2v-4.5h6v3.5h4v-0.5h2v-3.5h2v2h2v-1.5h2v-0.5h2v2.5h2v-0.5h2v-7.5h2v3h2v3h2v-1h2v-1h2v-2h2v-2h2v-1.5h2v1h2v-2h2v-0.5h2v-1.5h2v-2.5h2v-0.5h2v-0.5h6v0.5h2v0.5h2v2h4v-3.5h2v-0.5h2v-0.5h4v-0.5h2v-0.5h2v-0.5h2v1.5h2v-2.5h2v0.5h2v4h2v-0.5h2v0.5h2v2.5h2v-3.5h2v3h2v-1.5h4v-0.5h2v-4h2v-1h2v1h2v-1h2v-2h2v-1h4v1h2v4.5h2v2h2v1h2v0.5h2v-2h2v1h2v-1.5h2v4.5h4v-0.5h2v0.5h2v0.5h2v1h2v3.5h2v2h2v3h2v2h2v5h2v2.5h2v-0.5h2v-1h2v-1h2v-4h2v2.5h2v-0.5h4v1h2v-2h2v-2.5h2v-7h2v0.5h2v-0.5h2v-0.5h2v4h2v-2h2v1.5h2v-5h2v-0.5h2v1h2v-2h2v-0.5h2v-0.5h2v-1h2v0.5h2v6.5h2v0.5h2v0.5h2v-1.5h2v-0.5h2v-1h2v4.5h2v0.5h2v1h2v1h2v-1h2v-1.5h2v1h2v1h2v1h2v2.5h4v0.5h2v3.5h2v-5.5h2v3h2v6.5h2v-1h4v1h2v1.5h2v1.5h4v1h2v1h2v5.5h60v-1h2v1h24v-1h2v-0.5h2v1.5h2v-1.5h2v-2h2v0.5h2v-1h2v-1h2v-1h2v0.5h2v-1.5h2v-2.5h2v-2.5h2v-6h2v-1.5h2v-2h2v1h2v1h2v1h4v0.5h2v0.5h2v0.5h2v-4h4v5h2v-5h2v0.5h2v2h4v-0.5h2v2.5h2v0.5h4v-3.5h2v2.5h2v2h2v0.5h2v0.5h2v0.5h2v3h2v-1.5h2v1h2v-1h4v5h2v0.5h2v-4.5h2v6h2v-0.5h2v-2h2v-0.5h2v-1h2v-5.5h2v5h2v-8h2v-1h4v-0.5h2v-0.5h4v-0.5h2v3h4v0.5h4v-0.5h2v4.5h4v0.5h2v0.5h2v0.5h4v-1.5h2v0.5h2v2.5h2v0.5h2v-0.5h2v-2h2v1h2v4h2v0.5h2v-3h2v5h2v0.5h2v0.5h2v-1h4v0.5h6v2.5h2v-0.5h2v0.5h2v1h2v-3.5h2v0.5h4v-1h2v1.5h2v-0.5h2v-0.5h2v-0.5h2v-0.5h2v3h2v1.5h2v-0.5h2v-4.5h2v-3.5h2v-1.5h2v-2h2v0.5h2v-2h2v-1.5h2v1h2v-3h2v-3h2v-1.5h2v-0.5h2v-1.5h4v4h2v-0.5h4v-2.5h4v-2.5h4v-1.5h2v6h4v-5h2v3h4v2h6v-3.5h6v-2h2v-0.5h2v1h2v-4.5h2v4h2v-1h2v-0.5h2v-5.5h2v0.5h2v5.5h2v2.5h2v1h2v-3.5h2v1.5h2v6h2v1.5h2v1.5h2v1h2v-1.5h2v-0.5h2v-4h2v-0.5h2v4.5h2v-5h2v3.5h2v-7h2v6.5h2v-1h2v-4.5h2v1.5h2v1.5h6v2.5h2v-4h2v-0.5h4v-0.5h2v-0.5h2v-0.5h2v-3h2v3h4v0.5h4v0.5h2v0.5h2v1.5h2v-2h2v3.5h2v0.5h2v1h2v3.5h6v-5.5h2v3.5h2v-2.5h2v-6.5h2v6.5h2v1h2v0.5h2v2h2v1h2v-2h2v5h2v1h2v0.5h4v0.5h0V2076.4Z" fill="#e47e65"/>
<path d="M113.0,2107.5 L241.8,2111.0" fill="none" stroke="#b4b4b4" stroke-width="1.6"/><polygon points="241.8,2109.0 315.6,2109.0 315.6,2120.1 241.8,2120.1" fill="#999" fill-opacity=".5"/><polygon points="246.1,2101.0 262.0,2101.0 262.0,2112.1 246.1,2112.1" fill="#999" fill-opacity=".5"/><path d="M262.0,2112.6V2101.0L265.7,2097.0L269.3,2101.0V2112.6Z" fill="#fff"/><path d="M262.0,2101.5L265.7,2097.4L269.3,2101.5" fill="none" stroke="#bdbdbd" stroke-width="1.3"/><polygon points="269.3,2101.0 286.6,2101.0 286.6,2112.1 269.3,2112.1" fill="#999" fill-opacity=".5"/><path d="M286.6,2112.6V2101.0L290.5,2097.0L294.4,2101.0V2112.6Z" fill="#fff"/><path d="M286.6,2101.5L290.5,2097.4L294.4,2101.5" fill="none" stroke="#bdbdbd" stroke-width="1.3"/><polygon points="294.4,2101.0 306.0,2101.0 300.0,2112.1 294.4,2112.1" fill="#999" fill-opacity=".5"/><polygon points="327.1,2101.0 394.6,2101.0 394.6,2112.1 327.1,2112.1" fill="#999" fill-opacity=".5"/><polygon points="327.1,2101.0 394.6,2101.0 394.6,2103.6 327.1,2103.6" fill="#707070"/><path d="M394.6,2112.6V2101.0L401.4,2097.0L408.2,2101.0V2112.6Z" fill="#fff"/><path d="M394.6,2101.5L401.4,2097.4L408.2,2101.5" fill="none" stroke="#bdbdbd" stroke-width="1.3"/><polygon points="408.2,2101.0 523.0,2101.0 517.0,2112.1 408.2,2112.1" fill="#999" fill-opacity=".5"/><polygon points="408.2,2101.0 523.0,2101.0 521.6,2103.6 408.2,2103.6" fill="#707070"/><polygon points="539.2,2101.0 605.8,2101.0 605.8,2112.1 545.2,2112.1" fill="#999" fill-opacity=".5"/><polygon points="539.2,2101.0 605.8,2101.0 605.8,2103.6 540.6,2103.6" fill="#707070"/><polygon points="603.4,2109.0 677.2,2109.0 677.2,2120.1 609.4,2120.1" fill="#999" fill-opacity=".5"/><polygon points="603.4,2109.0 677.2,2109.0 677.2,2111.6 604.8,2111.6" fill="#1e1e1e"/><polygon points="678.1,2101.0 761.1,2101.0 761.1,2112.1 684.1,2112.1" fill="#999" fill-opacity=".5"/><polygon points="762.0,2101.0 838.6,2101.0 838.6,2112.1 768.0,2112.1" fill="#999" fill-opacity=".5"/><polygon points="884.7,2101.0 939.1,2101.0 939.1,2112.1 890.7,2112.1" fill="#999" fill-opacity=".5"/><path d="M939.1,2112.6V2101.0L942.7,2097.0L946.3,2101.0V2112.6Z" fill="#fff"/><path d="M939.1,2101.5L942.7,2097.4L946.3,2101.5" fill="none" stroke="#bdbdbd" stroke-width="1.3"/><polygon points="946.3,2101.0 983.9,2101.0 983.9,2112.1 946.3,2112.1" fill="#999" fill-opacity=".5"/><polygon points="990.3,2101.0 1042.3,2101.0 1042.3,2112.1 996.3,2112.1" fill="#999" fill-opacity=".5"/><polygon points="1047.9,2101.0 1095.1,2101.0 1095.1,2112.1 1053.9,2112.1" fill="#999" fill-opacity=".5"/><polygon points="1106.7,2101.0 1238.3,2101.0 1238.3,2112.1 1112.7,2112.1" fill="#999" fill-opacity=".5"/><polygon points="1106.7,2101.0 1238.3,2101.0 1238.3,2103.6 1108.1,2103.6" fill="#1e1e1e"/><path d="M1238.3,2102.0 L1307.1,2097.5 L1375.8,2102.0" fill="none" stroke="#222" stroke-width="2"/><polygon points="1375.8,2101.0 1391.7,2101.0 1391.7,2112.1 1375.8,2112.1" fill="#999" fill-opacity=".5"/><polygon points="1375.8,2101.0 1391.7,2101.0 1391.7,2103.6 1375.8,2103.6" fill="#1e1e1e"/><path d="M1391.7,2102.0 L1396.8,2097.5 L1401.8,2102.0" fill="none" stroke="#222" stroke-width="2"/><polygon points="1401.8,2101.0 1407.6,2101.0 1407.6,2112.1 1401.8,2112.1" fill="#999" fill-opacity=".5"/><polygon points="1401.8,2101.0 1407.6,2101.0 1407.6,2103.6 1401.8,2103.6" fill="#1e1e1e"/><polygon points="1252.2,2109.0 1359.9,2109.0 1359.9,2120.1 1258.2,2120.1" fill="#999" fill-opacity=".5"/><polygon points="1252.2,2109.0 1359.9,2109.0 1359.9,2111.6 1253.6,2111.6" fill="#707070"/><path d="M1359.9,2110.0 L1367.8,2105.5 L1375.8,2110.0" fill="none" stroke="#777" stroke-width="2"/><polygon points="1375.8,2109.0 1391.7,2109.0 1391.7,2120.1 1375.8,2120.1" fill="#999" fill-opacity=".5"/><polygon points="1375.8,2109.0 1391.7,2109.0 1391.7,2111.6 1375.8,2111.6" fill="#707070"/><path d="M1391.7,2110.0 L1396.8,2105.5 L1401.8,2110.0" fill="none" stroke="#777" stroke-width="2"/><polygon points="1401.8,2109.0 1407.6,2109.0 1407.6,2120.1 1401.8,2120.1" fill="#999" fill-opacity=".5"/><polygon points="1401.8,2109.0 1407.6,2109.0 1407.6,2111.6 1401.8,2111.6" fill="#707070"/><polygon points="1411.4,2101.0 1450.1,2101.0 1444.1,2112.1 1411.4,2112.1" fill="#999" fill-opacity=".5"/><polygon points="1411.4,2101.0 1450.1,2101.0 1448.7,2103.6 1411.4,2103.6" fill="#707070"/><polygon points="1594.6,2101.0 1661.4,2101.0 1661.4,2112.1 1600.6,2112.1" fill="#999" fill-opacity=".5"/><polygon points="1665.5,2101.0 1722.3,2101.0 1722.3,2112.1 1671.5,2112.1" fill="#999" fill-opacity=".5"/><polygon points="1725.4,2101.0 1738.0,2101.0 1738.0,2112.1 1731.4,2112.1" fill="#999" fill-opacity=".5"/><path d="M1738.0,2112.6V2101.0L1742.7,2097.0L1747.5,2101.0V2112.6Z" fill="#fff"/><path d="M1738.0,2101.5L1742.7,2097.4L1747.5,2101.5" fill="none" stroke="#bdbdbd" stroke-width="1.3"/><polygon points="1747.5,2101.0 1768.0,2101.0 1768.0,2112.1 1747.5,2112.1" fill="#999" fill-opacity=".5"/><polygon points="1778.1,2101.0 1849.9,2101.0 1849.9,2112.1 1784.1,2112.1" fill="#999" fill-opacity=".5"/><polygon points="1778.1,2101.0 1849.9,2101.0 1849.9,2103.6 1779.5,2103.6" fill="#707070"/><polygon points="1857.2,2101.0 1940.7,2101.0 1940.7,2112.1 1863.2,2112.1" fill="#999" fill-opacity=".5"/><polygon points="1947.7,2101.0 1966.6,2101.0 1966.6,2112.1 1953.7,2112.1" fill="#999" fill-opacity=".5"/><polygon points="1966.6,2101.0 1977.6,2101.0 1977.6,2112.1 1972.6,2112.1" fill="#999" fill-opacity=".5"/><text transform="matrix(1.03,0,0,1,113.6,2132.9)" font-size="16">RNA5.0</text><text transform="matrix(1.03,0,0,1,246.1,2124.9)" font-size="16">UL111A</text><text transform="matrix(1.03,0,0,1,327.1,2124.9)" font-size="16">UL112</text><text transform="matrix(1.03,0,0,1,545.2,2124.9)" font-size="16">UL114</text><text transform="matrix(1.03,0,0,1,609.4,2132.9)" font-size="16">UL115</text><text transform="matrix(1.03,0,0,1,684.1,2124.9)" font-size="16">UL116</text><text transform="matrix(1.03,0,0,1,768.0,2124.9)" font-size="16">ORFL257C</text><text transform="matrix(1.03,0,0,1,890.7,2124.9)" font-size="16">UL119</text><text transform="matrix(1.03,0,0,1,996.3,2124.9)" font-size="16">UL120</text><text transform="matrix(1.03,0,0,1,1053.9,2124.9)" font-size="16">UL121</text><text transform="matrix(1.03,0,0,1,1112.7,2124.9)" font-size="16">UL122</text><text transform="matrix(1.03,0,0,1,1258.2,2132.9)" font-size="16">UL123</text><text transform="matrix(1.03,0,0,1,1411.4,2124.9)" font-size="16">UL124</text><text transform="matrix(1.03,0,0,1,1600.6,2124.9)" font-size="16">UL128</text><text transform="matrix(1.03,0,0,1,1671.5,2124.9)" font-size="16">UL130</text><text transform="matrix(1.03,0,0,1,1731.4,2124.9)" font-size="16">UL131A</text><text transform="matrix(1.03,0,0,1,1784.1,2136.9)" font-size="16">UL132</text><text transform="matrix(1.03,0,0,1,1863.2,2124.9)" font-size="16">UL148</text><text transform="matrix(1.03,0,0,1,1953.7,2124.9)" font-size="16">UL147A</text><text transform="matrix(1.03,0,0,1,1975.4,2136.9)" font-size="16">UL147</text>
<path d="M157.0,2076.9v3.5M245.8,2076.9v3.5M334.6,2076.9v3.5M423.3,2076.9v3.5M512.1,2076.9v3.5M600.9,2076.9v3.5M689.7,2076.9v3.5M778.5,2076.9v3.5M867.2,2076.9v3.5M956.0,2076.9v3.5M1044.8,2076.9v3.5M1133.6,2076.9v3.5M1222.4,2076.9v3.5M1311.1,2076.9v3.5M1399.9,2076.9v3.5M1488.7,2076.9v3.5M1577.5,2076.9v3.5M1666.3,2076.9v3.5M1755.0,2076.9v3.5M1843.8,2076.9v3.5M1932.6,2076.9v3.5" stroke="#333" stroke-width="0.9" fill="none"/>
<path d="M112.6,2249v-80h244v0.5h2v1h2v4h2v-1h2v-4.5h394v2.5h2v1.5h2v1.5h2v-1h2v-2.5h2v-1h2v-1h204v4h2v-0.5h4v1h4v1.5h8v-4.5h4v-0.5h4v1h2v0.5h2v1h2v-0.5h2v1.5h2v3h2v1.5h2v3.5h2v-2h2v-3.5h2v-2.5h2v-0.5h2v-1h2v-1h2v-1h2v-1h4v0.5h2v3.5h2v-2.5h2v-1h2v2h4v-0.5h4v-0.5h2v-0.5h2v-1h14v1h2v1h2v0.5h2v-1h2v0.5h2v-0.5h4v0.5h4v4h2v0.5h4v0.5h2v-4.5h2v0.5h2v3h2v1h2v1h2v1.5h2v2.5h2v-1h2v1.5h2v-4h4v-0.5h2v-0.5h4v-0.5h2v-0.5h2v3.5h2v-2.5h2v0.5h2v-0.5h2v1.5h2v-6h2v0.5h2v4h2v-0.5h2v-3.5h2v-0.5h2v-1.5h2v-0.5h2v2.5h6v0.5h2v-2h2v2h2v1h2v1h2v6h2v1.5h2v0.5h2v-2h2v0.5h2v1h2v4h4v-3h2v2h2v0.5h2v4.5h2v-4h2v1h2v0.5h2v1h2v1h2v0.5h2v0.5h2v4.5h2v0.5h2v-0.5h2v1.5h2v1h2v-1h2v-1.5h4v-1.5h2v-0.5h4v3h2v-0.5h4v-0.5h2v-0.5h2v-2h2v-0.5h2v0.5h2v1h2v-0.5h2v-4h2v3.5h2v-1h6v0.5h4v-1h2v-2.5h2v-1h2v4.5h2v0.5h2v0.5h2v-4h2v0.5h2v4.5h4v-1.5h2v0.5h4v0.5h2v-0.5h2v1.5h2v2h2v-3.5h2v0.5h2v4.5h4v-2.5h2v3h6v-3.5h2v4h2v0.5h2v1h2v0.5h2v-1h2v-2h2v-0.5h2v3h4v2h2v-3.5h2v1h2v-4.5h2v-1.5h2v-0.5h2v1h2v-0.5h2v-4h2v5.5h2v-1.5h2v0.5h2v2h2v-1.5h2v-1h2v2.5h2v-2h2v1h2v0.5h2v-1h2v3.5h2v0.5h2v0.5h2v-0.5h2v0.5h2v0.5h2v0.5h2v0.5h2v0.5h2v-1h2v1h2v0.5h2v3.5h2v0.5h6v0.5h2v0.5h2v-0.5h2v3.5h2v1h2v1.5h2v-1.5h2v1h2v-1h2v1h2v3h2v2.5h6v1h2v3.5h2v1.5h2v-2h2v2h2v1.5h2v4.5h2v-2.5h2v3.5h2v-1h4v1.5h2v-0.5h2v1h2v2h2v-1h2v0.5h2v1.5h2v1h2v1.5h2v1h2v2h2v0.5h6v0.5h4v0.5h2v-0.5h2v-1h4v-3.5h2v0.5h2v-0.5h2v-7h2v1.5h2v1.5h2v2h2v-1h2v-1.5h2v-1h2v-3.5h4v-2h2v0.5h4v-1h2v2.5h2v-0.5h2v-2h8v1h4v0.5h2v-0.5h4v-1.5h2v0.5h2v-0.5h4v-3h2v-0.5h2v-0.5h2v-1.5h2v-1.5h2v1.5h4v-3.5h4v0.5h2v-1.5h2v-0.5h4v2.5h2v1h2v-3.5h2v-0.5h6v-0.5h2v3h2v-1h4v-1h2v-0.5h4v1h2v0.5h2v-3.5h2v-0.5h2v1.5h2v-0.5h2v-0.5h4v-0.5h2v-1h2v2h2v-0.5h2v-0.5h2v-1h2v-3.5h2v4h2v-4h2v1.5h2v-0.5h8v-0.5h6v-1h4v1h2v-1h2v4h2v-0.5h2v-2.5h6v0.5h2v0.5h2v0.5h2v0.5h2v0.5h4v1.5h4v-1h2v3h2v-4h4v0.5h2v0.5h2v1.5h2v0.5h2v1h2v2.5h4v-1h2v4h2v1.5h2v1h2v-1h2v-1h2v1h4v0.5h2v1.5h2v1h2v1h2v-0.5h2v1h2v1h2v2.5h2v1.5h2v1.5h2v2h2v2h2v-1.5h2v1h2v0.5h2v1.5h2v1.5h2v1h2v1h2v0.5h4v2h2v0.5h2v-2.5h6v1h2v-0.5h2v-0.5h2v-2.5h2v-1h2v1h2v-0.5h2v-1.5h2v-1h2v-4h2v1h2v-2.5h2v-0.5h2v-0.5h2v1h2v-0.5h2v-3.5h2v-0.5h2v-0.5h2v1h2v1.5h2v-1h2v-2h2v-0.5h2v2h2v1h2v-0.5h2v-2.5h2v0.5h4v0.5h4v1h2v0.5h2v0.5h2v1.5h2v0.5h2v1h2v0.5h2v0.5h2v-1h2v2.5h2v-1.5h2v-0.5h2v2.5h2v1h2v0.5h4v1h2v1.5h2v-0.5h2v2.5h2v1.5h2v2h2v1.5h2v-2h2v-3.5h2v-1h2v-3.5h2v-1h2v1.5h2v-1.5h2v-1h2v-0.5h2v-1.5h2v0.5h4v-1h2v1h2v-2.5h4v2.5h2v-2.5h2v-0.5h2v0.5h4v2h2v1.5h6v1h2v1h2v1h2v1.5h2v1h2v1h2v0.5h2v-2h2v-1h2v-0.5h2v0.5h2v-1.5h2v-0.5h2v0.5h2v1h2v1.5h2v1.5h2v0.5h0V2249Z" fill="#f9c8ae"/>
<path d="M112.6,2249v-22h6v0.5h2v-2h2v0.5h2v4.5h2v-4h2v-1h2v-1.5h2v1.5h2v2h2v-6.5h2v1.5h2v-1h2v-0.5h2v3.5h2v-0.5h6v2.5h4v-2.5h2v0.5h2v-1h2v0.5h2v0.5h2v0.5h2v0.5h4v3h2v-3.5h2v-0.5h2v1.5h2v4h2v1h2v-1h2v1h2v0.5h2v1h2v0.5h2v-1.5h2v3.5h2v1h2v-0.5h4v-5.5h2v2.5h2v3.5h4v-3h6v3h2v-5h2v-0.5h2v-2h2v-0.5h2v2h2v5h4v-6h2v0.5h2v6.5h2v0.5h2v0.5h2v-5.5h2v0.5h4v4.5h2v-4.5h2v3.5h2v-6.5h2v3.5h2v-4h2v0.5h2v-2h2v-0.5h2v2.5h2v-0.5h4v-1.5h2v-2.5h2v-5h2v-1.5h2v-0.5h2v-0.5h2v-1h2v-3h2v2h2v3.5h4v-2h2v1h2v-2.5h2v1h2v-1.5h2v0.5h2v6h2v0.5h2v-4.5h2v2.5h2v-1.5h2v1.5h2v4.5h2v0.5h2v-0.5h2v6.5h2v-2.5h2v4h2v-3.5h2v4.5h2v1h2v1.5h2v0.5h2v-2h2v0.5h2v0.5h2v2h2v2h2v3h2v4.5h2v2.5h8v-2h2v-9h2v-3h2v-0.5h6v3h2v-5h2v2h2v-0.5h2v1h2v-5.5h2v3h2v1.5h2v-2h2v-0.5h2v-0.5h2v-0.5h2v2.5h2v-0.5h2v-0.5h2v-1h2v-2h2v-2h4v-1.5h2v0.5h2v1h2v0.5h2v1h2v0.5h2v4h2v-2.5h2v3.5h2v1h2v-2h4v-1.5h2v4.5h2v0.5h2v1h2v1h2v1.5h2v2h2v-4h2v3h2v-1h2v4h2v3h2v-1.5h2v-4.5h2v-4.5h2v-2.5h2v-1h2v-2h2v-2.5h2v-4h2v4h2v-1.5h2v-0.5h2v-1h2v-3.5h2v-1.5h2v-1.5h2v-0.5h2v2h2v1.5h2v1.5h2v1.5h2v0.5h2v2.5h2v0.5h2v5h2v-4.5h8v0.5h4v-2h6v2.5h2v4.5h6v-6.5h2v4h2v-1.5h2v2.5h2v-0.5h2v-3.5h2v0.5h4v-0.5h4v-0.5h2v-1.5h2v0.5h2v0.5h2v-2h2v4h2v-3.5h2v2h2v-1h2v0.5h2v-3h2v4h2v-0.5h2v-1.5h4v-0.5h4v0.5h2v-1.5h2v-1h2v-1.5h2v0.5h2v3h2v-2h2v0.5h4v0.5h2v1.5h2v-1h2v0.5h2v0.5h2v4.5h2v0.5h2v0.5h4v0.5h4v2.5h2v0.5h2v1.5h2v-6h2v-0.5h2v5h2v-0.5h2v-5h2v5.5h2v-3h2v2h6v-0.5h2v-1.5h2v-0.5h8v1.5h2v0.5h2v-0.5h2v-0.5h2v-1h4v-0.5h4v-0.5h2v5h2v7.5h2v0.5h2v0.5h2v0.5h2v-1h2v-1h4v-2.5h4v0.5h2v-0.5h2v-1.5h2v-2h2v-0.5h2v4.5h2v-0.5h4v0.5h4v-0.5h2v0.5h2v-3h2v5.5h4v0.5h6v-5.5h4v0.5h2v0.5h4v3h2v1h4v5h16v-4.5h2v1.5h2v-4.5h2v5h4v-4h2v2h2v-0.5h2v-2h2v3.5h4v-3.5h4v-1h2v-0.5h2v4h2v-1h2v-0.5h4v0.5h4v0.5h4v0.5h4v0.5h2v0.5h4v1h2v0.5h2v-7h2v1.5h2v0.5h2v0.5h2v3h2v1h2v1.5h2v1h14v-1.5h2v-2.5h2v3.5h2v0.5h12v-0.5h4v-1h2v-0.5h2v0.5h2v-0.5h2v-0.5h2v0.5h2v-0.5h4v-2.5h2v4.5h2v0.5h6v-2.5h2v-1.5h2v-0.5h2v1.5h2v1.5h2v-1.5h2v2h4v-3h2v1.5h2v-4h4v2h2v1h2v2h2v-5h6v0.5h2v2.5h4v0.5h2v-2h2v0.5h2v-0.5h4v0.5h2v1.5h2v0.5h2v-1.5h4v1h2v3h56v-0.5h2v0.5h26v-2h2v-1h2v2h2v1h2v-2h2v2h908V2249Z" fill="#e47e65"/>
<polygon points="113.0,2273.6 164.2,2273.6 164.2,2284.7 113.0,2284.7" fill="#999" fill-opacity=".5"/><polygon points="172.3,2273.6 192.0,2273.6 192.0,2284.7 178.3,2284.7" fill="#999" fill-opacity=".5"/><polygon points="193.2,2273.6 234.5,2273.6 234.5,2284.7 199.2,2284.7" fill="#999" fill-opacity=".5"/><polygon points="240.9,2273.6 272.2,2273.6 272.2,2284.7 246.9,2284.7" fill="#999" fill-opacity=".5"/><polygon points="297.6,2273.6 331.5,2273.6 331.5,2284.7 303.6,2284.7" fill="#999" fill-opacity=".5"/><polygon points="354.1,2273.6 400.1,2273.6 400.1,2284.7 360.1,2284.7" fill="#999" fill-opacity=".5"/><polygon points="460.2,2273.6 540.7,2273.6 540.7,2284.7 466.2,2284.7" fill="#999" fill-opacity=".5"/><polygon points="547.9,2273.6 637.6,2273.6 637.6,2284.7 553.9,2284.7" fill="#999" fill-opacity=".5"/><polygon points="664.2,2273.6 714.2,2273.6 714.2,2284.7 670.2,2284.7" fill="#999" fill-opacity=".5"/><polygon points="731.6,2273.6 767.8,2273.6 767.8,2284.7 737.6,2284.7" fill="#999" fill-opacity=".5"/><polygon points="818.4,2273.6 863.0,2273.6 863.0,2284.7 824.4,2284.7" fill="#999" fill-opacity=".5"/><polygon points="870.5,2273.6 934.7,2273.6 934.7,2284.7 876.5,2284.7" fill="#999" fill-opacity=".5"/><polygon points="942.8,2273.6 1024.4,2273.6 1024.4,2284.7 948.8,2284.7" fill="#999" fill-opacity=".5"/><polygon points="1041.0,2273.6 1108.7,2273.6 1108.7,2284.7 1047.0,2284.7" fill="#999" fill-opacity=".5"/><polygon points="1118.3,2273.6 1138.5,2273.6 1138.5,2284.7 1124.3,2284.7" fill="#999" fill-opacity=".5"/><polygon points="1150.9,2273.6 1171.8,2273.6 1171.8,2284.7 1156.9,2284.7" fill="#999" fill-opacity=".5"/><polygon points="1180.5,2273.6 1199.3,2273.6 1199.3,2284.7 1186.5,2284.7" fill="#999" fill-opacity=".5"/><polygon points="1234.9,2273.6 1249.9,2273.6 1249.9,2284.7 1240.9,2284.7" fill="#999" fill-opacity=".5"/><polygon points="1253.4,2273.6 1423.5,2273.6 1423.5,2284.7 1259.4,2284.7" fill="#999" fill-opacity=".5"/><polygon points="1329.5,2281.6 1359.9,2281.6 1359.9,2292.7 1329.5,2292.7" fill="#999" fill-opacity=".5"/><polygon points="1329.5,2281.6 1359.9,2281.6 1359.9,2284.2 1329.5,2284.2" fill="#707070"/><path d="M1359.9,2293.2V2281.6L1364.2,2277.6L1368.5,2281.6V2293.2Z" fill="#fff"/><path d="M1359.9,2282.1L1364.2,2278.0L1368.5,2282.1" fill="none" stroke="#bdbdbd" stroke-width="1.3"/><polygon points="1368.5,2281.6 1409.6,2281.6 1403.6,2292.7 1368.5,2292.7" fill="#999" fill-opacity=".5"/><polygon points="1575.7,2273.6 1801.1,2273.6 1795.1,2284.7 1575.7,2284.7" fill="#999" fill-opacity=".5"/><polygon points="1803.6,2273.6 1845.2,2273.6 1845.2,2284.7 1809.6,2284.7" fill="#999" fill-opacity=".5"/><polygon points="1874.2,2273.6 1926.5,2273.6 1926.5,2284.7 1880.2,2284.7" fill="#999" fill-opacity=".5"/><polygon points="1964.1,2273.6 1977.6,2273.6 1977.6,2284.7 1970.1,2284.7" fill="#999" fill-opacity=".5"/><text transform="matrix(1.03,0,0,1,113.0,2297.5)" font-size="16">UL148</text><text transform="matrix(1.03,0,0,1,178.3,2297.5)" font-size="16">UL147A</text><text transform="matrix(1.03,0,0,1,199.8,2309.5)" font-size="16">UL147</text><text transform="matrix(1.03,0,0,1,246.9,2297.5)" font-size="16">UL146</text><text transform="matrix(1.03,0,0,1,303.6,2297.5)" font-size="16">UL145</text><text transform="matrix(1.03,0,0,1,360.1,2297.5)" font-size="16">UL144</text><text transform="matrix(1.03,0,0,1,466.2,2297.5)" font-size="16">UL142</text><text transform="matrix(1.03,0,0,1,553.9,2297.5)" font-size="16">UL141</text><text transform="matrix(1.03,0,0,1,670.2,2297.5)" font-size="16">UL140</text><text transform="matrix(1.03,0,0,1,737.6,2297.5)" font-size="16">UL139</text><text transform="matrix(1.03,0,0,1,824.4,2297.5)" font-size="16">UL138</text><text transform="matrix(1.03,0,0,1,876.5,2297.5)" font-size="16">UL136</text><text transform="matrix(1.03,0,0,1,948.8,2297.5)" font-size="16">UL135</text><text transform="matrix(1.03,0,0,1,1047.0,2297.5)" font-size="16">UL133</text><text transform="matrix(1.03,0,0,1,1125.5,2297.5)" font-size="16">UL148A</text><text transform="matrix(1.03,0,0,1,1158.8,2309.5)" font-size="16">UL148B</text><text transform="matrix(1.03,0,0,1,1236.0,2309.5)" font-size="16">UL148D</text><text transform="matrix(1.03,0,0,1,1260.9,2297.5)" font-size="16">UL150</text><text transform="matrix(1.03,0,0,1,1329.5,2305.5)" font-size="16">UL150A</text><text transform="matrix(1.03,0,0,1,1575.7,2297.5)" font-size="16">IRS1</text><text transform="matrix(1.03,0,0,1,1809.6,2297.5)" font-size="16">US1</text><text transform="matrix(1.03,0,0,1,1880.2,2297.5)" font-size="16">US2</text><text transform="matrix(1.03,0,0,1,1971.3,2297.5)" font-size="16">US3</text>
<path d="M157.0,2249.5v3.5M245.8,2249.5v3.5M334.6,2249.5v3.5M423.3,2249.5v3.5M512.1,2249.5v3.5M600.9,2249.5v3.5M689.7,2249.5v3.5M778.5,2249.5v3.5M867.2,2249.5v3.5M956.0,2249.5v3.5M1044.8,2249.5v3.5M1133.6,2249.5v3.5M1222.4,2249.5v3.5M1311.1,2249.5v3.5M1399.9,2249.5v3.5M1488.7,2249.5v3.5M1577.5,2249.5v3.5M1666.3,2249.5v3.5M1755.0,2249.5v3.5M1843.8,2249.5v3.5M1932.6,2249.5v3.5" stroke="#333" stroke-width="0.9" fill="none"/>
<path d="M112.6,2422.9v-3h2v-1h4v-2h2v-3.5h2v-2h2v-1h2v-1.5h4v-3.5h2v1.5h2v-3h2v-1h2v0.5h2v-0.5h4v-0.5h4v-0.5h6v-2h2v0.5h2v2h2v0.5h2v2.5h2v1h2v1h2v1h2v0.5h2v1h2v-1.5h2v2.5h2v1h2v1.5h2v-0.5h2v-1.5h2v-1h4v0.5h4v-2.5h10v2h4v-0.5h2v2.5h4v-2.5h2v1h2v1h2v1h2v-1h4v0.5h2v1h2v2h2v1.5h2v0.5h4v0.5h2v-0.5h4v-0.5h2v-2.5h2v-2h2v-1h2v-0.5h2v-1h2v-0.5h2v-0.5h2v1.5h2v-0.5h4v0.5h4v-2.5h2v1h4v1.5h2v0.5h2v0.5h4v-0.5h2v1h4v0.5h2v-1h2v1h2v2h4v1h2v-0.5h2v0.5h2v0.5h2v0.5h2v-1.5h4v-1.5h2v1h2v-1.5h2v1.5h2v-0.5h2v-1h2v-0.5h2v2h2v-2.5h2v2h2v-1h2v2h4v0.5h2v0.5h2v1h2v0.5h2v0.5h2v3.5h2v1h2v0.5h48v-4.5h2v-3.5h2v-5h2v2.5h2v-0.5h2v1h2v-1.5h2v-1h2v-1h2v-1.5h2v-0.5h2v-0.5h2v2.5h2v-1h2v0.5h2v-0.5h4v-2h8v0.5h2v1h2v3h2v2h2v1.5h2v-2h2v0.5h2v1.5h4v-0.5h2v0.5h2v-1.5h2v-0.5h6v-0.5h2v-2h2v0.5h2v0.5h2v0.5h2v2.5h2v-2.5h2v0.5h2v-2.5h2v-1h2v0.5h2v2h2v1h2v-1h2v1h2v2h2v0.5h2v-1h2v2.5h2v0.5h2v-1.5h2v1.5h2v2h2v0.5h2v-1.5h2v-1.5h2v-0.5h2v0.5h2v1.5h4v1h2v-0.5h2v1h2v2.5h4v-1.5h4v1h4v1h2v0.5h2v0.5h78v-2.5h2v-1h2v1h2v-0.5h4v-2h2v-1h2v0.5h2v-0.5h4v0.5h2v-1h2v2.5h2v0.5h2v-1h2v0.5h2v0.5h4v0.5h2v0.5h4v1.5h2v-2.5h2v2.5h2v-2.5h2v2h2v1h2v0.5h1288V2422.9Z" fill="#f9c8ae"/>
<path d="M112.6,2422.9h246v-3.5h2v-2.5h2v-3h2v-2h2v-1h2v-1.5h2v3.5h2v0.5h2v0.5h2v0.5h2v0.5h2v0.5h4v0.5h4v-1h2v-0.5h2v1.5h2v0.5h2v1h2v1.5h2v4h160v-1h2v-2.5h2v-1h2v-1h2v-1h2v-0.5h2v0.5h8v3.5h2v-1.5h2v1h2v-0.5h2v-2h4v0.5h6v1h2v0.5h2v-2h2v2h2v1h2v-1.5h2v3h2v-0.5h2v-0.5h6v-0.5h2v-0.5h2v-0.5h2v0.5h2v1.5h2v0.5h2v1h2v0.5h58v-1h2v-0.5h2v-1h4v1h6v-2h2v1h2v-1.5h6v-0.5h8v1.5h2v-0.5h4v-3h2v1h2v-0.5h2v0.5h2v0.5h2v-3h2v1.5h4v-0.5h4v1h2v-0.5h4v-0.5h4v0.5h2v0.5h2v-0.5h2v0.5h2v0.5h2v-0.5h4v1h2v3.5h2v-3h2v-2.5h4v-2h2v-0.5h4v2h2v-0.5h2v-0.5h2v-0.5h2v-2.5h2v0.5h2v-0.5h4v1h2v-0.5h2v-0.5h2v-3h4v1.5h4v-2.5h2v3.5h2v0.5h2v0.5h4v-1.5h2v2h2v-0.5h4v-1.5h2v1.5h6v1h2v-1h2v-0.5h2v-0.5h2v-1h2v0.5h2v-0.5h2v1.5h4v0.5h2v0.5h2v0.5h2v-1h6v0.5h2v0.5h2v1h2v3.5h2v-1h2v2h2v-1h2v3h2v-0.5h2v-1h8v-0.5h4v-0.5h2v-1h2v-1.5h2v-1.5h2v-1h2v1.5h2v-1h4v-0.5h2v-0.5h4v-1.5h8v0.5h10v-1h2v-0.5h2v0.5h2v-0.5h4v1.5h2v1.5h2v-1h2v0.5h2v1h2v0.5h4v0.5h2v-1h2v0.5h2v0.5h2v2h2v-2h10v1.5h2v-1h10v1.5h2v-0.5h2v-0.5h2v-1.5h4v-0.5h4v2h4v-2h4v1h2v-1.5h2v-1h2v-0.5h2v1h2v-1h2v-1h2v2h2v4h2v-1.5h2v-5.5h2v-0.5h2v-1h2v2h2v-1h2v-1h2v-2.5h2v1h4v-0.5h2v-3.5h4v2h2v-0.5h4v-0.5h2v0.5h2v0.5h2v0.5h2v1h2v1h2v-1h4v-0.5h2v1.5h2v0.5h2v-3.5h2v1.5h2v0.5h2v-0.5h2v-1h4v-3h8v-0.5h2v2.5h4v1.5h2v-1.5h2v-1h2v0.5h2v1h2v3h2v-0.5h2v-1h2v1h2v1.5h2v-0.5h2v0.5h2v1h2v1.5h2v-0.5h2v0.5h2v0.5h2v2.5h2v-2.5h2v0.5h2v-2h2v-1h2v2h2v-1.5h2v0.5h4v2h2v0.5h2v-2.5h2v0.5h2v-1h6v-1h2v-1.5h2v-0.5h2v0.5h2v-1h2v-0.5h2v-0.5h2v-3.5h2v-1.5h2v-0.5h2v1.5h2v-1.5h2v-0.5h2v-3h2v-0.5h2v-1.5h2v-2.5h2v-1.5h2v2h2v-1h2v-0.5h2v-3.5h2v2.5h2v-1.5h4v1h2v0.5h2v-0.5h2v-3.5h4v-1.5h2v1h2v-1h2v0.5h2v1.5h2v2.5h2v-3h2v2h2v1.5h2v3.5h2v0.5h2v-1.5h2v-0.5h6v3.5h8v-2h2v1h2v-2h4v1h2v2.5h2v-1.5h2v0.5h4v2.5h2v1h2v1h2v1h2v2.5h2v-0.5h2v0.5h4v-1h4v0.5h2v0.5h2v3h2v0.5h2v1h4v-1h2v1.5h2v0.5h8v0.5h4v-0.5h2v-2h4v-1h2v0.5h2v-0.5h2v-0.5h2v-2h2v-0.5h2v-1h2v-0.5h2v-0.5h2v0.5h2v-3h4v-0.5h2v2h4v-2.5h2v1h2v3.5h2v1h2v-0.5h4v-2h2v-0.5h2v1h4v1.5h2v1h2v-2h2v0.5h2v1h2v1h2v0.5h2v1h2v4.5h2v2h2v2h2v-0.5h2v-3h2v-1.5h2v-5.5h2v-1h2v0.5h6v1h2v-1h2v1.5h2v1h2v-0.5h2v2.5h2v-3h2v-0.5h2v-1h2v-0.5h2v-0.5h2v-1h2v-0.5h2v2h4v-2h2v-1.5h2v-0.5h2v2.5h2v-2h2v2h2v-0.5h2v-1.5h4v-2h4v3.5h2v-0.5h2v-4.5h2v-1.5h2v-0.5h2v-1.5h2v3h2v-0.5h2v-1h2v-1h2v-2h2v2h2v-0.5h4v-0.5h2v1h2v-0.5h2v-3h4v-1h2v2.5h2v-5h4v-1h2v2.5h2v-0.5h2v-1h2v-0.5h2v-0.5h2v-0.5h2v-2h2v2h4v0.5h2v0.5h2v-0.5h2v-0.5h4v-0.5h2v-0.5h2v2h2v-4.5h4v3.5h2v2h2v3h2v3h2v2h2v-0.5h2v2.5h2v1.5h4v-0.5h2v1.5h2v0.5h2v2h2v-0.5h2v0.5h4v1.5h2v2h2v1.5h2v3h2v1h2v1.5h2v-0.5h4v-2h2v-1.5h2v-2h2v2h2v-1.5h2v-4.5h2v-1h2v-1.5h2v-2h2v0.5h2v-6h2v-3h2v-3h2v-3.5h4v-1h2v-2h2v-2h2v-1h2v2h2v-1h2v-0.5h2v-1.5h8v-1.5h2v2h2v1.5h2v-2h2v0.5h2v1.5h4v-3h2v0.5h2v1h2v-1.5h2v1.5h2v5.5h2v2h2v0.5h2v2.5h2v-3.5h2v-0.5h4v-0.5h4v2.5h2v-1h2v-1.5h2v-4.5h2v-1.5h2v-2.5h2v1.5h2v-0.5h2v1h2v-0.5h4v-0.5h4v-0.5h2v-3.5h2v2.5h6v-3h4v-1h2v3.5h2v0.5h2v1h2v0.5h2v1h2v1h2v0.5h2v3.5h2v4h2v1h4v2.5h2v-4h4v0.5h2v-1h2v3.5h2v2.5h2v-2.5h2v-2.5h2v-1h2v-0.5h4v-1.5h4v2h2v-2.5h2v1.5h2v-1.5h2v-1.5h2v0.5h2v-5.5h2v1.5h2v2.5h4v-1h4v-2h4v3.5h6v-1.5h4v-0.5h2v-1h2v0.5h4v0.5h2v3h4v-0.5h4v0.5h2v-3h2v2.5h2v-3h2v-1h2v-0.5h2v2h2v-2h2v3h2v1.5h2v1h2v1h4v-2h2v-0.5h2v-0.5h4v4h2v-1.5h2v1.5h2v-1.5h2v4.5h2v1.5h2v1.5h4v0.5h2v-1.5h4v-0.5h4v-2.5h4v-0.5h8v-1h2v0.5h2v2h2v-0.5h2v-0.5h2v-1h2v-0.5h2v-1h2v1.5h2v-4h2v-2.5h2v-1.5h2v3h2v2.5h2v-1h2V2422.9Z" fill="#c6dfeb"/>
<polygon points="113.0,2447.5 150.6,2447.5 150.6,2458.6 113.0,2458.6" fill="#999" fill-opacity=".5"/><polygon points="188.3,2447.5 237.4,2447.5 237.4,2458.6 194.3,2458.6" fill="#999" fill-opacity=".5"/><polygon points="301.1,2447.5 348.8,2447.5 348.8,2458.6 307.1,2458.6" fill="#999" fill-opacity=".5"/><polygon points="387.3,2447.5 446.6,2447.5 446.6,2458.6 393.3,2458.6" fill="#999" fill-opacity=".5"/><polygon points="466.0,2447.5 525.3,2447.5 525.3,2458.6 472.0,2458.6" fill="#999" fill-opacity=".5"/><polygon points="527.7,2447.5 591.9,2447.5 591.9,2458.6 533.7,2458.6" fill="#999" fill-opacity=".5"/><polygon points="628.6,2447.5 676.6,2447.5 676.6,2458.6 634.6,2458.6" fill="#999" fill-opacity=".5"/><polygon points="684.4,2447.5 740.8,2447.5 740.8,2458.6 690.4,2458.6" fill="#999" fill-opacity=".5"/><polygon points="758.2,2447.5 832.6,2447.5 832.6,2458.6 764.2,2458.6" fill="#999" fill-opacity=".5"/><polygon points="840.1,2447.5 909.5,2447.5 909.5,2458.6 846.1,2458.6" fill="#999" fill-opacity=".5"/><polygon points="840.1,2447.5 909.5,2447.5 909.5,2450.1 841.5,2450.1" fill="#707070"/><polygon points="916.5,2447.5 997.8,2447.5 997.8,2458.6 922.5,2458.6" fill="#999" fill-opacity=".5"/><polygon points="1003.3,2447.5 1071.9,2447.5 1071.9,2458.6 1009.3,2458.6" fill="#999" fill-opacity=".5"/><polygon points="1077.7,2447.5 1160.2,2447.5 1160.2,2458.6 1083.7,2458.6" fill="#999" fill-opacity=".5"/><polygon points="1173.8,2447.5 1251.4,2447.5 1251.4,2458.6 1179.8,2458.6" fill="#999" fill-opacity=".5"/><polygon points="1275.4,2447.5 1348.3,2447.5 1348.3,2458.6 1281.4,2458.6" fill="#999" fill-opacity=".5"/><polygon points="1360.7,2447.5 1424.1,2447.5 1424.1,2458.6 1366.7,2458.6" fill="#999" fill-opacity=".5"/><polygon points="1429.3,2447.5 1496.4,2447.5 1496.4,2458.6 1435.3,2458.6" fill="#999" fill-opacity=".5"/><polygon points="1506.3,2447.5 1570.9,2447.5 1570.9,2458.6 1512.3,2458.6" fill="#999" fill-opacity=".5"/><polygon points="1587.3,2447.5 1739.6,2447.5 1739.6,2458.6 1593.3,2458.6" fill="#999" fill-opacity=".5"/><polygon points="1750.6,2447.5 1908.3,2447.5 1908.3,2458.6 1756.6,2458.6" fill="#999" fill-opacity=".5"/><polygon points="1750.6,2447.5 1908.3,2447.5 1908.3,2450.1 1752.0,2450.1" fill="#707070"/><polygon points="1916.8,2447.5 1977.6,2447.5 1977.6,2458.6 1922.8,2458.6" fill="#999" fill-opacity=".5"/><text transform="matrix(1.03,0,0,1,113.0,2471.4)" font-size="16">US2</text><text transform="matrix(1.03,0,0,1,194.3,2471.4)" font-size="16">US3</text><text transform="matrix(1.03,0,0,1,307.1,2471.4)" font-size="16">US6</text><text transform="matrix(1.03,0,0,1,393.3,2471.4)" font-size="16">US7</text><text transform="matrix(1.03,0,0,1,472.0,2471.4)" font-size="16">US8</text><text transform="matrix(1.03,0,0,1,533.7,2471.4)" font-size="16">US9</text><text transform="matrix(1.03,0,0,1,634.6,2471.4)" font-size="16">US10</text><text transform="matrix(1.03,0,0,1,690.4,2471.4)" font-size="16">US11</text><text transform="matrix(1.03,0,0,1,764.2,2471.4)" font-size="16">US12</text><text transform="matrix(1.03,0,0,1,846.1,2471.4)" font-size="16">US13</text><text transform="matrix(1.03,0,0,1,922.5,2471.4)" font-size="16">US14</text><text transform="matrix(1.03,0,0,1,1009.3,2471.4)" font-size="16">US15</text><text transform="matrix(1.03,0,0,1,1083.7,2471.4)" font-size="16">US16</text><text transform="matrix(1.03,0,0,1,1179.8,2471.4)" font-size="16">US17</text><text transform="matrix(1.03,0,0,1,1281.4,2471.4)" font-size="16">US18</text><text transform="matrix(1.03,0,0,1,1366.7,2471.4)" font-size="16">US19</text><text transform="matrix(1.03,0,0,1,1435.3,2471.4)" font-size="16">US20</text><text transform="matrix(1.03,0,0,1,1512.3,2471.4)" font-size="16">US21</text><text transform="matrix(1.03,0,0,1,1593.3,2471.4)" font-size="16">US22</text><text transform="matrix(1.03,0,0,1,1756.6,2471.4)" font-size="16">US23</text><text transform="matrix(1.03,0,0,1,1922.8,2471.4)" font-size="16">US24</text>
<path d="M157.0,2423.4v3.5M245.8,2423.4v3.5M334.6,2423.4v3.5M423.3,2423.4v3.5M512.1,2423.4v3.5M600.9,2423.4v3.5M689.7,2423.4v3.5M778.5,2423.4v3.5M867.2,2423.4v3.5M956.0,2423.4v3.5M1044.8,2423.4v3.5M1133.6,2423.4v3.5M1222.4,2423.4v3.5M1311.1,2423.4v3.5M1399.9,2423.4v3.5M1488.7,2423.4v3.5M1577.5,2423.4v3.5M1666.3,2423.4v3.5M1755.0,2423.4v3.5M1843.8,2423.4v3.5M1932.6,2423.4v3.5" stroke="#333" stroke-width="0.9" fill="none"/>
<path d="M112.6,2595.1h1180v-1h2v-0.5h2v-1h4v-1h2v-0.5h2v-0.5h2v-1h2v-2.5h2v0.5h2v-1h2v-1.5h2v-0.5h2v-3h2v-3.5h2v-4h2v-1h2v-2h2v-5h2v-2h2v1h2v-1h2v-1.5h2v-1.5h2v-1h2v-2h2v-1h4v1h2v-0.5h2v-0.5h2v-0.5h2v-2h4v2h2v-2h2v2.5h2v-3.5h6v-1h2v4h2v-4.5h2v1h2v1h2v-0.5h2v-1h6v-0.5h4v0.5h2v0.5h2v4h4v0.5h4v-0.5h4v0.5h2v1h4v-2.5h2v2h2v0.5h2v-1.5h2v3h2v0.5h4v-0.5h2v0.5h2v0.5h4v0.5h2v-1h2v-1h2v1.5h2v0.5h2v2h2v-1.5h4v2.5h6v-0.5h10v-1h2v0.5h2v0.5h2v1h2v1h2v1h2v0.5h2v1h4v3.5h2v0.5h2v-2h6v3.5h2v0.5h2v-3h2v0.5h2v0.5h2v1h2v0.5h2v1h2v1h2v0.5h2v2h2v2h2v3.5h0V2595.1Z" fill="#f9c8ae"/>
<path d="M112.6,2595.1v-45.5h2v-1.5h2v0.5h2v0.5h2v1h2v-1h2v1.5h2v3h2v-2.5h2v2.5h2v-0.5h4v-4h2v3.5h2v1h2v-2.5h2v3h2v2.5h2v0.5h2v1h2v1h2v-3.5h2v3.5h2v-1h2v-0.5h2v-2h2v1h4v-2h2v1.5h2v0.5h2v-1.5h2v0.5h6v-2.5h2v-0.5h2v-2h2v2.5h2v-1.5h2v-2h2v-0.5h2v-0.5h2v3.5h2v-1h2v-0.5h2v-0.5h2v-0.5h2v1h2v-4.5h2v-1h2v2.5h2v-1h2v1h2v-1h2v-3h2v3h2v-0.5h4v-3.5h4v1.5h6v0.5h2v1.5h2v1.5h2v-0.5h4v5h2v-3.5h4v0.5h2v0.5h2v0.5h2v1.5h2v2h2v2h2v2.5h2v0.5h2v0.5h2v0.5h4v-4h2v-3.5h2v-3h2v1h2v1.5h2v3h4v-2h2v-0.5h2v0.5h4v4h2v-2.5h2v0.5h2v2h4v-1h2v0.5h2v2.5h2v1h2v-1.5h2v3h2v-1.5h2v4h2v0.5h2v-4h2v-0.5h2v2h2v-0.5h2v0.5h2v-2h2v1h2v-1h2v-1.5h2v0.5h2v0.5h2v1.5h4v0.5h2v-3.5h2v4h4v-2.5h4v1h2v1h2v1h2v1h4v-2.5h4v1.5h2v-1.5h2v3h4v-1.5h2v-0.5h4v-0.5h2v-1h8v-0.5h2v1h4v-0.5h2v-1.5h2v-1.5h2v-1h2v-0.5h2v-0.5h2v-0.5h2v2h2v-2h4v0.5h2v0.5h2v0.5h2v2h2v-3h2v1h2v5h2v0.5h2v1.5h2v0.5h2v1.5h2v6h2v1.5h2v-2h2v3h2v0.5h2v-1h2v2.5h2v-0.5h2v0.5h2v-1.5h2v-2.5h2v-2h2v-1h2v1.5h2v-0.5h2v-1h2v1h2v-2h2v-3h2v-3.5h2v-2h2v-3.5h2v-5.5h2v-4h2v-4h2v-0.5h2v-0.5h2v-1h2v-0.5h2v-1h2v0.5h2v1h2v2.5h2v-1h2v3h2v0.5h4v1h2v1.5h2v4h2v-3h2v4h2v-1h2v1h2v1.5h2v1h2v-0.5h2v2h2v2h2v0.5h4v-3.5h2v-4h2v-2h2v-2h2v1.5h2v0.5h2v-2.5h2v1.5h2v2h2v1.5h2v1h2v1h2v1h2v-1h4v-0.5h2v-3h2v3h4v-1h2v0.5h2v2.5h2v0.5h2v0.5h2v-3.5h2v0.5h2v0.5h2v0.5h4v-0.5h2v-0.5h2v4h4v-3h2v1.5h2v0.5h2v0.5h2v-2h2v0.5h2v0.5h6v0.5h2v1.5h2v0.5h4v0.5h2v-3h2v0.5h2v0.5h2v0.5h2v2h2v0.5h2v1h2v1h2v1h2v1h2v-2.5h2v-2.5h2v-2h2v-4.5h2v-1.5h2v4.5h4v0.5h2v-4h2v1h6v-0.5h4v0.5h2v-2h2v-1h2v-0.5h2v1.5h2v-0.5h2v-1h2v1.5h2v-3h2v-0.5h2v6.5h2v1h2v2.5h2v3h2v1h2v1.5h4v1.5h2v-5h2v-1h2v-1.5h2v-0.5h4v-1h2v-2h4v-0.5h2v1h2v-2h2v-0.5h2v-0.5h2v-0.5h4v-0.5h2v2.5h4v-3.5h2v4h2v-5.5h2v1h2v4.5h2v-1h4v3h2v0.5h2v-2h2v3.5h2v-1h2v3h2v1h2v2h2v-1.5h4v1h2v-1h4v1.5h2v1.5h4v0.5h2v-2h2v2.5h2v-0.5h2v0.5h2v1.5h2v-1.5h2v0.5h2v-0.5h2v-0.5h2v-1h8v-1.5h2v-0.5h2v0.5h2v1.5h4v0.5h2v-3h4v0.5h2v0.5h2v1.5h2v-0.5h4v0.5h8v0.5h2v-3h2v2.5h2v0.5h2v1h2v-0.5h2v1h2v5h2v4.5h2v1h6v-0.5h2v2.5h2v-1.5h4v0.5h2v0.5h4v2h2v-2h2v0.5h4v-1h2v-1.5h2v-1h2v-0.5h2v-0.5h2v-0.5h4v-0.5h2v1.5h2v-1h2v0.5h2v2.5h2v-3h2v0.5h2v1h2v1.5h2v1h2v0.5h2v1.5h2v-1.5h2v1h2v-0.5h4v1h2v-0.5h2v-1.5h2v1.5h2v0.5h2v0.5h2v-1h2v-0.5h2v1.5h2v-1h2v2h2v-0.5h2v1.5h6v-2h2v1h2v1.5h2v2h2v1.5h2v0.5h2v1h2v3h2v1.5h16v-1.5h2v-2h2v1h2v1h2v-4h2v-0.5h2v1h2v1h4v-3h2v-3.5h2v3h2v-1h2v-0.5h4v3.5h2v5h2v1.5h2v0.5h4v1.5h4v-0.5h4v-1.5h2v2h4v-0.5h2v-1h4v-1.5h2v1h2v0.5h2v-1h2v2h2v1h2v0.5h2v-5.5h2v-8.5h2v-3h2v-0.5h2v0.5h2v3.5h2v1.5h2v1h2v1h2v0.5h2v1h2v0.5h2v-2.5h2v0.5h2v0.5h4v-0.5h2v-1h2v-0.5h2v-0.5h4v2h2v1h2v-0.5h2v1.5h2v0.5h2v-3h2v-1.5h2v-2h2v-2h2v2h6v1.5h2v4h2v2h2v1.5h2v-0.5h2v-0.5h2v1h2v-1.5h6v2h2v-2h2v1.5h2v1h2v0.5h2v-0.5h8v-1.5h2v1h2v-0.5h4v-1h2v-1h4v-0.5h2v-0.5h2v-1h2v-2.5h2v-0.5h2v1h2v-2.5h2v-2h2v-1.5h2v3.5h2v1h2v1.5h2v1h2v0.5h2v-1h2v1h2v0.5h2v0.5h2v2.5h2v1h2v-1.5h2v1h2v2.5h2v1h2v0.5h6v-0.5h2v0.5h2v0.5h6v0.5h2v0.5h234V2595.1Z" fill="#c6dfeb"/>
<polygon points="113.0,2619.7 132.4,2619.7 132.4,2630.8 113.0,2630.8" fill="#999" fill-opacity=".5"/><polygon points="113.0,2619.7 132.4,2619.7 132.4,2622.3 113.0,2622.3" fill="#707070"/><polygon points="142.0,2619.7 274.2,2619.7 274.2,2630.8 148.0,2630.8" fill="#999" fill-opacity=".5"/><polygon points="331.5,2619.7 491.5,2619.7 491.5,2630.8 337.5,2630.8" fill="#999" fill-opacity=".5"/><polygon points="331.5,2619.7 491.5,2619.7 491.5,2622.3 332.9,2622.3" fill="#707070"/><polygon points="523.9,2619.7 620.3,2619.7 614.3,2630.8 523.9,2630.8" fill="#999" fill-opacity=".5"/><polygon points="639.6,2619.7 733.0,2619.7 727.0,2630.8 639.6,2630.8" fill="#999" fill-opacity=".5"/><polygon points="748.7,2619.7 871.1,2619.7 865.1,2630.8 748.7,2630.8" fill="#999" fill-opacity=".5"/><polygon points="854.6,2627.7 946.9,2627.7 940.9,2638.8 854.6,2638.8" fill="#999" fill-opacity=".5"/><polygon points="957.9,2619.7 999.8,2619.7 993.8,2630.8 957.9,2630.8" fill="#999" fill-opacity=".5"/><polygon points="1012.0,2619.7 1059.4,2619.7 1053.4,2630.8 1012.0,2630.8" fill="#999" fill-opacity=".5"/><polygon points="1078.2,2619.7 1093.5,2619.7 1087.5,2630.8 1078.2,2630.8" fill="#999" fill-opacity=".5"/><polygon points="1108.8,2619.7 1152.1,2619.7 1146.1,2630.8 1108.8,2630.8" fill="#999" fill-opacity=".5"/><polygon points="1152.1,2619.7 1167.4,2619.7 1161.4,2630.8 1152.1,2630.8" fill="#999" fill-opacity=".5"/><polygon points="1257.9,2619.7 1467.8,2619.7 1467.8,2630.8 1263.9,2630.8" fill="#999" fill-opacity=".5"/><polygon points="1257.9,2619.7 1467.8,2619.7 1467.8,2622.3 1259.3,2622.3" fill="#707070"/><text transform="matrix(1.03,0,0,1,113.0,2643.6)" font-size="16">US23</text><text transform="matrix(1.03,0,0,1,148.6,2655.6)" font-size="16">US24</text><text transform="matrix(1.03,0,0,1,337.5,2643.6)" font-size="16">US26</text><text transform="matrix(1.03,0,0,1,523.9,2643.6)" font-size="16">US27</text><text transform="matrix(1.03,0,0,1,639.6,2643.6)" font-size="16">US28</text><text transform="matrix(1.03,0,0,1,748.7,2643.6)" font-size="16">US29</text><text transform="matrix(1.03,0,0,1,854.6,2651.6)" font-size="16">US30</text><text transform="matrix(1.03,0,0,1,957.9,2643.6)" font-size="16">US31</text><text transform="matrix(1.03,0,0,1,1012.0,2643.6)" font-size="16">US32</text><text transform="matrix(1.03,0,0,1,1078.2,2643.6)" font-size="16">US33A</text><text transform="matrix(1.03,0,0,1,1108.8,2655.6)" font-size="16">US34</text><text transform="matrix(1.03,0,0,1,1152.1,2643.6)" font-size="16">US34A</text><text transform="matrix(1.03,0,0,1,1263.9,2643.6)" font-size="16">TRS1</text>
<path d="M157.0,2595.6v3.5M245.8,2595.6v3.5M334.6,2595.6v3.5M423.3,2595.6v3.5M512.1,2595.6v3.5M600.9,2595.6v3.5M689.7,2595.6v3.5M778.5,2595.6v3.5M867.2,2595.6v3.5M956.0,2595.6v3.5M1044.8,2595.6v3.5M1133.6,2595.6v3.5M1222.4,2595.6v3.5M1311.1,2595.6v3.5M1399.9,2595.6v3.5M1488.7,2595.6v3.5" stroke="#333" stroke-width="0.9" fill="none"/>
<path d="M189.9,238.8v-1.5h1v-1h1v0.5h1v-2.5h2v-2.5h1v1.5h3v-1.5h1v0.5h1v1h1v-1.5h1v-0.5h1v0.5h1v-2.5h1v1.5h1v1h2v2h1v-1.5h1v-2h1v2h1v-2h1v-2h1v3h1v1h1v-2.5h1v2h1v0.5h1v0.5h1v-2h1v2h2v0.5h2v1h1v-1.5h2v2h1v1.5h1v1h1v-1h1v0.5h1v-0.5h2v0.5h1v-1.5h1v0.5h1v0.5h1v-0.5h1v-1.5h1v2h1v-1.5h1v2h1v-0.5h1v1h2v0.5h1v-0.5h1v1h1v-1.5h1v-0.5h1v0.5h1v0.5h2v1.5h11v-0.5h2v-1h2v-1.5h1v1h1v-2h1v-1h1v0.5h1v-0.5h1v-0.5h1v1h1v-2.5h1v-0.5h1v-1.5h1v-1.5h1v-0.5h1v2h2v1.5h1v1h1v1.5h1v-1.5h1v0.5h2v0.5h2v0.5h1v-0.5h1v0.5h1v2.5h3v0.5h2v-0.5h1v-1.5h1v1h1v-0.5h3v2.5h1v1h9v-1h1v0.5h1v-2.5h1v0.5h1v-1.5h1v0.5h2v0.5h1v2h1v1h97v-2h1v-4h1v-1.5h1v-2.5h1v-2h1v-2.5h1v0.5h1v1h1v-3h1v-0.5h1v-3.5h1v2h1v-10h1v2.5h1v-2.5h1v5.5h1v-0.5h1v-5h1v-2.5h1v1h1v-6.5h1v-1h1v-0.5h1v4h1v2.5h1v-4h1v3h1v-7h1v-4.5h1v7.5h1v2h1v-2h1v2.5h1v-3h1v-1.5h1v-1h1v3.5h1v-3.5h1v0.5h1v4.5h1v-5h1v2.5h1v0.5h1v-2.5h1v-0.5h1v3h1v-1.5h1v-3h1v5h1v-8h1v5.5h1v1h1v-3.5h1v-2h1v10h1v-11h1v9.5h1v-2.5h1v6h1v-5h1v-4h1v9h1v-4h1v-1.5h1v-5.5h1v5h1v-1h1v2h1v-4h1v2h1v-0.5h1v-2h1v-2h1v-4.5h1v5.5h1v5h1v-5h2v0.5h1v4.5h1v5.5h1v3h1v-8h1v-1h1v4.5h1v1h1v5h1v0.5h1v0.5h2v7.5h1v-4h1v-6.5h1v1.5h1v2h1v-0.5h1v3h1v-1h1v5.5h1v-4.5h1v1h1v-2h1v-1h1v2h1v-4h1v1h1v-1h1v-6h1v4.5h1v1.5h1v4h1v-1.5h1v4h1v-10.5h1v2.5h1v-0.5h1v5h1v-9h1v1.5h1v-4h1v-0.5h1v4.5h1v5h1v-3.5h1v2h1v9h1v-4h1v4.5h1v1.5h1v3.5h1v-0.5h1v2h1v5h1v1.5h1v3h1v0.5h1v1h96v-1h1v0.5h1v0.5h1v-1.5h2v1.5h1v-0.5h2v-2h1v1h1v-0.5h1v-0.5h3v0.5h1v-1h1v-1h1v1h1v-1.5h1v-1h1v-3.5h1v-1h1v-2.5h1v-1.5h1v-1h1v-1.5h1v-0.5h2v-1h1v5h1v-4.5h2v3h1v-3.5h1v4h1v-4h1v-1.5h1v-3h1v3h1v-1h1v-1h1v-7h1v-6h1v-1h1v-3.5h1v1.5h1v-1h1v1.5h1v0.5h2v4.5h1v-3.5h1v4h1v-2h1v2.5h1v3h1v-1.5h1v-0.5h1v4.5h1v-10h1v1.5h1v-2h1v-7h1v6h1v-3h1v-2.5h1v0.5h1v2.5h1v2h2v3.5h1v2h1v9.5h1v-3.5h1v-0.5h1v2.5h1v1.5h1v-1.5h1v2.5h1v0.5h1v0.5h1v-0.5h1v4h2v2h1v-0.5h1v-1.5h1v2.5h1v-1h2v0.5h1v2.5h1v-2h1v-0.5h1v-0.5h1v-1.5h1v-5h2v-0.5h1v-1.5h1v-3.5h1v6.5h1v-5h1v-1h3v-2.5h1v3.5h1v-3h1v-4h1v4h1v2h1v4h1v-4.5h1v2.5h1v-1h1v-0.5h1v-4h1v7.5h1v-4h2v-1.5h1v-1.5h1v3h1v-4.5h1v1h1v0.5h1v-4h1v6h1v-2h1v-1.5h1v5h1v1h2v-1h1v3.5h1v-0.5h1v1h1v-8h1v6.5h1v-2h1v-1.5h1v1.5h1v2.5h2v-1h1v-2h2v-3h2v1.5h2v-0.5h2v3h1v0.5h1v2.5h1v-7h1v2h1v6h1v-5h1v0.5h1v-5.5h1v7h1v-3h1v-2h1v3.5h1v-3.5h1v6h1v3h1v-9h1v1.5h1v-2h1v5h1v-0.5h1v-1h1v2h1v-1h1v3h1v-2h1v2.5h1v0.5h1v4.5h1v-5h1v1.5h1v-0.5h1v1h1v-0.5h1v-0.5h1v0.5h1v1h1v-1.5h1v3.5h2v1.5h1v0.5h1v0.5h2v-0.5h1v2.5h1v-1.5h1v7h1v1h1v1h1v-0.5h2v-2.5h1v1h1v-2.5h1v1h1v-1.5h1v0.5h1v0.5h1v3h1v0.5h2v1h1v0.5h1v-1h1v1h1v-0.5h1v0.5h1v1h1v-1h1v1h1v1h2v2h1v-0.5h1v-1h1v1.5h1v-1.5h1v0.5h1v-2h1v2.5h1v0.5h1v0.5h97v-3.5h1v-1.5h1v-2.5h2v-2h1v2h2v1h1v-3.5h1v3.5h0V238.8Z" fill="#e96143"/>
<path d="M189.9,238.8h68v1.5h1v-1h1v0.5h1v-0.5h1v0.5h2v-1h48v0.5h1v1h1v-0.5h1v0.5h1v-0.5h1v-1h11v2h1v1h1v1.5h1v1.5h1v0.5h1v-0.5h1v3.5h1v-2h1v-2h1v0.5h1v-1h1v1h1v1h1v-0.5h2v-1h1v1.5h2v2h1v0.5h1v-1.5h1v0.5h1v2h1v2h1v-1h1v2h1v2.5h1v3.5h1v-3h1v2.5h1v7.5h1v2h1v5.5h1v-0.5h1v2h1v-1h1v-2.5h1v-0.5h1v6h1v9h1v-10.5h1v4h1v-2h1v4.5h2v-10.5h1v-1.5h1v-9h1v3h1v-1h1v0.5h1v-4.5h1v3.5h1v-0.5h1v-2.5h1v-1h1v1.5h1v-4h1v0.5h1v-1h1v0.5h1v-5.5h1v2h1v1h1v1h1v-1h1v-1.5h1v4.5h1v-0.5h1v-2.5h1v-2.5h1v3h1v-1h1v-3h1v-0.5h1v-3h1v2h1v-1h1v1.5h1v-1.5h1v0.5h1v1h1v-3h1v2.5h1v-1h1v0.5h1v0.5h1v0.5h1v-0.5h1v-1.5h1v-1.5h1v-0.5h2v-1.5h1v-2.5h1v-1.5h138v1.5h1v-0.5h1v2h1v-0.5h1v-1h1v3h1v0.5h1v1h1v-0.5h1v1.5h1v0.5h1v1.5h1v1h1v-1.5h1v-2h1v1.5h2v-1h1v-1h1v-0.5h1v2h1v-2h1v3h1v1h1v-1.5h2v1h2v0.5h1v1.5h1v-0.5h1v-1h2v-1h2v0.5h1v-1.5h1v-0.5h1v3.5h1v-1h1v1.5h2v0.5h1v1h1v-2.5h1v1h1v-1.5h1v2h1v2h1v-4.5h1v2h1v-0.5h1v0.5h1v-0.5h1v-2h2v-0.5h1v0.5h1v1h1v0.5h1v1h1v-2.5h1v2h1v1.5h1v-1.5h1v-1h1v-3h1v1h1v0.5h1v-0.5h1v-1.5h1v0.5h1v1h1v-1h1v0.5h2v1h1v-2h1v1.5h1v-2.5h1v-1h1v1h1v0.5h2v-1h1v0.5h1v-1.5h2v-0.5h1v-1h2v-1h1v0.5h1v-1.5h242v1h1v-1h1v0.5h1v2h1v-1h2v0.5h1v1.5h3v-1.5h3v1h1v0.5h1v0.5h1v1h1v-1.5h1v2h1v-1h1v2h1v0.5h3v1.5h2v-1.5h1v-1h1v-1h1v1h2v1.5h2v1h1v1h1v-2.5h1v3h2v-1.5h1v2h1v0.5h1v1.5h1v0.5h1v-1.5h1v1h1v0.5h1v-1h2v0.5h1v-1.5h1v3h1v-1.5h2v-0.5h2v-3.5h1v0.5h1v1h1v0.5h1v0.5h2v-1.5h3v0.5h1v0.5h1v0.5h1v0.5h1v1.5h1v1h1v-1h1v-2.5h1v1h2v-3.5h2v1.5h1v-1h1v-2h1v2h1v-4.5h1v1h1v-2.5h1v1h1v-0.5h1v-1h2v-0.5h1v1.5h1v-0.5h1v-1.5h1v1h1v-2h10V238.8Z" fill="#68a0c5"/>
<path d="M189.9,382.4v-1.5h1v-1h1v0.5h1v-2.5h2v-2.5h1v1.5h3v-1.5h1v0.5h1v1h1v-1.5h1v-0.5h1v0.5h1v-2.5h1v2h1v0.5h2v2h1v-1.5h1v-2h1v2h1v-1.5h1v-2.5h1v3h1v1h1v-2h1v1.5h1v0.5h1v0.5h1v-2h1v2h2v0.5h1v0.5h1v0.5h1v-1.5h2v2h1v1.5h1v1h1v-1h1v0.5h1v-0.5h2v0.5h1v-1.5h1v0.5h1v0.5h1v-0.5h1v-1.5h1v2h1v-1.5h1v2h1v-0.5h1v1h2v0.5h1v-0.5h1v1h1v-1.5h1v-0.5h1v0.5h1v0.5h2v1.5h11v-0.5h2v-1h2v-1.5h1v1h1v-2h1v-1h1v0.5h1v-0.5h1v-0.5h1v1h1v-2.5h1v-0.5h1v-1.5h1v-1.5h1v-0.5h1v2h2v1.5h1v1h1v1.5h1v-1.5h1v0.5h2v0.5h2v0.5h1v-0.5h1v0.5h1v2.5h3v0.5h2v-0.5h1v-1.5h1v1h1v-0.5h3v2.5h1v1h9v-1h1v0.5h1v-2.5h1v0.5h1v-1.5h1v0.5h2v0.5h1v2h1v1h97v-2h1v-4h1v-1.5h1v-2.5h1v-2h1v-2.5h1v1h1v1h1v-3.5h1v-0.5h1v-3.5h1v2h1v-6.5h3v2h1v-0.5h1v-1.5h73v7h1v-4h1v-3h4v3h1v-1.5h1v5.5h1v-4h1v0.5h1v-1.5h1v-1.5h1v2h1v-2.5h6v2.5h1v-1.5h1v4h1v-5h3v1.5h1v-1.5h8v6.5h1v-4h1v4.5h1v2h1v3h1v-0.5h1v2h1v5h1v1.5h1v3h1v0.5h1v1h96v-1h1v0.5h1v0.5h1v-1h1v-0.5h1v1.5h1v-0.5h2v-2h1v1h1v-0.5h1v-0.5h3v0.5h1v-1h1v-1h1v1h1v-1.5h1v-1h1v-3.5h1v-1h1v-2.5h1v-1.5h1v-1h1v-1.5h1v-0.5h2v-1h1v5h1v-4.5h2v3.5h1v-4h1v4h1v-4h1v-1.5h1v-3h1v3h1v-1h1v-1h1v-3h31v2h1v-2h2v0.5h1v1.5h1v-1.5h1v2.5h1v0.5h1v1h1v-1h1v4h2v2h1v-0.5h1v-1.5h1v2.5h1v-1h2v0.5h1v2.5h1v-2h1v-0.5h1v-0.5h1v-1.5h1v-5h2v-0.5h1v-1.5h1v-0.5h1v3.5h1v-3.5h10v1.5h1v-1.5h5v1.5h1v-1.5h16v1.5h1v-0.5h1v1h1v-2h1v1h1v-1h3v1h2v-1h11v2.5h1v-2.5h2v3.5h1v-3.5h8v1h1v3h1v-4h8v2h1v-1.5h1v2h1v0.5h1v4.5h1v-5h1v1.5h2v0.5h1v-0.5h1v-0.5h1v0.5h1v1.5h1v-2h1v3.5h2v1.5h1v1h1v0.5h1v-0.5h1v-0.5h1v2.5h1v-1h1v6.5h1v1h1v1h1v-0.5h2v-2.5h1v1h1v-2.5h1v1h1v-1.5h1v0.5h1v0.5h1v3h1v1h1v-0.5h1v1h1v0.5h1v-1h1v1h1v-0.5h1v0.5h1v1h1v-1h1v1h1v1h2v2h1v-0.5h1v-1h1v1.5h1v-1.5h1v0.5h1v-2h1v2.5h1v0.5h1v0.5h97v-3.5h1v-1.5h1v-2.5h2v-2h1v2h2v1h1v-3.5h1v3.5h0V382.4Z" fill="#fbc5a9"/>
<path d="M189.9,382.4h68v-1.5h1v1h1v-0.5h1v0.5h1v-0.5h2v1h48v-0.5h1v-1h1v0.5h1v-0.5h1v0.5h1v1h11v-2h1v-1h1v-1.5h1v-1.5h1v-0.5h1v0.5h1v-3.5h1v2h1v2h1v-0.5h1v1h1v-1h1v-1h1v0.5h2v1h1v-1.5h2v-2h1v-0.5h1v1.5h1v-0.5h1v-2h1v-2h1v1h1v-2h1v-2.5h1v-3.5h1v3h1v-2.5h1v-5.5h17v3.5h1v-3.5h1v1.5h1v-1h1v5h1v-3.5h2v2.5h1v1h1v-1.5h1v4h1v-0.5h1v1h1v-0.5h1v5.5h1v-2h1v-1h1v-0.5h1v0.5h1v1.5h1v-4.5h1v0.5h1v2.5h1v2.5h1v-3h1v1h1v3.5h2v3h1v-2h1v1h1v-1.5h1v1.5h1v-0.5h1v-1h1v3h1v-2.5h1v1h1v-0.5h1v-0.5h1v-0.5h1v0.5h1v2h1v1h1v0.5h2v1.5h1v2.5h1v1.5h138v-1.5h1v0.5h1v-2h1v0.5h1v1h1v-3h1v-0.5h1v-1h1v0.5h1v-1h1v-1h1v-1.5h1v-1h1v1.5h1v2.5h1v-2h2v1.5h1v0.5h1v0.5h1v-2h1v2h1v-3h1v-1h1v1.5h2v-1h2v-0.5h1v-1.5h1v0.5h1v1h2v1h2v-0.5h1v1.5h1v0.5h1v-3.5h1v1h1v-1.5h3v-1.5h1v2.5h1v-1h1v1.5h1v-2h1v-2h1v4.5h1v-2h1v0.5h1v-0.5h1v0.5h1v2h2v0.5h1v-0.5h1v-1h2v-1.5h1v2.5h1v-2h1v-1h1v1h1v1h1v3h1v-1h1v-0.5h1v0.5h1v1.5h1v-0.5h1v-1h1v1h2v-0.5h1v-1h1v2h1v-1.5h1v2.5h1v1h1v-1h1v-0.5h2v1.5h1v-1h1v1.5h2v0.5h1v1h2v1h1v-0.5h1v1.5h242v-1h1v1h1v-0.5h1v-2h1v1h2v-0.5h1v-1.5h3v1.5h3v-1h1v-0.5h1v-0.5h1v-1h1v1.5h1v-2h1v1h1v-2h1v-0.5h3v-1.5h2v1.5h1v1h1v1h1v-1h2v-1.5h2v-1h1v-0.5h1v2h1v-3h2v1.5h1v-2h1v-0.5h1v-1.5h1v-0.5h1v1.5h1v-1h1v-0.5h1v1h2v-0.5h1v1.5h1v-3h1v2h4v3.5h1v-0.5h1v-1h1v-0.5h1v-0.5h2v1.5h3v-0.5h1v-0.5h2v-1h1v-1.5h1v-1h1v1.5h1v2h1v-1h2v3.5h2v-1.5h1v1h1v2h1v-2h1v4.5h1v-1h1v2.5h1v-1h1v0.5h1v1h2v0.5h1v-1.5h1v0.5h1v1.5h1v-1h1v2h10V382.4Z" fill="#c5dde9"/>
<path d="M189.9,357.79999999999995h246v-3h1v2h1v-2h1v3h2v-3.5h1v-2.5h1v1.5h1v-6.5h1v-1.5h2v4h1v2h1v-4h1v3.5h1v-7h1v-4.5h1v7.5h1v1.5h1v-1.5h1v2h1v-3h1v-1.5h1v-0.5h1v3h1v-3h2v4.5h1v-5h1v2.5h1v1h1v-3h2v2.5h1v-1.5h1v-2.5h1v5h1v-8.5h1v5.5h1v1.5h1v-3.5h1v-2.5h1v10h1v-11h1v10h1v-3h1v6h1v-5h1v-3.5h1v8.5h1v-3.5h1v-2h1v-5h1v4.5h1v-1h1v2.5h1v-4h1v2h1v-0.5h1v-2.5h1v-1.5h1v-4.5h1v5.5h1v4.5h1v-5h2v1h1v4h1v5.5h1v3h1v-7.5h1v-1.5h1v5h1v1h1v4.5h1v1h2v0.5h3v-3.5h1v1.5h1v2h10v-1.5h1v1h1v-0.5h1v-6.5h1v5h1v1h1v1.5h3v-5.5h1v2.5h1v-0.5h1v3.5h1v-7.5h1v2h1v-4.5h2v4.5h1v4.5h1v-3h1v2h1v2h148v-3.5h1v-6.5h1v-0.5h1v-3.5h1v1h1v-0.5h1v1h1v1h1v-0.5h1v5h1v-4h1v4.5h1v-2.5h1v3h1v2.5h1v-1h1v-1h1v4.5h1v-10h1v1.5h1v-2h1v-7h1v6h1v-3h1v-2h2v2.5h1v2h1v0.5h1v3.5h1v1.5h1v7.5h1v-1.5h1v-0.5h1v2h25v-2.5h1v2.5h1v-1h1v-1h3v-2.5h1v3.5h1v-3h1v-4.5h1v4h1v2.5h1v2h1v-3h1v3h1v-1.5h1v-0.5h1v-3.5h1v5.5h1v-2.5h1v0.5h1v-2h1v-1h1v2.5h1v-4h1v1h2v-3.5h1v6h1v-2h1v-2h1v5h1v1h1v0.5h1v-1.5h1v2h3v-6h1v6h1v-1h1v-1.5h1v1h1v1.5h3v-1.5h2v-3h1v-0.5h1v2h1v-0.5h2v-0.5h1v3h1v0.5h1v0.5h1v-5h1v2h1v3h1v-1.5h1v0.5h1v-5.5h1v6.5h1v-2.5h1v-2h1v3.5h1v-4h1v5h2v-4.5h1v1h1v-2h1v5h1v-0.5h1v-1h1v2h1v-0.5h1v0.5h164V357.79999999999995Z" fill="#e85a3d"/>
<path d="M189.9,357.79999999999995h168v-1.5h1v-2.5h1v-5h2v-2h1v1h1v2.5h1v1h1v-6.5h1v-9h1v10.5h1v-4h1v2.5h1v-4.5h2v10.5h1v1.5h1v5.5h623V357.79999999999995Z" fill="#5f97bf"/>
<path d="M189.9,484v-1.5h1v-1h1v0.5h1v-2.5h2v-2.5h1v1.5h2v0.5h1v-2h1v0.5h1v1h1v-1.5h3v-2h1v1.5h1v0.5h2v2h1v-1h1v-2h1v1.5h1v-1.5h1v-2h1v3h1v0.5h1v-2h1v1.5h1v1h2v-2h1v2h2v0.5h1v0.5h1v0.5h1v-1.5h1v0.5h1v1.5h1v1.5h1v1.5h1v-1.5h1v0.5h1v-0.5h2v0.5h1v-1.5h1v0.5h1v0.5h1v-0.5h1v-1h1v1.5h1v-1h1v1.5h1v-0.5h1v1h2v0.5h1v-0.5h1v1h1v-1.5h1v-0.5h1v0.5h1v0.5h2v1.5h11v-0.5h2v-1h2v-1.5h1v1h1v-2h1v-1h1v0.5h1v-0.5h1v-0.5h1v1h1v-2h1v-1h1v-1.5h1v-1.5h1v-0.5h1v2h2v2h1v0.5h1v1.5h1v-1.5h1v0.5h2v0.5h2v0.5h1v-0.5h1v0.5h1v2.5h1v0.5h1v-0.5h1v0.5h2v-0.5h1v-1.5h1v1.5h1v-1h1v0.5h1v-0.5h1v2.5h1v1h9v-1h1v0.5h1v-2.5h1v0.5h1v-1h2v0.5h2v2h1v1h97v-2h1v-4h1v-1h1v-3h1v-1.5h1v-2.5h1v0.5h1v1h1v-3h1v-0.5h1v-3.5h1v2h1v-6.5h3v2h2v-2h73v7h1v-4h1v-3h2v0.5h1v-0.5h1v3h1v-1.5h1v5.5h1v-4h1v0.5h1v-1.5h1v-1.5h1v2h1v-2.5h6v2.5h1v-1.5h1v4h1v-5h3v1.5h1v-1.5h8v6.5h1v-4h1v4.5h1v1.5h1v3h2v1.5h1v5h1v1.5h1v3h1v0.5h1v1h96v-1h1v0.5h1v0.5h1v-1h1v-0.5h1v1.5h1v-0.5h2v-2h1v1h1v-0.5h1v-0.5h3v0.5h1v-1h1v-1h1v1h1v-1.5h1v-1h1v-3h1v-1h1v-3h1v-1h1v-1h1v-2h3v-1h1v5h1v-4.5h2v3h1v-3.5h1v4h1v-4h1v-1.5h1v-3h1v3h1v-1h1v-1h1v-3h31v2h1v-2h2v1h1v1h1v-1.5h1v2.5h1v0.5h1v1h1v-1h1v4h2v2h1v-0.5h1v-1.5h1v2.5h1v-1.5h2v1h1v2.5h1v-2h1v-0.5h1v-0.5h1v-1.5h1v-5h2v-0.5h1v-1.5h1v-0.5h1v3.5h1v-3.5h10v1.5h1v-1.5h5v1.5h1v-1.5h16v1.5h1v-0.5h1v1h1v-2h1v1h1v-1h3v1h2v-1h11v2.5h1v-2.5h2v3.5h1v-3.5h8v1.5h1v2.5h1v-4h6v0.5h1v-0.5h1v2h1v-1.5h1v2h1v0.5h1v4.5h1v-5h1v1.5h2v0.5h1v-0.5h1v-0.5h1v0.5h1v1.5h1v-2h1v3.5h2v1h1v1h1v0.5h2v-0.5h1v2.5h1v-1.5h1v7h1v0.5h1v1h1v-0.5h1v0.5h1v-2.5h1v0.5h1v-2.5h1v1.5h1v-2h1v1h1v0.5h1v3h1v0.5h1v-0.5h1v1h1v0.5h1v-1h1v1h1v-0.5h1v0.5h1v1h1v-1h1v1h1v1h2v2h1v-0.5h1v-1h1v1.5h1v-1.5h1v0.5h1v-2h1v2.5h1v0.5h1v0.5h97v-3.5h1v-1.5h1v-2h1v-0.5h1v-1.5h1v1.5h2v1h1v-3.5h1v4h0V484Z" fill="#fbc5a9"/>
<path d="M189.9,484h68v-1.5h1v1h1v-0.5h1v0.5h1v-0.5h2v1h48v-0.5h1v-1h1v0.5h1v-0.5h1v0.5h1v1h11v-2h1v-1h1v-1.5h1v-1h1v-0.5h2v-3h1v1.5h1v2h1v-0.5h1v1h1v-1h1v-1h1v0.5h1v0.5h1v0.5h1v-1.5h2v-1.5h1v-0.5h1v1.5h1v-0.5h1v-2.5h1v-1.5h1v0.5h1v-2h1v-2h1v-3.5h1v3h1v-2.5h1v-5.5h17v3.5h1v-3.5h1v1.5h1v-1h1v5h1v-3.5h2v2.5h1v1h1v-1.5h1v4h1v-0.5h1v1h1v-0.5h1v5.5h1v-2h1v-1.5h1v-0.5h1v1h1v1.5h1v-4.5h1v0.5h1v2.5h1v2h1v-2.5h1v1h1v3h1v0.5h1v2.5h1v-1.5h1v1h1v-1.5h1v1h1v-0.5h1v-1h1v3.5h1v-2.5h1v0.5h2v-1h3v2h1v1h1v0.5h2v1.5h1v2.5h1v1.5h138v-1.5h1v0.5h1v-2h1v0.5h1v1h1v-3h2v-1.5h1v0.5h1v-1h1v-1h1v-1h1v-1h1v1h1v2.5h1v-2h2v1.5h1v1h2v-2h1v2h1v-2.5h1v-1h1v1h1v0.5h1v-1h1v-0.5h1v-0.5h1v-1h2v1h1v0.5h1v0.5h3v1.5h1v0.5h1v-4h1v1.5h1v-2h3v-1h1v2.5h1v-1h1v1h1v-1.5h1v-2h1v4.5h1v-2h1v0.5h1v-1h1v1h1v1.5h2v0.5h2v-1.5h2v-1h1v2.5h1v-2h1v-1.5h1v1.5h1v0.5h1v3h1v-1h1v-0.5h1v0.5h1v1.5h1v-0.5h1v-1h1v1.5h1v-0.5h1v-0.5h1v-1h1v2h1v-1h1v2h1v1h1v-1h1v-0.5h1v0.5h1v1h1v-1h1v1.5h2v0.5h1v1h2v1.5h1v-1h1v1.5h242v-1h1v1h1v-0.5h1v-2h1v1h2v-0.5h1v-1.5h2v0.5h1v1h3v-1h1v-0.5h1v-0.5h1v-0.5h1v1h1v-2h1v1h1v-1.5h1v-1h3v-1h1v-0.5h1v1.5h1v1h1v1h1v-1h1v0.5h1v-2h2v-1h1v-0.5h1v2h1v-2.5h1v-0.5h1v1.5h1v-1.5h1v-0.5h1v-1.5h1v-0.5h1v1h1v-0.5h1v-0.5h1v0.5h1v0.5h1v-0.5h1v1.5h1v-3h1v1.5h2v0.5h2v3h1v-0.5h1v-1h1v-0.5h3v1h2v0.5h1v-1h2v-0.5h1v-0.5h1v-1.5h1v-1h1v1h1v2.5h1v-1h2v3h2v-1h1v1h1v1.5h1v-1.5h1v4h1v-1h1v2.5h1v-1h1v1h1v0.5h2v0.5h1v-1h2v1.5h1v-1h1v2h10V484Z" fill="#c5dde9"/>
<path d="M189.9,484h246v-3h1v2h1v-2h1v3h2v-3.5h1v-2h1v1h1v-6.5h1v-1h1v-0.5h1v4h1v2h1v-3.5h1v3h1v-6.5h1v-5h1v7.5h1v2h1v-2h1v2h1v-2.5h1v-1.5h1v-0.5h1v3h1v-3.5h1v0.5h1v4.5h1v-5h1v2.5h1v1h1v-3h1v-0.5h1v3h1v-1.5h1v-3h1v5h1v-8h1v5.5h1v1h1v-3h1v-2.5h1v9.5h1v-10.5h1v9.5h1v-2.5h1v5.5h1v-4.5h1v-3.5h1v8.5h1v-4h1v-1.5h1v-5h1v4.5h1v-1h1v2h1v-3.5h1v1.5h1v-0.5h1v-2h1v-1.5h1v-4.5h1v5h1v5h1v-5h2v0.5h1v4.5h1v5h1v3.5h1v-8h1v-1h1v4.5h1v1h1v4.5h1v1h2v0.5h3v-3.5h1v2h1v1.5h10v-1.5h1v1h1v-0.5h1v-6h1v4.5h1v1.5h1v1h3v-5.5h1v2.5h1v-0.5h1v3.5h1v-7h1v1.5h1v-4h1v-0.5h1v4.5h1v4.5h1v-3h1v2h1v2h148v-3.5h1v-6h1v-1h1v-3.5h1v1.5h1v-0.5h1v1h1v1h1v-0.5h1v4.5h1v-3.5h1v4h1v-2h1v2.5h1v2.5h1v-1h1v-1h1v4.5h1v-9.5h1v1.5h1v-2h1v-7h1v6h1v-3h1v-2h2v2.5h1v2h2v3.5h1v2h1v7h1v-1h1v-1h1v2h25v-2.5h1v2.5h1v-1h1v-1h3v-2.5h1v3.5h1v-3h1v-4h1v4h1v2h1v2h1v-3h1v3h1v-1.5h1v-0.5h1v-3.5h1v5.5h1v-2.5h1v0.5h1v-2h1v-1h1v3h1v-4.5h1v1h2v-3.5h1v6h1v-2h1v-1.5h1v4.5h1v1h1v0.5h1v-1h1v1.5h3v-5.5h1v5.5h1v-1h1v-1.5h1v1h1v1.5h3v-1.5h2v-3h1v-0.5h1v2h1v-0.5h2v-0.5h1v3h1v0.5h1v0.5h1v-5h1v2h1v3h1v-1.5h1v0.5h1v-5.5h1v6.5h1v-2.5h1v-2h1v3.5h1v-4h1v5h2v-4.5h1v1h1v-2h1v5h1v-0.5h1v-1h1v2h1v-0.5h1v0.5h164V484Z" fill="#e85a3d"/>
<path d="M189.9,484h168v-1.5h1v-2.5h1v-5h1v0.5h1v-2h1v1h1v2.5h1v0.5h1v-6h1v-8.5h1v10h1v-4h1v2h1v-4h2v10h1v1.5h1v5.5h623V484Z" fill="#5f97bf"/>
<defs><filter id="bl" x="-5%" y="-30%" width="110%" height="160%"><feGaussianBlur stdDeviation="2.2"/></filter><filter id="bl2" x="-5%" y="-10%" width="110%" height="120%"><feGaussianBlur stdDeviation="0.7"/></filter></defs>
<path d="M190,68.4L192,67.0L194,63.7L196,59.2L198,61.6L200,61.5L202,67.1L204,60.9L206,59.5L208,61.7L210,60.3L212,65.8L214,59.0L216,65.3L218,61.2L220,60.8L222,67.6L224,66.5L226,65.2L228,60.0L230,65.5L232,74.8L234,64.8L236,70.2L238,66.2L240,67.5L242,70.3L244,63.5L246,71.4L248,72.3L250,65.1L252,67.7L254,68.9L256,66.0L258,72.6L260,72.0L262,72.0L264,68.9L266,67.2L268,65.3L270,65.1L272,68.0L274,66.2L276,68.3L278,67.1L280,66.1L282,58.4L284,58.4L286,67.1L288,60.8L290,66.8L292,63.1L294,61.9L296,66.0L298,68.6L300,68.6L302,66.5L304,68.5L306,62.5L308,72.8L310,68.7L312,69.7L314,74.8L316,70.4L318,71.4L320,64.6L322,70.7L324,71.2L326,70.8L328,68.8L330,78.1L332,76.7L334,75.1L336,74.9L338,77.9L340,78.9L342,79.6L344,76.5L346,82.2L348,80.6L350,80.4L352,81.8L354,87.7L356,87.8L358,101.7L360,117.2L362,103.0L364,110.7L366,111.3L368,117.6L370,114.2L372,106.2L374,101.2L376,100.8L378,97.8L380,98.2L382,93.5L384,87.7L386,85.1L388,88.6L390,85.0L392,87.2L394,86.9L396,90.1L398,86.8L400,78.1L402,82.9L404,78.8L406,84.3L408,78.6L410,83.9L412,80.0L414,77.1L416,81.0L418,81.1L420,72.7L422,70.9L424,65.8L426,66.7L428,54.9L430,55.4L432,49.4L434,50.3L436,48.5L438,41.0L440,29.6L442,23.8L444,36.6L446,35.1L448,21.0L450,34.6L452,35.4L454,30.2L456,34.6L458,26.8L460,21.1L462,27.8L464,25.5L466,29.3L468,31.4L470,31.3L472,24.0L474,28.7L476,29.2L478,38.5L480,26.0L482,29.4L484,18.4L486,26.5L488,27.1L490,33.0L492,24.7L494,28.9L496,23.2L498,19.2L500,32.5L502,26.9L504,24.9L506,31.4L508,30.2L510,47.9L512,66.5L514,79.6L516,70.1L518,56.3L520,43.2L522,42.9L524,43.8L526,46.3L528,41.4L530,43.1L532,43.3L534,40.5L536,45.6L538,41.5L540,33.9L542,35.7L544,29.1L546,33.3L548,34.9L550,51.8L552,52.7L554,55.5L556,63.8L558,65.9L560,71.3L562,72.2L564,73.7L566,72.7L568,77.8L570,76.4L572,78.9L574,76.9L576,80.1L578,79.0L580,74.0L582,81.2L584,81.7L586,80.9L588,81.7L590,80.1L592,82.2L594,81.7L596,83.4L598,80.0L600,82.9L602,86.1L604,88.2L606,85.6L608,84.8L610,82.2L612,86.8L614,86.5L616,79.3L618,77.4L620,80.4L622,85.1L624,80.6L626,85.6L628,81.5L630,79.1L632,80.9L634,80.3L636,76.8L638,81.7L640,80.4L642,76.8L644,78.7L646,74.6L648,77.0L650,70.1L652,69.4L654,68.4L656,68.4L658,66.5L660,71.7L662,70.0L664,69.5L666,68.1L668,70.0L670,62.6L672,64.2L674,64.8L676,61.3L678,55.5L680,54.2L682,51.7L684,51.3L686,47.0L688,57.6L690,53.0L692,49.9L694,46.9L696,40.9L698,31.3L700,25.1L702,18.5L704,29.6L706,27.1L708,33.5L710,39.5L712,42.0L714,34.3L716,28.9L718,23.3L720,24.6L722,22.2L724,24.5L726,31.8L728,39.5L730,44.1L732,42.3L734,45.7L736,47.5L738,48.4L740,52.1L742,57.2L744,50.9L746,64.8L748,65.7L750,60.0L752,48.8L754,40.7L756,46.2L758,36.9L760,46.9L762,35.7L764,35.0L766,30.6L768,39.8L770,35.1L772,46.1L774,37.2L776,39.4L778,40.2L780,42.3L782,36.2L784,33.2L786,39.8L788,39.6L790,42.1L792,47.2L794,46.8L796,42.9L798,40.0L800,40.6L802,37.7L804,40.7L806,39.8L808,43.5L810,41.0L812,40.8L814,33.0L816,39.7L818,47.5L820,34.9L822,40.1L824,35.7L826,34.7L828,42.3L830,46.2L832,41.7L834,48.2L836,42.6L838,42.7L840,42.7L842,46.7L844,44.9L846,42.8L848,53.4L850,54.4L852,53.0L854,54.0L856,66.5L858,75.3L860,65.5L862,58.9L864,62.1L866,58.6L868,56.6L870,64.3L872,62.2L874,67.6L876,63.3L878,63.3L880,63.5L882,65.5L884,73.7L886,67.7L888,69.4L890,66.8L892,68.2L894,70.6L896,71.5L898,74.0L900,70.3L902,76.8L904,72.7L906,74.5L908,76.3L910,73.4L912,81.0L914,79.3L916,75.3L918,83.5L920,83.7L922,76.0L924,76.0L926,73.0L928,81.0L930,83.3L932,80.6L934,77.9L936,86.0L938,84.9L940,84.6L942,89.1L944,81.8L946,87.6L948,86.7L950,82.1L952,77.4L954,80.1L956,82.5L958,85.3L960,84.6L962,82.7L964,81.4L966,83.2L968,84.5L970,82.9L972,83.6L974,75.5L976,80.3L978,72.6L980,73.1L982,77.0L984,71.5L986,75.2L988,76.6L990,66.0L992,59.4L994,55.5L996,60.3L998,64.9L998,112.3L996,110.0L994,111.2L992,105.5L990,117.4L988,121.0L986,119.1L984,124.0L982,120.8L980,125.4L978,125.8L976,125.5L974,129.0L972,131.7L970,128.9L968,129.0L966,133.5L964,135.2L962,129.1L960,135.4L958,131.8L956,134.3L954,130.9L952,133.5L950,132.2L948,138.7L946,132.3L944,134.8L942,132.4L940,132.7L938,141.5L936,135.8L934,129.4L932,127.8L930,132.3L928,125.6L926,128.6L924,129.6L922,127.1L920,127.1L918,127.1L916,123.5L914,123.4L912,124.1L910,125.3L908,121.3L906,123.2L904,124.3L902,121.6L900,126.6L898,120.9L896,116.0L894,123.8L892,125.0L890,119.0L888,115.1L886,122.9L884,116.9L882,118.5L880,121.0L878,120.5L876,116.6L874,110.5L872,114.6L870,118.7L868,111.4L866,104.6L864,105.6L862,113.5L860,116.7L858,120.1L856,114.0L854,104.0L852,103.8L850,104.1L848,98.0L846,98.9L844,99.1L842,93.5L840,91.7L838,95.6L836,97.7L834,91.7L832,96.6L830,93.1L828,87.7L826,90.0L824,84.1L822,88.4L820,91.1L818,97.3L816,91.7L814,86.1L812,91.9L810,89.9L808,97.6L806,82.5L804,91.4L802,93.6L800,96.8L798,89.4L796,89.2L794,89.8L792,98.5L790,95.8L788,87.6L786,89.2L784,83.6L782,83.2L780,89.8L778,90.7L776,86.4L774,91.1L772,90.4L770,88.7L768,91.4L766,82.8L764,84.7L762,87.4L760,93.8L758,94.2L756,91.0L754,87.2L752,95.0L750,114.3L748,122.2L746,111.4L744,101.4L742,99.9L740,107.0L738,102.7L736,94.4L734,94.8L732,94.1L730,88.4L728,89.2L726,78.6L724,74.4L722,79.4L720,71.9L718,72.1L716,78.9L714,91.5L712,88.4L710,91.0L708,89.7L706,84.0L704,77.8L702,75.6L700,71.9L698,77.2L696,89.8L694,95.0L692,105.8L690,105.0L688,102.3L686,98.8L684,102.3L682,95.8L680,96.7L678,111.4L676,109.1L674,116.5L672,121.2L670,119.5L668,121.0L666,119.5L664,114.1L662,118.0L660,123.9L658,121.1L656,117.2L654,123.2L652,126.3L650,121.3L648,124.6L646,125.3L644,122.7L642,128.5L640,123.4L638,129.8L636,131.8L634,124.6L632,129.6L630,125.8L628,130.1L626,128.1L624,136.6L622,131.1L620,131.8L618,129.1L616,127.5L614,135.9L612,129.8L610,127.6L608,130.0L606,132.9L604,132.7L602,129.4L600,128.8L598,129.6L596,126.5L594,133.6L592,135.0L590,125.9L588,134.0L586,130.0L584,126.6L582,124.1L580,127.3L578,131.0L576,134.2L574,128.8L572,127.7L570,128.9L568,129.0L566,126.9L564,118.7L562,125.7L560,124.6L558,118.7L556,113.4L554,112.0L552,107.7L550,96.8L548,85.4L546,83.5L544,86.0L542,92.8L540,86.7L538,97.1L536,100.8L534,88.2L532,98.2L530,96.7L528,93.6L526,94.0L524,98.3L522,95.1L520,97.9L518,105.7L516,122.7L514,125.9L512,117.2L510,90.6L508,81.4L506,83.6L504,81.6L502,73.8L500,85.4L498,73.2L496,73.0L494,75.6L492,77.7L490,80.9L488,81.0L486,79.0L484,71.4L482,83.6L480,80.3L478,86.5L476,84.7L474,83.0L472,70.6L470,75.2L468,79.0L466,79.3L464,77.5L462,84.7L460,78.4L458,75.0L456,79.3L454,78.8L452,82.2L450,84.3L448,74.4L446,84.9L444,85.9L442,80.9L440,84.9L438,98.5L436,97.8L434,97.2L432,104.5L430,100.1L428,103.9L426,110.8L424,120.1L422,122.8L420,129.4L418,134.5L416,125.4L414,132.2L412,129.9L410,126.9L408,134.8L406,127.6L404,127.7L402,132.2L400,133.0L398,138.2L396,136.2L394,135.5L392,137.7L390,142.3L388,131.8L386,130.0L384,145.1L382,146.4L380,142.9L378,141.5L376,146.0L374,148.5L372,153.3L370,164.9L368,174.0L366,158.9L364,167.0L362,154.7L360,164.8L358,145.6L356,144.5L354,130.7L352,137.2L350,134.9L348,134.4L346,126.3L344,130.6L342,130.0L340,126.7L338,125.6L336,131.5L334,131.6L332,130.5L330,123.6L328,125.7L326,116.0L324,114.4L322,113.3L320,115.8L318,119.4L316,124.7L314,117.6L312,124.8L310,122.4L308,115.7L306,119.6L304,111.9L302,119.6L300,118.4L298,115.8L296,115.7L294,116.7L292,110.2L290,114.4L288,113.5L286,109.6L284,110.0L282,105.5L280,109.6L278,111.8L276,113.3L274,114.1L272,115.0L270,121.1L268,122.3L266,120.1L264,125.5L262,117.5L260,124.7L258,123.2L256,122.9L254,115.8L252,123.3L250,122.3L248,118.0L246,117.0L244,119.1L242,112.9L240,111.9L238,117.9L236,114.8L234,119.3L232,119.7L230,119.5L228,116.3L226,111.9L224,112.3L222,110.3L220,111.9L218,111.9L216,111.5L214,108.5L212,110.0L210,116.3L208,114.0L206,116.1L204,110.4L202,110.1L200,117.8L198,115.2L196,115.9L194,118.1L192,120.7L190,120.3Z" fill="#111" fill-opacity="0.3" filter="url(#bl)"/>
<path d="M190,75.8L192,79.3L194,72.8L196,72.8L198,73.2L200,70.3L202,70.7L204,70.1L206,72.8L208,68.5L210,70.5L212,69.3L214,68.6L216,70.7L218,70.3L220,70.7L222,72.8L224,71.8L226,72.3L228,71.7L230,77.4L232,78.6L234,74.3L236,74.0L238,75.4L240,70.9L242,74.5L244,73.8L246,76.8L248,76.9L250,77.3L252,80.6L254,77.8L256,78.9L258,83.2L260,79.4L262,77.8L264,78.8L266,79.2L268,77.0L270,74.1L272,73.9L274,73.5L276,74.0L278,74.5L280,72.6L282,66.7L284,67.8L286,71.9L288,68.2L290,75.4L292,70.9L294,73.4L296,75.6L298,76.3L300,77.9L302,76.2L304,75.6L306,71.9L308,77.9L310,76.3L312,79.3L314,78.3L316,80.7L318,76.2L320,75.2L322,74.1L324,76.8L326,75.5L328,79.1L330,85.6L332,88.1L334,88.8L336,87.6L338,86.9L340,86.3L342,85.4L344,87.2L346,88.2L348,90.7L350,91.7L352,91.3L354,91.1L356,100.9L358,108.0L360,123.1L362,109.6L364,121.1L366,118.4L368,126.4L370,125.1L372,115.0L374,106.4L376,106.9L378,105.0L380,103.3L382,100.5L384,99.3L386,91.3L388,95.2L390,98.8L392,93.4L394,94.2L396,93.9L398,97.8L400,89.9L402,92.8L404,86.8L406,91.2L408,91.0L410,88.8L412,88.9L414,90.0L416,88.6L418,88.4L420,85.7L422,79.8L424,76.5L426,71.6L428,64.5L430,61.7L432,61.9L434,56.5L436,54.0L438,52.2L440,38.5L442,36.8L444,46.7L446,42.8L448,30.7L450,42.0L452,42.4L454,36.9L456,38.8L458,31.8L460,33.7L462,39.5L464,32.8L466,38.7L468,40.2L470,37.2L472,32.4L474,37.5L476,38.3L478,46.5L480,38.0L482,41.6L484,29.2L486,37.9L488,37.4L490,39.6L492,35.5L494,37.4L496,30.1L498,31.5L500,43.5L502,34.4L504,36.9L506,42.6L508,39.2L510,53.2L512,73.6L514,85.5L516,77.4L518,63.2L520,52.2L522,51.6L524,54.4L526,51.6L528,49.7L530,50.6L532,52.6L534,46.3L536,57.4L538,50.7L540,43.9L542,49.1L544,42.8L546,43.1L548,44.3L550,56.4L552,64.3L554,69.0L556,70.2L558,75.0L560,83.4L562,84.2L564,81.1L566,83.6L568,84.6L570,83.4L572,85.7L574,87.2L576,90.5L578,88.7L580,84.5L582,88.2L584,86.7L586,86.8L588,89.7L590,88.1L592,91.5L594,92.3L596,86.9L598,88.1L600,86.6L602,89.2L604,95.4L606,93.2L608,88.3L610,88.1L612,91.6L614,94.5L616,85.0L618,84.1L620,89.0L622,88.7L624,91.1L626,91.8L628,87.2L630,85.9L632,90.5L634,83.0L636,89.7L638,88.3L640,85.0L642,83.7L644,84.2L646,84.4L648,84.9L650,80.2L652,80.5L654,79.5L656,74.6L658,78.1L660,81.5L662,78.3L664,72.4L666,75.1L668,76.7L670,73.5L672,76.2L674,75.5L676,66.5L678,66.5L680,60.8L682,58.4L684,61.9L686,54.8L688,60.9L690,63.5L692,59.3L694,54.8L696,47.4L698,35.4L700,30.9L702,28.5L704,37.3L706,41.0L708,44.6L710,47.8L712,49.8L714,46.5L716,37.8L718,33.1L720,32.2L722,34.4L724,32.6L726,37.2L728,47.8L730,46.8L732,49.6L734,51.1L736,52.9L738,57.7L740,62.3L742,60.1L744,59.8L746,70.6L748,76.0L750,70.0L752,56.0L754,49.1L756,53.7L758,49.3L760,52.9L762,43.2L764,41.8L766,40.7L768,46.4L770,46.1L772,50.1L774,49.3L776,44.6L778,47.6L780,46.7L782,40.7L784,40.5L786,45.8L788,45.4L790,51.4L792,57.4L794,51.2L796,47.0L798,49.0L800,49.3L802,48.4L804,49.6L806,46.7L808,54.1L810,50.1L812,48.6L814,40.5L816,46.6L818,54.8L820,46.6L822,49.2L824,42.0L826,45.1L828,46.9L830,53.3L832,50.2L834,54.4L836,54.1L838,53.3L840,49.5L842,51.0L844,56.7L846,53.2L848,57.3L850,63.7L852,63.6L854,61.6L856,71.6L858,78.8L860,72.9L862,69.6L864,67.2L866,64.5L868,64.9L870,75.5L872,72.5L874,71.5L876,70.6L878,76.5L880,77.6L882,76.9L884,78.0L886,77.8L888,76.9L890,77.5L892,79.2L894,79.5L896,75.8L898,79.3L900,83.7L902,82.3L904,79.8L906,79.5L908,82.7L910,80.6L912,84.8L914,82.2L916,83.8L918,87.3L920,86.7L922,84.7L924,87.8L926,85.4L928,88.1L930,92.8L932,89.0L934,86.0L936,95.9L938,94.9L940,90.4L942,92.1L944,89.8L946,91.9L948,93.6L950,87.8L952,87.8L954,86.2L956,93.4L958,93.6L960,95.2L962,90.4L964,91.9L966,91.6L968,88.8L970,87.7L972,92.8L974,85.7L976,85.7L978,82.8L980,84.2L982,81.4L984,81.4L986,79.2L988,81.8L990,72.3L992,63.2L994,68.5L996,66.9L998,70.5L998,106.7L996,103.5L994,98.1L992,101.7L990,111.0L988,115.8L986,115.1L984,114.1L982,116.4L980,114.3L978,115.6L976,120.1L974,118.7L972,122.5L970,124.2L968,124.7L966,125.2L964,124.7L962,121.4L960,124.8L958,123.5L956,123.4L954,124.9L952,123.1L950,126.5L948,131.9L946,128.0L944,126.9L942,129.3L940,126.8L938,131.5L936,125.9L934,121.2L932,119.5L930,122.7L928,118.6L926,116.2L924,117.8L922,118.5L920,124.1L918,123.3L916,115.0L914,120.5L912,120.3L910,118.2L908,114.9L906,118.2L904,117.2L902,116.1L900,113.2L898,115.6L896,111.7L894,115.0L892,114.1L890,108.3L888,107.6L886,112.8L884,112.6L882,107.0L880,106.9L878,107.3L876,109.3L874,106.6L872,104.3L870,107.5L868,103.1L866,98.8L864,100.5L862,102.8L860,109.3L858,116.7L856,109.0L854,96.3L852,93.2L850,94.9L848,94.0L846,88.5L844,87.3L842,89.1L840,84.8L838,84.9L836,86.1L834,85.5L832,88.1L830,86.0L828,83.1L826,79.6L824,77.9L822,79.2L820,79.4L818,90.0L816,84.8L814,78.6L812,84.1L810,80.8L808,87.0L806,75.6L804,82.5L802,82.9L800,88.1L798,80.4L796,85.0L794,85.4L792,88.4L790,86.5L788,81.8L786,83.2L784,76.4L782,78.8L780,85.4L778,83.3L776,81.2L774,79.0L772,86.3L770,77.8L768,84.8L766,72.7L764,77.9L762,79.9L760,87.7L758,81.8L756,83.5L754,78.8L752,87.8L750,104.3L748,111.8L746,105.5L744,92.4L742,97.1L740,96.7L738,93.4L736,88.9L734,89.4L732,86.8L730,85.7L728,80.8L726,73.3L724,66.3L722,67.2L720,64.3L718,62.3L716,70.0L714,79.4L712,80.6L710,82.7L708,78.7L706,70.0L704,70.1L702,65.6L700,66.1L698,73.1L696,83.3L694,87.0L692,96.3L690,94.5L688,99.0L686,91.0L684,91.8L682,89.0L680,90.1L678,100.4L676,103.9L674,105.8L672,109.2L670,108.7L668,114.3L666,112.5L664,111.3L662,109.7L660,114.0L658,109.5L656,111.1L654,112.1L652,115.1L650,111.2L648,116.6L646,115.5L644,117.1L642,121.6L640,118.8L638,123.1L636,118.9L634,121.9L632,119.9L630,119.1L628,124.4L626,121.8L624,126.1L622,127.5L620,123.3L618,122.5L616,121.8L614,127.9L612,125.0L610,121.7L608,126.5L606,125.3L604,125.5L602,126.2L600,125.1L598,121.5L596,123.0L594,123.0L592,125.8L590,118.0L588,126.0L586,124.2L584,121.5L582,117.2L580,116.8L578,121.3L576,123.8L574,118.5L572,120.9L570,122.0L568,122.2L566,116.1L564,111.3L562,113.7L560,112.6L558,109.6L556,106.9L554,98.5L552,96.1L550,92.2L548,75.9L546,73.7L544,72.3L542,79.4L540,76.7L538,87.9L536,89.0L534,82.4L532,88.9L530,89.2L528,85.3L526,88.8L524,87.8L522,86.4L520,88.9L518,98.8L516,115.5L514,120.1L512,110.2L510,85.3L508,72.4L506,72.5L504,69.6L502,66.2L500,74.4L498,60.9L496,66.1L494,67.0L492,66.9L490,74.3L488,70.7L486,67.6L484,60.6L482,71.4L480,68.3L478,78.6L476,75.6L474,74.3L472,62.2L470,69.3L468,70.2L466,69.9L464,70.2L462,73.0L460,65.7L458,70.0L456,75.1L454,72.2L452,75.2L450,76.8L448,64.6L446,77.2L444,75.8L442,67.9L440,76.1L438,87.2L436,92.3L434,90.9L432,91.9L430,93.8L428,94.3L426,105.9L424,109.5L422,113.9L420,116.4L418,127.2L416,117.8L414,119.4L412,120.9L410,121.9L408,122.5L406,120.7L404,119.7L402,122.2L400,121.3L398,127.2L396,132.4L394,128.1L392,131.4L390,128.4L388,125.1L386,123.7L384,133.5L382,139.5L380,137.8L378,134.3L376,140.0L374,143.3L372,144.5L370,154.0L368,165.2L366,151.7L364,156.6L362,148.1L360,158.8L358,139.3L356,131.5L354,127.3L352,127.7L350,123.5L348,124.3L346,120.3L344,119.8L342,124.2L340,119.3L338,116.6L336,118.8L334,117.9L332,119.1L330,116.1L328,115.4L326,111.3L324,108.7L322,109.9L320,105.3L318,114.7L316,114.4L314,114.1L312,115.2L310,114.8L308,110.6L306,110.2L304,104.8L302,110.0L300,109.2L298,108.1L296,106.1L294,105.2L292,102.4L290,105.8L288,106.1L286,104.8L284,100.6L282,97.2L280,103.1L278,104.4L276,107.6L274,106.7L272,109.1L270,112.1L268,110.7L266,108.1L264,115.5L262,111.7L260,117.3L258,112.5L256,109.9L254,107.0L252,110.4L250,110.2L248,113.4L246,111.6L244,108.8L242,108.7L240,108.5L238,108.7L236,111.1L234,109.8L232,116.0L230,107.7L228,104.5L226,104.8L224,107.0L222,105.1L220,102.0L218,102.8L216,106.0L214,98.9L212,106.5L210,106.2L208,107.3L206,102.8L204,101.2L202,106.5L200,109.0L198,103.6L196,102.3L194,109.0L192,108.5L190,112.9Z" fill="#111" fill-opacity="0.88" filter="url(#bl)"/>
<path d="M492 66h0M628 117h0M229 80h0M263 115h0M881 105h0M616 109h0M698 62h0M201 77h0M763 68h0M873 89h0M429 67h0M592 117h0M425 98h0M671 108h0M628 99h0M201 101h0M502 67h0M502 54h0M680 66h0M639 102h0M605 114h0M905 99h0M797 63h0M447 57h0M221 57h0M830 75h0M970 112h0M740 67h0M671 98h0M847 81h0M466 47h0M668 90h0M722 49h0M946 103h0M616 89h0M358 126h0M602 111h0M896 78h0M950 129h0M729 88h0M875 74h0M549 91h0M556 71h0M769 59h0M202 83h0M932 103h0M668 112h0M804 67h0M705 29h0M717 44h0M223 61h0M388 75h0M314 85h0M222 118h0M824 54h0M928 107h0M852 115h0M365 133h0M986 99h0M766 51h0M380 118h0M714 56h0M350 100h0M219 93h0M752 79h0M232 100h0M338 116h0M512 102h0M366 141h0M961 117h0M507 82h0M622 142h0M962 110h0M592 90h0M894 65h0M802 61h0M602 125h0M420 85h0M745 60h0M711 45h0M789 56h0M769 70h0M428 74h0M196 86h0M773 63h0M562 109h0M747 126h0M486 42h0M547 70h0M693 59h0M978 78h0M276 100h0M552 41h0M760 74h0M713 53h0M860 61h0M882 52h0M799 86h0M523 72h0M783 51h0M768 47h0M971 137h0M980 78h0M847 60h0M242 77h0M633 120h0M610 123h0M434 60h0M830 82h0M229 93h0M496 57h0M760 54h0M897 114h0M624 80h0M525 68h0M934 130h0M529 69h0M640 97h0M988 69h0M757 34h0M251 94h0M230 102h0M535 77h0M721 64h0M806 85h0M238 102h0M427 58h0M319 86h0M656 82h0M515 80h0M438 89h0M582 103h0M687 70h0M436 88h0M802 51h0M478 54h0M894 103h0M826 54h0M700 35h0M281 66h0M355 129h0M936 108h0M270 114h0M562 112h0M775 76h0M635 104h0M784 61h0M674 63h0M618 114h0M890 98h0M419 103h0M744 86h0M311 94h0M659 96h0M789 51h0M993 83h0M258 110h0M315 112h0M599 103h0M734 55h0M429 70h0M840 75h0M907 90h0M594 109h0M867 104h0M194 85h0M604 122h0M737 75h0M544 63h0M757 77h0M628 106h0M489 24h0M743 106h0M551 67h0M438 76h0M562 105h0M577 92h0M841 57h0M757 52h0M373 130h0M702 41h0M694 58h0M978 95h0M257 111h0M493 -1h0M311 87h0M560 104h0M664 116h0M871 102h0M799 54h0M200 90h0M696 67h0" stroke="#000" stroke-opacity=".14" stroke-width="5" stroke-linecap="round" filter="url(#bl2)"/>
<path d="M390 65h0M409 120h0M643 109h0M300 97h0M895 86h0M764 35h0M653 114h0M236 93h0M671 79h0M357 112h0M454 32h0M792 41h0M566 87h0M769 75h0M446 124h0M280 94h0M881 74h0M989 101h0M479 63h0M890 66h0M292 99h0M779 100h0M485 33h0M202 95h0M512 113h0M442 56h0M773 83h0M370 150h0M220 73h0M981 102h0M968 89h0M993 89h0M923 93h0M887 99h0M270 57h0M238 92h0M954 127h0M579 95h0M394 110h0M706 49h0M364 142h0M934 128h0M411 118h0M254 82h0M291 88h0M928 79h0M610 68h0M511 85h0M840 85h0M824 107h0M315 87h0M213 78h0M782 52h0M909 80h0M924 122h0M951 128h0M780 64h0M712 55h0M404 90h0M319 67h0M972 101h0M231 96h0M376 129h0M321 114h0M512 97h0M629 97h0M395 104h0M478 69h0M613 146h0M537 99h0M263 129h0M202 87h0M666 83h0M264 84h0M778 66h0M662 129h0M331 114h0M791 78h0M375 131h0M949 118h0M711 70h0M750 75h0M811 70h0M276 109h0M520 95h0M706 51h0M352 50h0M788 75h0M840 72h0M841 86h0M840 65h0M210 88h0M830 53h0M266 110h0M840 47h0M315 164h0M782 56h0M846 71h0M345 83h0M364 124h0M532 75h0M282 74h0M382 79h0M921 110h0M205 68h0M710 59h0M411 129h0M869 67h0M541 62h0M610 113h0M538 116h0M831 92h0M646 92h0M534 76h0M421 95h0M264 97h0M535 59h0M476 31h0M874 80h0M646 104h0M397 120h0M414 114h0M896 107h0M220 88h0M800 75h0M801 77h0M326 104h0M800 47h0M343 108h0M570 131h0M414 88h0M577 118h0M410 106h0M713 86h0M515 126h0M350 78h0M232 92h0M339 103h0M502 67h0M925 119h0M553 83h0M855 84h0M755 65h0M814 44h0M603 113h0M248 110h0M530 60h0M348 116h0M492 42h0M975 87h0M337 140h0M946 106h0M760 54h0M758 82h0M302 94h0M492 38h0M578 86h0M190 87h0M707 68h0M334 105h0M697 48h0M818 57h0M255 68h0M756 65h0M836 59h0M958 126h0M642 103h0M204 66h0M414 110h0M843 102h0M540 43h0M459 78h0M703 30h0M521 154h0M357 135h0M909 78h0M755 66h0M366 142h0M487 53h0M660 81h0M319 102h0M251 94h0M443 74h0M191 74h0M410 103h0M533 61h0M862 98h0M923 125h0M405 113h0M663 110h0M896 90h0M683 82h0" stroke="#000" stroke-opacity=".14" stroke-width="5" stroke-linecap="round" filter="url(#bl2)"/>
<path d="M487 25h0M908 97h0M902 113h0M560 92h0M353 98h0M525 24h0M506 50h0M528 94h0M535 76h0M863 75h0M277 110h0M802 73h0M833 60h0M371 117h0M271 88h0M743 99h0M869 82h0M463 84h0M387 118h0M579 71h0M607 51h0M561 100h0M267 98h0M259 71h0M396 105h0M353 89h0M447 40h0M589 87h0M951 95h0M627 122h0M472 52h0M714 57h0M343 91h0M555 76h0M456 56h0M644 108h0M319 90h0M440 26h0M429 91h0M236 78h0M625 153h0M843 66h0M561 113h0M322 107h0M215 87h0M737 86h0M720 39h0M792 94h0M712 51h0M577 85h0M928 114h0M687 55h0M649 115h0M380 119h0M345 90h0M448 40h0M334 112h0M653 99h0M997 98h0M823 47h0M455 68h0M371 128h0M266 91h0M381 153h0M812 70h0M430 75h0M841 72h0M855 95h0M507 61h0M605 97h0M809 71h0M575 84h0M472 54h0M522 96h0M516 125h0M931 121h0M752 63h0M583 105h0M550 72h0M873 92h0M524 46h0M540 53h0M831 43h0M973 94h0M388 71h0M918 114h0M288 93h0M784 59h0M528 57h0M567 127h0M699 76h0M228 102h0M204 91h0M803 74h0M756 59h0M932 114h0M899 105h0M449 77h0M306 96h0M856 89h0M601 106h0M986 98h0M431 80h0M392 96h0M604 117h0M701 60h0M285 85h0M862 87h0M606 115h0M897 105h0M495 62h0M965 128h0M383 93h0M972 114h0M274 103h0M477 28h0M860 75h0M208 84h0M760 64h0M734 70h0M453 50h0M766 60h0M528 62h0M778 59h0M982 94h0M790 54h0M325 87h0M913 100h0M353 121h0M507 50h0M646 91h0M550 69h0M385 119h0M847 105h0M477 67h0M810 56h0M752 79h0M977 93h0M990 48h0M247 88h0M950 134h0M480 117h0M831 69h0M250 163h0M497 33h0M416 162h0M671 98h0M730 90h0M745 50h0M223 89h0M297 100h0M728 44h0M708 52h0M926 65h0M421 121h0M878 100h0M565 111h0M870 91h0M555 56h0M419 92h0M266 102h0M980 93h0M874 98h0M301 98h0M862 102h0M936 113h0M931 112h0M485 28h0M760 73h0M941 92h0M434 44h0M477 48h0M466 31h0M225 116h0M437 84h0M398 109h0M480 65h0M836 66h0M456 50h0M445 48h0M823 38h0M312 103h0M519 55h0M976 131h0M619 109h0M267 100h0M577 111h0M382 140h0M455 66h0M568 117h0M411 106h0M525 81h0" stroke="#000" stroke-opacity=".14" stroke-width="5" stroke-linecap="round" filter="url(#bl2)"/>
<path d="M302 79h0M500 65h0M258 92h0M307 75h0M666 67h0M736 81h0M704 48h0M314 119h0M294 45h0M199 112h0M631 102h0M893 89h0M327 98h0M206 77h0M855 78h0M640 100h0M471 46h0M529 68h0M387 70h0M659 89h0M562 71h0M566 79h0M938 137h0M308 109h0M919 122h0M806 30h0M886 87h0M298 92h0M658 67h0M218 58h0M444 31h0M659 115h0M515 69h0M355 109h0M904 102h0M320 95h0M197 102h0M886 80h0M679 82h0M674 99h0M497 81h0M974 91h0M560 65h0M488 32h0M734 77h0M990 102h0M680 69h0M727 71h0M994 36h0M497 21h0M794 67h0M987 99h0M615 99h0M995 81h0M639 106h0M531 56h0M257 120h0M628 93h0M769 67h0M878 81h0M354 105h0M698 41h0M780 63h0M732 45h0M639 92h0M274 74h0M573 112h0M291 71h0M469 41h0M955 102h0M854 61h0M704 47h0M507 60h0M804 35h0M361 134h0M617 121h0M606 106h0M248 103h0M215 93h0M290 85h0M887 78h0M403 88h0M350 83h0M316 88h0M393 133h0M835 61h0M665 85h0M655 86h0M954 119h0M678 101h0M386 102h0M891 87h0M451 61h0M365 133h0M255 87h0M974 87h0M966 104h0M653 62h0M865 89h0M884 111h0M563 117h0M221 72h0M222 43h0M554 60h0M807 80h0M824 42h0M322 83h0M627 98h0M312 91h0M807 60h0M207 88h0M422 104h0M659 85h0M632 90h0M771 65h0M453 44h0M598 100h0M314 116h0M230 103h0M320 138h0M920 94h0M571 101h0M262 98h0M969 100h0M904 102h0M931 137h0M917 110h0M985 86h0M449 58h0M607 59h0M718 52h0M580 96h0M563 118h0M861 97h0M679 70h0M214 52h0M895 82h0M462 56h0M714 78h0M300 104h0M816 86h0M938 101h0M747 98h0M326 102h0M353 111h0M498 16h0M446 74h0M312 114h0M855 93h0M483 49h0M568 96h0M590 110h0M915 119h0M453 90h0M821 74h0M834 66h0M372 65h0M995 123h0M374 115h0M900 93h0M739 116h0M651 110h0M410 84h0M330 102h0M809 92h0M803 79h0M456 60h0M846 32h0M422 122h0M426 110h0M666 105h0M595 105h0M698 28h0M619 99h0M998 82h0M706 57h0M936 131h0M904 140h0M926 110h0M233 78h0M916 80h0M329 91h0M868 82h0M430 85h0M270 94h0M484 60h0M754 74h0M594 129h0M239 88h0M784 56h0M988 75h0M192 100h0" stroke="#000" stroke-opacity=".14" stroke-width="5" stroke-linecap="round" filter="url(#bl2)"/>
<path d="M241 114h0M785 15h0M261 111h0M579 86h0M312 111h0M633 101h0M652 90h0M256 99h0M748 88h0M474 86h0M244 105h0M877 69h0M557 73h0M798 67h0M783 55h0M555 91h0M403 103h0M850 64h0M712 93h0M856 109h0M274 95h0M958 87h0M646 114h0M380 117h0M550 83h0M447 50h0M221 77h0M230 91h0M894 104h0M698 68h0M275 130h0M693 119h0M440 50h0M968 125h0M469 47h0M931 105h0M198 72h0M738 84h0M646 84h0M834 59h0M487 52h0M534 45h0M415 109h0M894 97h0M814 83h0M476 43h0M233 102h0M578 131h0M784 67h0M744 83h0M460 75h0M552 73h0M754 63h0M657 93h0M963 116h0M896 89h0M722 54h0M434 87h0M475 46h0M453 63h0M490 66h0M545 74h0M419 98h0M389 122h0M215 49h0M257 84h0M520 90h0M760 87h0M243 102h0M937 127h0M595 108h0M799 52h0M556 66h0M677 85h0M384 124h0M730 89h0M265 149h0M267 68h0M788 63h0M311 137h0M620 137h0M344 124h0M972 89h0M624 121h0M831 75h0M976 101h0M232 107h0M982 105h0M340 90h0M564 98h0M552 95h0M380 111h0M354 105h0M981 106h0M459 43h0M332 113h0M787 49h0M636 121h0M584 102h0M706 53h0M513 120h0M577 107h0M556 92h0M403 113h0M968 100h0M603 152h0M641 104h0M973 130h0M582 90h0M727 74h0M406 112h0M548 39h0M298 108h0M260 108h0M255 113h0M456 33h0M945 141h0M190 112h0M871 118h0M971 109h0M493 22h0M529 81h0M907 85h0M782 54h0M409 83h0M304 56h0M512 85h0M792 46h0M490 49h0M489 41h0M819 53h0M490 84h0M896 91h0M802 50h0M466 38h0M677 79h0M551 101h0M342 105h0M790 86h0M865 77h0M743 75h0M551 105h0M885 75h0M784 91h0M918 98h0M524 48h0M409 109h0M562 96h0M620 106h0M652 97h0M977 113h0M806 54h0M352 101h0M488 50h0M291 81h0M639 85h0M337 108h0M629 110h0M465 45h0M757 67h0M747 113h0M888 74h0M439 58h0M722 48h0M953 104h0M792 73h0M809 64h0M226 79h0M591 128h0M327 102h0M727 54h0M481 30h0M730 52h0M782 65h0M247 122h0M512 91h0M657 94h0M721 51h0M702 73h0M977 124h0M791 72h0M323 106h0M962 97h0M505 76h0M427 85h0M543 69h0M699 38h0M320 87h0M911 44h0M732 65h0M927 101h0M482 27h0" stroke="#000" stroke-opacity=".14" stroke-width="5" stroke-linecap="round" filter="url(#bl2)"/>
<path d="M467 58h0M207 88h0M469 47h0M754 66h0M871 106h0M342 106h0M316 65h0M549 41h0M466 58h0M875 81h0M797 69h0M893 76h0M422 101h0M349 106h0M591 123h0M915 103h0M909 125h0M617 87h0M799 53h0M821 66h0M402 85h0M618 93h0M774 73h0M490 44h0M958 114h0M672 128h0M831 98h0M789 91h0M847 101h0M628 121h0M619 96h0M973 98h0M914 112h0M924 92h0M940 110h0M799 81h0M409 99h0M675 118h0M306 102h0M701 56h0M483 51h0M591 98h0M675 95h0M862 74h0M296 96h0M800 65h0M614 100h0M405 81h0M764 58h0M307 101h0M948 94h0M920 91h0M605 97h0M400 134h0M473 19h0M482 62h0M317 109h0M829 72h0M784 83h0M497 55h0M991 76h0M460 60h0M306 63h0M609 104h0M374 110h0M279 78h0M734 65h0M545 65h0M950 112h0M656 111h0M722 82h0M317 120h0M296 107h0M450 44h0M743 63h0M516 85h0M373 115h0M874 88h0M225 94h0M940 123h0M523 68h0M746 94h0M275 79h0M374 107h0M218 104h0M638 135h0M301 95h0M930 135h0M261 80h0M712 80h0M298 95h0M238 88h0M542 74h0M820 72h0M240 95h0M414 103h0M981 102h0M431 113h0M794 60h0M675 90h0M370 156h0M605 131h0M407 115h0M816 86h0M794 50h0M191 96h0M914 103h0M557 112h0M552 99h0M441 59h0M458 36h0M840 65h0M503 76h0M862 66h0M762 62h0M664 73h0M879 107h0M225 95h0M886 94h0M632 116h0M501 48h0M466 42h0M529 40h0M596 90h0M543 49h0M257 109h0M732 69h0M210 95h0M298 78h0M631 109h0M692 68h0M816 49h0M454 44h0M471 57h0M384 93h0M778 40h0M773 89h0M923 124h0M659 99h0M598 142h0M871 78h0M689 82h0M661 92h0M918 108h0M364 130h0M253 109h0M307 63h0M510 71h0M462 59h0M723 64h0M671 81h0M678 79h0M502 38h0M457 44h0M998 107h0M799 66h0M465 35h0M977 98h0M210 70h0M816 90h0M614 75h0M637 105h0M942 97h0M944 133h0M891 104h0M550 41h0M216 99h0M301 61h0M879 98h0M875 95h0M555 87h0M365 128h0M413 98h0M803 85h0M667 77h0M503 55h0M498 45h0M490 49h0M400 111h0M912 109h0M729 68h0M361 124h0M901 107h0M388 133h0M995 103h0M298 108h0M317 75h0M205 97h0M894 110h0M722 28h0M321 63h0M806 24h0" stroke="#000" stroke-opacity=".14" stroke-width="5" stroke-linecap="round" filter="url(#bl2)"/>
<path d="M679 88h0M911 107h0M191 82h0M326 90h0M584 117h0M949 74h0M228 76h0M363 124h0M901 100h0M678 68h0M891 88h0M962 88h0M959 117h0M458 30h0M440 50h0M281 76h0M590 99h0M991 49h0M472 47h0M598 88h0M449 68h0M490 46h0M997 108h0M607 98h0M739 66h0M783 55h0M573 124h0M264 95h0M866 103h0M612 131h0M381 120h0M935 126h0M315 102h0M855 94h0M513 121h0M900 140h0M721 51h0M803 69h0M748 85h0M289 94h0M827 53h0M619 70h0M353 96h0M713 47h0M589 85h0M438 87h0M691 89h0M631 95h0M993 82h0M550 82h0M873 83h0M329 98h0M216 142h0M202 84h0M718 57h0M962 129h0M541 92h0M220 114h0M879 85h0M777 75h0M673 76h0M710 53h0M818 68h0M845 59h0M333 97h0M427 70h0M982 109h0M825 78h0M706 60h0M478 67h0M533 43h0M337 102h0M283 76h0M667 94h0M960 104h0M339 105h0M638 48h0M881 108h0M773 73h0M730 56h0M655 120h0M599 120h0M601 105h0M490 77h0M415 98h0M356 115h0M500 55h0M513 100h0M392 103h0M762 84h0M885 79h0M372 153h0M233 87h0M498 40h0M584 106h0M339 79h0M238 87h0M799 93h0M531 87h0M963 99h0M817 59h0M567 112h0M457 45h0M841 73h0M285 94h0M578 109h0M243 92h0M228 99h0M276 81h0M521 72h0M232 93h0M973 120h0M859 100h0M452 29h0M789 54h0M318 116h0M195 75h0M576 107h0M544 63h0M327 58h0M852 98h0M668 76h0M504 57h0M680 86h0M275 74h0M253 79h0M415 112h0M581 115h0M249 77h0M760 55h0M859 111h0M786 62h0M972 112h0M390 116h0M631 110h0M563 90h0M423 137h0M899 96h0M224 68h0M592 140h0M672 96h0M618 68h0M841 21h0M329 111h0M271 96h0M898 100h0M398 77h0M283 74h0M833 44h0M708 49h0M333 79h0M221 100h0M201 75h0M494 60h0M294 147h0M624 125h0M575 80h0M809 69h0M698 59h0M843 74h0M487 87h0M713 58h0M740 69h0M721 81h0M542 80h0M657 81h0M293 104h0M628 105h0M414 116h0M252 96h0M437 54h0M822 -10h0M836 72h0M690 78h0M850 104h0M842 73h0M300 66h0M880 76h0M324 80h0M824 97h0M843 75h0M646 113h0M570 110h0M633 96h0M810 48h0M192 115h0M784 66h0M794 37h0M531 136h0M602 119h0M342 109h0M240 98h0" stroke="#000" stroke-opacity=".14" stroke-width="5" stroke-linecap="round" filter="url(#bl2)"/>
<path d="M439 82h0M923 110h0M863 89h0M386 80h0M399 97h0M523 63h0M368 137h0M692 91h0M577 125h0M411 108h0M852 77h0M398 103h0M739 74h0M395 104h0M781 71h0M428 66h0M639 93h0M444 115h0M759 97h0M720 48h0M996 83h0M791 49h0M757 73h0M777 78h0M939 125h0M811 67h0M458 61h0M990 121h0M739 102h0M780 3h0M386 103h0M399 112h0M782 75h0M713 72h0M507 83h0M225 79h0M883 101h0M338 120h0M798 47h0M600 108h0M444 41h0M557 84h0M647 89h0M207 87h0M380 135h0M605 96h0M565 117h0M472 57h0M435 82h0M815 57h0M540 90h0M400 67h0M531 102h0M362 127h0M458 63h0M976 143h0M670 75h0M862 139h0M606 107h0M582 99h0M525 80h0M426 99h0M595 90h0M669 100h0M992 68h0M749 105h0M372 125h0M864 86h0M908 94h0M709 60h0M765 60h0M844 88h0M787 50h0M311 92h0M890 87h0M408 106h0M674 91h0M376 141h0M376 170h0M445 64h0M635 110h0M545 35h0M528 90h0M492 58h0M954 105h0M421 87h0M945 101h0M455 39h0M326 69h0M362 131h0M762 78h0M633 121h0M553 98h0M607 101h0M904 112h0M840 62h0M921 108h0M611 100h0M484 42h0M887 104h0M763 44h0M990 80h0M859 101h0M564 105h0M824 56h0M285 50h0M634 88h0M812 81h0M471 40h0M881 82h0M291 85h0M357 131h0M808 89h0M985 71h0M503 42h0M634 102h0M788 70h0M231 69h0M868 107h0M452 52h0M643 104h0M776 79h0M988 112h0M720 53h0M428 92h0M604 99h0M310 60h0M319 95h0M897 91h0M579 104h0M612 120h0M395 117h0M524 65h0M557 69h0M750 123h0M487 79h0M197 66h0M671 95h0M747 92h0M900 100h0M856 97h0M875 102h0M374 158h0M518 85h0M381 113h0M546 62h0M270 86h0M510 84h0M411 108h0M882 138h0M246 107h0M501 129h0M264 105h0M196 84h0M649 112h0M943 115h0M322 113h0M436 55h0M516 96h0M625 90h0M922 110h0M659 95h0M277 124h0M828 94h0M196 95h0M755 46h0M393 112h0M881 97h0M901 95h0M602 92h0M417 107h0M476 28h0M369 162h0M462 77h0M944 116h0M943 119h0M312 97h0M954 91h0M612 98h0M588 120h0M784 100h0M576 116h0M336 115h0M280 69h0M644 121h0M436 89h0M601 100h0M629 103h0M457 34h0M612 67h0M651 78h0M892 103h0" stroke="#000" stroke-opacity=".14" stroke-width="5" stroke-linecap="round" filter="url(#bl2)"/>
<path d="M274 67h0M247 95h0M459 38h0M244 84h0M951 93h0M689 85h0M793 89h0M671 106h0M681 93h0M512 95h0M327 113h0M331 59h0M212 94h0M866 105h0M356 102h0M887 76h0M232 95h0M889 102h0M686 70h0M851 61h0M924 97h0M342 105h0M500 49h0M704 51h0M390 128h0M907 97h0M341 135h0M540 66h0M636 150h0M214 83h0M319 91h0M679 69h0M532 101h0M702 23h0M292 109h0M710 58h0M345 90h0M743 60h0M744 76h0M768 60h0M592 137h0M255 97h0M222 99h0M387 106h0M420 102h0M704 50h0M626 86h0M813 29h0M460 79h0M197 81h0M926 103h0M508 43h0M740 55h0M390 137h0M599 109h0M340 112h0M867 84h0M574 91h0M307 81h0M445 49h0M568 127h0M795 74h0M352 105h0M432 147h0M976 78h0M212 101h0M889 90h0M507 39h0M733 91h0M730 83h0M699 75h0M348 100h0M745 63h0M275 84h0M471 4h0M336 89h0M320 86h0M576 101h0M272 102h0M391 97h0M651 89h0M269 96h0M481 52h0M446 29h0M832 61h0M982 118h0M429 64h0M204 105h0M902 102h0M842 55h0M667 93h0M573 97h0M938 123h0M794 90h0M747 97h0M871 102h0M445 77h0M366 131h0M516 100h0M911 96h0M811 86h0M732 28h0M564 55h0M722 42h0M996 87h0M214 75h0M921 101h0M399 92h0M302 127h0M902 130h0M832 98h0M727 76h0M814 41h0M597 112h0M195 99h0M825 64h0M220 74h0M741 84h0M263 118h0M671 106h0M547 70h0M856 90h0M328 127h0M482 52h0M418 83h0M371 158h0M815 63h0M938 110h0M804 60h0M696 66h0M406 103h0M541 49h0M544 40h0M269 125h0M874 71h0M218 76h0M851 92h0M243 102h0M991 41h0M744 79h0M670 89h0M267 105h0M558 96h0M799 49h0M213 100h0M622 114h0M852 96h0M700 76h0M868 67h0M989 94h0M781 73h0M263 100h0M239 120h0M823 68h0M539 78h0M879 97h0M959 116h0M214 75h0M745 91h0M325 75h0M402 111h0M393 101h0M918 86h0M336 107h0M384 107h0M244 89h0M230 91h0M251 108h0M638 100h0M894 124h0M456 81h0M225 100h0M765 70h0M761 105h0M476 60h0M301 95h0M692 105h0M283 98h0M826 68h0M260 84h0M773 63h0M698 52h0M475 36h0M421 124h0M327 70h0M942 103h0M497 76h0M910 118h0M254 103h0M941 112h0M970 110h0M474 66h0" stroke="#000" stroke-opacity=".14" stroke-width="5" stroke-linecap="round" filter="url(#bl2)"/>
<path d="M446 47h0M984 118h0M271 78h0M777 59h0M286 102h0M965 109h0M259 94h0M760 52h0M678 108h0M490 88h0M669 104h0M655 100h0M526 54h0M445 92h0M583 101h0M666 101h0M653 94h0M627 101h0M841 75h0M256 85h0M962 99h0M749 61h0M531 66h0M737 73h0M439 80h0M959 100h0M961 117h0M707 82h0M716 74h0M308 51h0M363 119h0M779 82h0M747 104h0M223 89h0M564 87h0M959 121h0M842 82h0M952 124h0M702 58h0M241 82h0M896 133h0M597 87h0M881 97h0M691 91h0M321 76h0M427 102h0M794 36h0M386 126h0M731 95h0M751 132h0M243 74h0M620 88h0M887 100h0M863 86h0M481 36h0M834 67h0M295 55h0M924 80h0M721 58h0M811 54h0M218 76h0M988 104h0M437 70h0M367 156h0M283 81h0M953 121h0M879 89h0M650 100h0M892 86h0M273 104h0M943 106h0M880 105h0M417 133h0M350 117h0M885 75h0M235 83h0M402 125h0M379 125h0M758 65h0M370 137h0M772 92h0M947 112h0M493 66h0M344 91h0M259 78h0M797 64h0M916 103h0M478 69h0M604 102h0M257 94h0M420 110h0M950 108h0M505 57h0M219 101h0M349 121h0M439 59h0M746 77h0M612 89h0M853 113h0M800 76h0M813 37h0M982 69h0M993 46h0M856 68h0M873 81h0M496 44h0M763 52h0M819 67h0M491 72h0M622 103h0M191 117h0M231 77h0M362 128h0M847 61h0M984 86h0M462 67h0M651 79h0M298 109h0M633 42h0M625 100h0M465 59h0M980 97h0M921 64h0M687 54h0M852 100h0M823 84h0M545 117h0M919 113h0M309 74h0M510 87h0M667 133h0M891 105h0M709 73h0M779 78h0M224 93h0M715 74h0M328 89h0M717 67h0M235 110h0M688 84h0M872 92h0M882 109h0M324 123h0M852 99h0M522 74h0M190 133h0M447 40h0M899 83h0M764 49h0M314 104h0M958 110h0M595 112h0M913 119h0M242 94h0M374 156h0M924 98h0M583 98h0M201 88h0M874 95h0M932 126h0M459 48h0M274 88h0M921 94h0M214 66h0M887 72h0M419 105h0M270 89h0M214 80h0M821 71h0M652 79h0M333 80h0M671 83h0M694 66h0M408 91h0M541 71h0M342 146h0M709 62h0M871 73h0M491 50h0M509 57h0M583 107h0M655 92h0M557 93h0M752 72h0M357 109h0M543 62h0M760 68h0M330 91h0M562 95h0M362 164h0M841 90h0M514 135h0" stroke="#000" stroke-opacity=".14" stroke-width="5" stroke-linecap="round" filter="url(#bl2)"/>
<path d="M413 104h0M650 117h0M391 115h0M360 140h0M965 113h0M775 82h0M426 96h0M289 99h0M801 65h0M449 53h0M811 58h0M527 64h0M611 129h0M752 84h0M354 122h0M198 91h0M231 114h0M988 114h0M290 87h0M798 74h0M697 75h0M239 65h0M960 125h0M860 112h0M915 102h0M578 109h0M878 63h0M806 75h0M289 106h0M866 84h0M744 93h0M336 97h0M358 140h0M822 76h0M385 115h0M893 114h0M730 33h0M196 101h0M248 79h0M743 61h0M616 107h0M688 71h0M330 89h0M599 90h0M264 91h0M792 78h0M915 161h0M947 109h0M282 70h0M345 101h0M901 102h0M644 101h0M781 101h0M593 60h0M471 22h0M985 113h0M442 41h0M931 91h0M670 95h0M222 110h0M231 98h0M811 79h0M902 120h0M520 64h0M484 49h0M394 125h0M631 105h0M847 21h0M475 33h0M966 102h0M895 50h0M404 155h0M807 90h0M537 82h0M751 87h0M487 69h0M968 96h0M941 92h0M411 105h0M382 126h0M279 92h0M269 103h0M328 116h0M444 41h0M849 71h0M980 100h0M955 100h0M763 60h0M859 93h0M375 104h0M502 44h0M884 76h0M384 128h0M707 74h0M328 100h0M472 53h0M991 92h0M807 68h0M657 108h0M823 81h0M485 34h0M700 34h0M771 45h0M646 113h0M295 122h0M769 50h0M236 80h0M808 78h0M976 120h0M531 66h0M413 100h0M877 89h0M559 75h0M250 55h0M743 58h0M471 71h0M754 62h0M286 75h0M236 104h0M917 120h0M990 41h0M673 105h0M248 109h0M327 99h0M860 69h0M914 103h0M753 46h0M809 29h0M319 100h0M745 65h0M326 75h0M703 60h0M438 81h0M513 89h0M853 79h0M201 59h0M412 116h0M404 105h0M226 82h0M772 63h0M754 53h0M734 71h0M704 22h0M474 72h0M593 131h0M517 64h0M474 56h0M493 58h0M294 96h0M605 70h0M888 85h0M699 15h0M407 122h0M883 76h0M400 106h0M509 70h0M934 141h0M607 75h0M524 79h0M683 77h0M612 97h0M274 88h0M330 102h0M761 68h0M720 45h0M434 76h0M287 93h0M339 100h0M346 99h0M280 104h0M347 118h0M332 107h0M433 124h0M891 111h0M352 108h0M201 93h0M989 112h0M767 94h0M627 90h0M867 80h0M572 94h0M687 78h0M267 83h0M477 45h0M974 122h0M499 47h0M489 59h0M768 65h0M920 121h0M223 70h0M722 37h0M444 69h0" stroke="#000" stroke-opacity=".14" stroke-width="5" stroke-linecap="round" filter="url(#bl2)"/>
<path d="M475 43h0M472 69h0M893 88h0M808 81h0M733 75h0M364 130h0M355 65h0M313 98h0M868 75h0M994 95h0M265 86h0M984 111h0M889 67h0M335 67h0M893 117h0M469 40h0M289 70h0M540 80h0M331 97h0M938 115h0M749 122h0M895 98h0M782 29h0M653 83h0M790 91h0M520 84h0M556 119h0M530 79h0M311 99h0M828 67h0M705 55h0M220 96h0M301 78h0M389 106h0M720 44h0M207 103h0M945 122h0M394 105h0M356 126h0M768 116h0M368 128h0M428 113h0M443 43h0M605 129h0M675 79h0M562 84h0M361 139h0M880 96h0M525 55h0M722 62h0M900 82h0M771 91h0M383 103h0M320 72h0M541 102h0M278 83h0M747 83h0M560 104h0M429 84h0M908 107h0M766 73h0M871 74h0M673 83h0M975 124h0M682 64h0M858 82h0M367 119h0M437 32h0M476 67h0M619 106h0M211 46h0M787 25h0M885 95h0M446 65h0M655 97h0M336 104h0M541 74h0M291 116h0M410 96h0M879 67h0M383 132h0M524 64h0M590 111h0M960 112h0M776 51h0M481 74h0M540 34h0M973 102h0M284 80h0M203 113h0M455 56h0M305 75h0M430 75h0M378 120h0M778 84h0M395 131h0M893 106h0M306 97h0M957 126h0M340 105h0M485 36h0M383 102h0M973 106h0M434 50h0M937 90h0M514 107h0M354 101h0M224 68h0M502 5h0M453 49h0M996 80h0M770 102h0M796 67h0M743 100h0M863 69h0M741 76h0M706 63h0M960 128h0M923 85h0M648 101h0M616 117h0M702 30h0M885 77h0M626 111h0M618 96h0M702 39h0M260 80h0M375 133h0M400 96h0M931 106h0M549 111h0M683 85h0M256 112h0M770 71h0M247 87h0M880 116h0M956 92h0M328 89h0M853 78h0M522 71h0M301 77h0M239 109h0M645 100h0M685 97h0M890 101h0M833 69h0M283 74h0M460 68h0M594 106h0M191 93h0M719 64h0M296 113h0M741 68h0M229 86h0M231 88h0M663 102h0M792 78h0M975 120h0M450 114h0M438 70h0M429 72h0M978 105h0M707 64h0M423 90h0M943 149h0M570 107h0M461 58h0M874 104h0M983 83h0M722 21h0M685 59h0M473 42h0M815 49h0M855 82h0M478 42h0M954 127h0M980 87h0M911 112h0M568 107h0M937 103h0M939 97h0M721 45h0M572 107h0M433 94h0M711 75h0M892 108h0M366 126h0M798 51h0M615 78h0M719 38h0M383 115h0M951 139h0" stroke="#000" stroke-opacity=".14" stroke-width="5" stroke-linecap="round" filter="url(#bl2)"/>
<path d="M671 106h0M589 102h0M634 85h0M658 93h0M974 142h0M206 130h0M594 99h0M517 100h0M818 39h0M416 107h0M720 47h0M267 101h0M700 56h0M318 97h0M583 82h0M790 62h0M209 97h0M908 87h0M668 98h0M940 80h0M731 64h0M217 91h0M964 115h0M681 47h0M622 113h0M224 69h0M513 102h0M818 39h0M741 76h0M399 104h0M651 108h0M525 73h0M255 80h0M430 56h0M638 105h0M319 111h0M207 94h0M489 40h0M390 112h0M262 121h0M875 92h0M584 113h0M377 115h0M939 89h0M824 61h0M978 109h0M923 109h0M707 50h0M577 101h0M346 81h0M635 94h0M234 77h0M345 111h0M488 50h0M402 107h0M846 58h0M385 135h0M814 68h0M276 116h0M985 112h0M844 38h0M651 54h0M536 70h0M802 68h0M875 92h0M491 47h0M797 55h0M461 59h0M735 75h0M734 53h0M762 54h0M252 96h0M546 57h0M710 67h0M469 40h0M886 84h0M437 55h0M824 76h0M392 109h0M278 112h0M357 115h0M918 77h0M855 78h0M578 98h0M803 96h0M983 78h0M652 92h0M971 93h0M876 82h0M759 75h0M786 60h0M910 102h0M473 54h0M441 37h0M573 111h0M270 109h0M205 98h0M510 70h0M644 96h0M295 66h0M640 109h0M825 51h0M930 124h0M803 90h0M674 86h0M337 118h0M505 59h0M736 74h0M449 66h0M243 74h0M847 58h0M740 101h0M583 119h0M992 82h0M231 111h0M896 84h0M210 68h0M327 97h0M282 68h0M452 53h0M337 96h0M306 100h0M447 57h0M383 128h0M846 77h0M684 82h0M324 93h0M890 99h0M370 140h0M542 49h0M653 89h0M717 44h0M834 71h0M468 44h0M615 114h0M461 50h0M960 80h0M396 95h0M818 42h0M626 101h0M232 101h0M856 96h0M574 80h0M883 120h0M631 136h0M839 29h0M741 115h0M583 102h0M655 69h0M670 94h0M702 50h0M925 103h0M845 72h0M809 61h0M794 67h0M924 130h0M363 149h0M214 86h0M415 96h0M978 70h0M941 122h0M435 51h0M693 38h0M262 85h0M977 114h0M548 62h0M431 69h0M222 87h0M840 88h0M724 42h0M309 94h0M637 110h0M716 53h0M447 46h0M423 89h0M584 128h0M247 86h0M506 49h0M315 78h0M767 111h0M297 117h0M391 109h0M711 56h0M822 58h0M984 103h0M841 81h0M701 62h0M299 81h0M868 99h0M927 85h0M607 118h0M208 82h0" stroke="#000" stroke-opacity=".14" stroke-width="5" stroke-linecap="round" filter="url(#bl2)"/>
<path d="M635 110h0M269 102h0M758 48h0M326 87h0M670 72h0M739 93h0M229 77h0M951 101h0M911 118h0M624 123h0M543 67h0M852 82h0M385 155h0M423 83h0M492 44h0M751 68h0M331 97h0M980 100h0M910 118h0M460 72h0M435 68h0M485 36h0M609 66h0M644 79h0M810 93h0M530 67h0M191 93h0M363 142h0M264 82h0M415 99h0M554 93h0M833 104h0M586 96h0M793 64h0M655 111h0M460 55h0M358 151h0M525 87h0M367 155h0M706 67h0M465 34h0M490 82h0M700 42h0M498 53h0M286 93h0M302 79h0M742 63h0M475 56h0M865 83h0M704 52h0M736 66h0M704 33h0M206 98h0M425 109h0M619 110h0M775 79h0M354 101h0M615 103h0M490 29h0M634 111h0M719 62h0M248 96h0M317 118h0M369 145h0M787 47h0M573 112h0M346 107h0M450 63h0M624 67h0M381 119h0M748 71h0M604 111h0M524 93h0M965 104h0M448 55h0M725 9h0M814 56h0M786 57h0M643 114h0M607 108h0M750 94h0M226 104h0M415 115h0M625 96h0M875 73h0M503 68h0M725 23h0M207 94h0M745 42h0M629 93h0M512 107h0M496 41h0M317 84h0M963 125h0M612 118h0M950 123h0M939 116h0M731 62h0M342 97h0M604 83h0M543 64h0M828 77h0M352 93h0M802 72h0M431 71h0M956 105h0M314 110h0M393 117h0M571 85h0M943 95h0M920 128h0M349 116h0M409 103h0M464 83h0M951 105h0M571 154h0M736 51h0M228 76h0M394 94h0M312 81h0M837 63h0M472 83h0M805 24h0M562 106h0M421 129h0M811 79h0M466 52h0M233 91h0M686 119h0M588 104h0M271 107h0M565 119h0M892 94h0M865 65h0M683 77h0M230 102h0M629 86h0M460 51h0M792 62h0M495 37h0M199 108h0M339 89h0M493 50h0M434 71h0M978 92h0M736 87h0M840 66h0M855 79h0M497 25h0M751 94h0M750 101h0M828 61h0M896 114h0M437 66h0M642 73h0M897 95h0M783 49h0M530 77h0M972 64h0M367 148h0M742 88h0M687 45h0M750 82h0M346 111h0M749 48h0M653 101h0M596 85h0M857 138h0M405 100h0M780 76h0M351 115h0M440 58h0M284 86h0M651 88h0M489 69h0M859 117h0M419 122h0M928 90h0M685 60h0M206 64h0M870 81h0M303 111h0M429 86h0M483 53h0M773 68h0M637 129h0M516 97h0M496 48h0M956 101h0M581 108h0M650 102h0M361 136h0" stroke="#000" stroke-opacity=".14" stroke-width="5" stroke-linecap="round" filter="url(#bl2)"/>
<path d="M866 77h0M290 110h0M511 79h0M926 68h0M215 79h0M272 102h0M303 94h0M724 41h0M994 105h0M590 88h0M808 59h0M327 80h0M886 58h0M988 82h0M643 110h0M693 49h0M758 48h0M309 82h0M217 73h0M455 30h0M750 98h0M197 92h0M317 113h0M709 55h0M878 73h0M623 147h0M553 78h0M781 83h0M611 105h0M832 43h0M190 43h0M462 86h0M954 97h0M484 27h0M748 93h0M403 112h0M467 36h0M321 92h0M930 109h0M904 101h0M919 104h0M634 86h0M954 108h0M285 104h0M603 110h0M526 41h0M335 108h0M728 78h0M746 100h0M315 111h0M733 72h0M542 52h0M879 107h0M917 88h0M427 78h0M602 135h0M547 46h0M296 102h0M811 45h0M460 17h0M221 67h0M979 116h0M323 98h0M280 119h0M378 102h0M507 44h0M821 77h0M782 56h0M565 95h0M614 110h0M721 49h0M269 91h0M839 73h0M462 48h0M465 65h0M327 112h0M353 102h0M916 115h0M409 110h0M723 42h0M952 121h0M856 77h0M193 77h0M259 97h0M292 94h0M744 84h0M265 95h0M525 71h0M916 87h0M213 82h0M467 42h0M771 65h0M283 81h0M900 79h0M425 59h0M428 110h0M653 107h0M792 77h0M417 96h0M293 74h0M485 44h0M761 82h0M447 26h0M224 79h0M964 97h0M616 105h0M281 82h0M698 59h0M584 90h0M826 62h0M569 75h0M589 107h0M374 136h0M952 101h0M289 100h0M215 93h0M696 69h0M670 91h0M816 71h0M801 79h0M341 123h0M397 118h0M969 123h0M635 78h0M580 108h0M334 116h0M421 100h0M829 80h0M908 96h0M842 39h0M210 98h0M720 54h0M445 32h0M439 52h0M561 101h0M613 99h0M232 109h0M416 111h0M731 21h0M357 136h0M848 81h0M912 88h0M553 73h0M280 87h0M893 93h0M955 96h0M560 90h0M608 84h0M887 91h0M224 83h0M387 116h0M896 94h0M900 115h0M326 103h0M245 101h0M575 93h0M403 104h0M470 53h0M762 35h0M931 87h0M468 57h0M817 87h0M599 100h0M480 71h0M783 42h0M615 105h0M476 34h0M350 99h0M832 78h0M882 114h0M841 49h0M280 102h0M276 85h0M296 86h0M888 59h0M687 68h0M393 171h0M277 107h0M363 143h0M724 33h0M209 63h0M678 92h0M242 82h0M363 124h0M328 112h0M225 79h0M641 102h0M712 77h0M354 105h0M263 100h0M752 70h0M470 67h0" stroke="#000" stroke-opacity=".14" stroke-width="5" stroke-linecap="round" filter="url(#bl2)"/>
<path d="M978 109h0M754 78h0M718 61h0M905 88h0M823 44h0M518 82h0M992 78h0M787 85h0M693 81h0M196 80h0M415 49h0M968 114h0M586 119h0M965 112h0M835 72h0M519 76h0M645 97h0M672 100h0M592 103h0M300 83h0M423 99h0M528 81h0M200 66h0M720 36h0M314 110h0M563 112h0M616 81h0M312 75h0M799 61h0M510 49h0M887 45h0M954 107h0M760 54h0M620 111h0M281 75h0M788 66h0M668 123h0M665 91h0M569 105h0M786 24h0M600 105h0M543 56h0M549 121h0M813 66h0M239 85h0M820 67h0M699 57h0M656 145h0M274 88h0M841 83h0M498 67h0M571 100h0M772 59h0M298 85h0M665 111h0M432 62h0M475 27h0M713 66h0M640 77h0M812 72h0M807 83h0M727 85h0M601 104h0M375 149h0M397 98h0M458 63h0M598 107h0M494 39h0M901 97h0M318 106h0M533 54h0M317 97h0M865 64h0M519 86h0M692 56h0M395 96h0M790 87h0M197 94h0M954 131h0M718 45h0M523 84h0M678 102h0M482 64h0M613 89h0M879 85h0M883 103h0M511 78h0M194 97h0M489 88h0M866 76h0M933 109h0M957 110h0M579 93h0M478 48h0M958 135h0M234 83h0M857 86h0M659 116h0M972 95h0M315 109h0M808 60h0M765 57h0M328 106h0M253 100h0M716 94h0M987 107h0M685 69h0M361 135h0M737 107h0M507 91h0M478 57h0M393 115h0M273 126h0M668 100h0M955 112h0M234 94h0M694 61h0M573 109h0M499 47h0M467 41h0M623 113h0M795 85h0M365 135h0M194 88h0M992 89h0M899 119h0M605 104h0M274 92h0M420 98h0M630 93h0M645 65h0M348 117h0M367 133h0M702 53h0M740 76h0M614 91h0M495 38h0M237 63h0M433 85h0M702 45h0M866 97h0M710 49h0M254 103h0M381 108h0M931 112h0M994 89h0M328 107h0M675 75h0M256 99h0M481 53h0M663 113h0M221 107h0M779 74h0M635 116h0M682 51h0M388 106h0M834 56h0M455 46h0M651 106h0M445 68h0M213 84h0M418 95h0M666 102h0M886 88h0M653 86h0M624 104h0M263 104h0M757 83h0M344 104h0M939 111h0M824 42h0M190 95h0M375 124h0M361 144h0M810 32h0M580 109h0M584 93h0M289 77h0M941 88h0M387 133h0M804 62h0M330 91h0M398 119h0M942 102h0M836 85h0M877 94h0M689 80h0M658 91h0M855 71h0M776 39h0M930 105h0M298 93h0" stroke="#000" stroke-opacity=".14" stroke-width="5" stroke-linecap="round" filter="url(#bl2)"/>
<path d="M576 82h0M193 115h0M845 37h0M903 126h0M822 55h0M988 95h0M650 95h0M423 95h0M370 107h0M833 67h0M234 99h0M729 58h0M319 99h0M396 110h0M981 106h0M879 122h0M544 44h0M705 62h0M232 106h0M664 88h0M229 92h0M513 123h0M847 90h0M199 101h0M386 96h0M945 80h0M685 63h0M257 67h0M256 94h0M225 60h0M655 78h0M936 138h0M708 65h0M510 80h0M708 54h0M276 97h0M449 49h0M416 103h0M914 120h0M970 92h0M714 83h0M297 113h0M432 87h0M444 77h0M285 67h0M980 101h0M959 87h0M581 101h0M735 91h0M295 74h0M255 88h0M913 102h0M383 107h0M418 104h0M516 93h0M750 89h0M747 83h0M491 67h0M231 116h0M908 75h0M594 98h0M774 62h0M656 82h0M266 104h0M984 97h0M445 68h0M276 83h0M289 110h0M327 135h0M275 102h0M736 62h0M455 17h0M511 80h0M559 97h0M981 99h0M240 83h0M306 110h0M528 43h0M346 95h0M772 63h0M909 114h0M368 148h0M541 60h0M383 129h0M223 98h0M560 92h0M263 78h0M732 77h0M265 95h0M772 70h0M315 94h0M552 90h0M382 109h0M287 128h0M390 130h0M413 122h0M307 107h0M346 103h0M243 96h0M355 105h0M851 75h0M605 121h0M378 138h0M700 39h0M265 87h0M593 136h0M848 78h0M666 95h0M733 58h0M240 97h0M509 76h0M558 98h0M478 59h0M528 78h0M267 77h0M399 96h0M977 79h0M656 105h0M194 81h0M772 67h0M397 130h0M201 105h0M328 126h0M823 75h0M739 42h0M561 62h0M877 82h0M558 95h0M798 53h0M506 50h0M262 77h0M597 95h0M956 117h0M981 95h0M851 67h0M620 122h0M787 45h0M994 80h0M272 95h0M395 85h0M358 119h0M352 84h0M817 63h0M440 62h0M560 79h0M789 42h0M193 93h0M360 136h0M875 96h0M926 111h0M986 107h0M420 93h0M816 78h0M349 90h0M642 101h0M921 113h0M403 99h0M545 74h0M469 45h0M220 78h0M418 83h0M991 75h0M488 45h0M781 106h0M475 50h0M871 98h0M839 68h0M768 79h0M574 110h0M644 98h0M267 90h0M825 51h0M594 93h0M279 67h0M316 106h0M896 89h0M281 65h0M595 97h0M832 62h0M622 97h0M761 85h0M471 56h0M407 139h0M561 68h0M518 90h0M833 48h0M679 48h0M277 103h0M516 76h0M277 104h0M253 103h0" stroke="#000" stroke-opacity=".14" stroke-width="5" stroke-linecap="round" filter="url(#bl2)"/>
<path d="M360 156h0M280 98h0M288 69h0M315 118h0M257 48h0M274 64h0M658 97h0M281 88h0M770 69h0M757 65h0M819 86h0M916 97h0M239 97h0M617 131h0M765 50h0M845 62h0M847 74h0M896 80h0M267 92h0M331 117h0M953 119h0M273 84h0M944 118h0M991 74h0M595 89h0M415 89h0M871 94h0M988 74h0M850 72h0M429 90h0M455 68h0M347 105h0M826 50h0M932 122h0M546 74h0M811 64h0M761 64h0M460 10h0M629 95h0M617 100h0M219 80h0M581 108h0M853 79h0M873 83h0M454 42h0M676 94h0M829 80h0M261 113h0M840 73h0M659 104h0M664 97h0M967 103h0M634 87h0M765 78h0M519 75h0M899 109h0M234 122h0M984 82h0M638 56h0M397 110h0M550 102h0M718 45h0M853 118h0M335 114h0M522 49h0M916 85h0M266 104h0M613 132h0M251 64h0M834 84h0M529 93h0M663 94h0M353 128h0M639 82h0M578 91h0M278 92h0M234 115h0M780 72h0M443 57h0M205 79h0M327 143h0M759 68h0M557 102h0M588 114h0M770 77h0M569 105h0M514 108h0M554 34h0M830 125h0M716 38h0M498 64h0M905 93h0M202 96h0M670 82h0M790 32h0M806 83h0M892 81h0M876 81h0M540 78h0M849 62h0M861 87h0M408 129h0M486 58h0M979 99h0M524 65h0M841 82h0M513 103h0M324 76h0M859 105h0M607 119h0M355 115h0M804 69h0M777 85h0M252 105h0M204 76h0M230 80h0M474 62h0M258 61h0M810 61h0M226 67h0M952 75h0M973 102h0M267 102h0M544 46h0M618 106h0M614 90h0M751 67h0M467 39h0M726 83h0M731 73h0M302 107h0M933 122h0M396 117h0M441 114h0M509 81h0M395 114h0M693 48h0M491 36h0M670 73h0M803 73h0M779 53h0M409 94h0M829 66h0M277 70h0M758 57h0M724 14h0M721 68h0M926 108h0M686 104h0M246 100h0M825 53h0M596 102h0M386 111h0M614 122h0M785 68h0M663 106h0M955 117h0M683 89h0M386 122h0M789 56h0M510 58h0M373 128h0M814 71h0M480 52h0M432 60h0M738 98h0M329 88h0M839 74h0M217 60h0M921 95h0M295 107h0M404 180h0M211 89h0M406 100h0M587 136h0M461 45h0M209 99h0M361 181h0M689 52h0M679 42h0M923 86h0M201 93h0M792 73h0M895 96h0M273 88h0M539 68h0M825 44h0M599 127h0M373 126h0M697 57h0M822 68h0" stroke="#000" stroke-opacity=".14" stroke-width="5" stroke-linecap="round" filter="url(#bl2)"/>
<path d="M268 77h0M472 60h0M241 70h0M690 82h0M366 117h0M688 85h0M889 91h0M478 63h0M917 109h0M197 100h0M306 107h0M321 78h0M993 76h0M941 95h0M833 77h0M936 108h0M693 50h0M629 92h0M940 108h0M769 72h0M532 98h0M860 90h0M531 73h0M451 26h0M494 30h0M312 125h0M381 125h0M588 96h0M995 90h0M849 73h0M892 120h0M716 78h0M683 94h0M630 97h0M731 59h0M850 84h0M944 92h0M590 110h0M541 45h0M908 110h0M534 73h0M264 90h0M234 81h0M983 123h0M512 66h0M938 124h0M288 126h0M580 100h0M236 94h0M960 101h0M788 61h0M359 145h0M466 41h0M220 52h0M308 71h0M895 85h0M464 95h0M264 135h0M870 87h0M616 72h0M712 76h0M473 53h0M870 71h0M991 80h0M321 96h0M941 91h0M830 50h0M194 94h0M708 59h0M364 124h0M906 127h0M887 88h0M243 89h0M563 88h0M559 70h0M746 87h0M920 123h0M771 64h0M339 88h0M667 98h0M426 99h0M803 71h0M931 109h0M395 107h0M817 66h0M248 78h0M784 77h0M698 41h0M970 128h0M203 88h0M577 133h0M991 96h0M516 100h0M719 41h0M583 67h0M447 37h0M379 136h0M876 65h0M730 86h0M717 36h0M859 107h0M587 102h0M906 77h0M491 13h0M455 61h0M798 57h0M576 113h0M213 86h0M221 104h0M798 54h0M957 117h0M265 101h0M674 91h0M489 57h0M791 99h0M510 84h0M240 70h0M292 85h0M471 42h0M410 88h0M647 126h0M756 70h0M885 119h0M715 70h0M619 103h0M626 121h0M691 90h0M532 75h0M584 114h0M252 97h0M589 109h0M308 98h0M204 100h0M337 88h0M517 93h0M622 104h0M304 107h0M747 116h0M673 76h0M717 69h0M668 101h0M938 103h0M767 63h0M984 110h0M549 67h0M647 93h0M332 96h0M883 110h0M907 99h0M755 68h0M477 67h0M602 105h0M709 64h0M550 96h0M332 95h0M915 111h0M526 61h0M800 90h0M738 88h0M498 36h0M676 62h0M534 53h0M471 51h0M484 50h0M480 64h0M738 94h0M541 70h0M908 86h0M655 95h0M446 48h0M850 95h0M234 115h0M990 100h0M338 107h0M949 84h0M831 39h0M880 98h0M339 85h0M527 44h0M745 64h0M906 124h0M205 77h0M740 91h0M541 57h0M740 82h0M399 117h0M308 104h0M728 57h0M529 50h0M408 95h0M530 73h0" stroke="#000" stroke-opacity=".14" stroke-width="5" stroke-linecap="round" filter="url(#bl2)"/>
<path d="M671 65h0M215 93h0M366 133h0M808 113h0M936 116h0M474 23h0M824 45h0M810 57h0M857 95h0M675 80h0M227 104h0M429 72h0M881 93h0M895 100h0M456 53h0M889 85h0M793 65h0M219 105h0M413 78h0M967 85h0M957 127h0M675 66h0M954 86h0M729 73h0M887 82h0M950 111h0M271 103h0M271 100h0M196 103h0M305 86h0M194 93h0M195 78h0M203 68h0M670 97h0M683 122h0M381 115h0M256 99h0M367 121h0M962 104h0M925 74h0M638 92h0M218 107h0M752 48h0M953 100h0M354 99h0M825 37h0M385 96h0M573 116h0M899 108h0M807 62h0M857 82h0M519 57h0M492 30h0M710 57h0M550 101h0M259 119h0M457 55h0M845 58h0M698 62h0M432 94h0M442 71h0M856 81h0M690 85h0M745 91h0M398 129h0M564 70h0M648 96h0M781 79h0M828 64h0M812 70h0M645 93h0M225 80h0M834 58h0M209 80h0M240 60h0M657 102h0M773 74h0M458 51h0M241 69h0M849 98h0M401 95h0M281 101h0M894 82h0M373 136h0M642 94h0M692 65h0M236 83h0M648 111h0M989 85h0M526 59h0M919 122h0M506 61h0M912 127h0M903 104h0M539 63h0M231 157h0M409 81h0M787 36h0M354 97h0M733 34h0M464 65h0M691 67h0M439 68h0M380 151h0M767 77h0M230 94h0M538 69h0M681 77h0M803 88h0M517 77h0M636 104h0M737 82h0M551 69h0M958 121h0M240 71h0M481 81h0M460 56h0M543 57h0M469 79h0M874 93h0M393 113h0M321 92h0M273 85h0M996 80h0M606 103h0M977 130h0M245 116h0M642 98h0M436 91h0M390 126h0M544 50h0M522 49h0M191 82h0M758 72h0M354 108h0M901 104h0M328 131h0M563 69h0M626 60h0M470 41h0M753 53h0M645 108h0M948 135h0M982 109h0M230 88h0M233 71h0M813 23h0M899 90h0M401 94h0M829 63h0M783 82h0M515 95h0M473 16h0M732 73h0M352 108h0M867 62h0M842 49h0M973 111h0M672 93h0M199 71h0M973 108h0M263 113h0M361 157h0M803 80h0M978 98h0M827 69h0M523 74h0M591 108h0M998 103h0M912 86h0M502 60h0M472 50h0M960 117h0M677 65h0M908 99h0M638 102h0M942 101h0M444 43h0M528 118h0M910 75h0M442 26h0M590 115h0M697 60h0M630 131h0M534 56h0M589 104h0M616 120h0M816 59h0M348 140h0M568 117h0M621 120h0" stroke="#000" stroke-opacity=".14" stroke-width="5" stroke-linecap="round" filter="url(#bl2)"/>
<path d="M966 71h0M833 64h0M527 55h0M620 90h0M980 77h0M487 40h0M576 115h0M940 111h0M201 97h0M302 92h0M530 43h0M410 110h0M779 34h0M994 78h0M923 154h0M327 74h0M959 83h0M935 81h0M358 132h0M667 110h0M728 57h0M987 85h0M877 133h0M512 102h0M777 62h0M845 114h0M478 77h0M594 145h0M771 47h0M695 85h0M542 41h0M723 53h0M910 121h0M609 105h0M744 99h0M702 40h0M429 3h0M738 82h0M678 90h0M332 177h0M641 117h0M556 86h0M472 30h0M937 116h0M452 54h0M763 73h0M318 106h0M383 120h0M371 157h0M960 103h0M259 101h0M948 95h0M376 125h0M956 129h0M266 97h0M916 96h0M356 116h0M865 90h0M445 71h0M299 79h0M650 119h0M760 27h0M440 54h0M726 29h0M623 127h0M623 101h0M218 121h0M971 122h0M377 145h0M773 58h0M202 85h0M657 97h0M593 82h0M959 109h0M338 83h0M968 112h0M735 71h0M751 54h0M262 102h0M279 69h0M845 92h0M793 68h0M489 42h0M848 57h0M874 110h0M925 101h0M407 112h0M659 95h0M430 54h0M719 60h0M251 80h0M439 81h0M799 73h0M378 105h0M319 85h0M733 81h0M825 79h0M581 107h0M262 87h0M869 93h0M319 94h0M512 82h0M588 144h0M717 34h0M989 79h0M651 100h0M776 76h0M800 70h0M954 126h0M919 124h0M788 70h0M772 102h0M278 87h0M373 125h0M418 104h0M964 131h0M396 128h0M366 121h0M611 117h0M599 104h0M709 99h0M611 59h0M312 88h0M492 57h0M242 72h0M441 70h0M696 41h0M209 64h0M551 69h0M261 92h0M780 53h0M746 101h0M913 82h0M527 44h0M347 98h0M631 137h0M937 109h0M462 85h0M204 88h0M263 96h0M268 89h0M241 95h0M830 76h0M827 51h0M835 79h0M392 116h0M232 99h0M461 65h0M845 48h0M378 130h0M496 35h0M775 71h0M933 113h0M734 81h0M925 114h0M768 63h0M370 126h0M428 84h0M892 104h0M254 58h0M781 16h0M293 89h0M705 41h0M496 49h0M620 112h0M799 68h0M363 106h0M830 68h0M575 81h0M994 129h0M281 82h0M414 111h0M748 102h0M250 92h0M380 127h0M291 93h0M296 101h0M517 78h0M523 52h0M610 85h0M446 61h0M731 78h0M246 118h0M596 54h0M610 94h0M342 125h0M905 99h0M978 103h0M543 63h0M946 95h0M471 56h0" stroke="#000" stroke-opacity=".14" stroke-width="5" stroke-linecap="round" filter="url(#bl2)"/>
<path d="M343 133h0M371 127h0M489 82h0M389 131h0M602 129h0M264 96h0M701 32h0M449 30h0M905 136h0M709 44h0M237 91h0M267 114h0M306 127h0M977 92h0M336 72h0M364 147h0M523 66h0M310 114h0M949 132h0M230 74h0M714 75h0M930 98h0M287 76h0M761 98h0M990 95h0M909 91h0M293 88h0M209 107h0M277 108h0M753 43h0M578 135h0M797 55h0M962 130h0M447 60h0M503 63h0M324 111h0M422 133h0M577 124h0M826 55h0M977 83h0M403 82h0M945 105h0M710 66h0M356 125h0M409 100h0M570 95h0M883 115h0M529 54h0M981 87h0M911 105h0M651 103h0M862 73h0M547 54h0M331 124h0M265 87h0M401 96h0M864 91h0M509 36h0M602 79h0M920 98h0M669 96h0M242 73h0M256 89h0M769 67h0M362 150h0M771 46h0M810 92h0M891 98h0M881 84h0M776 41h0M722 51h0M752 94h0M262 113h0M700 55h0M325 113h0M589 115h0M611 117h0M646 117h0M930 124h0M749 87h0M721 78h0M974 93h0M559 98h0M213 111h0M974 92h0M774 76h0M922 84h0M418 117h0M767 89h0M652 91h0M839 39h0M430 80h0M969 150h0M733 67h0M945 100h0M844 85h0M439 84h0M628 119h0M894 101h0M365 119h0M595 92h0M645 85h0M896 93h0M904 109h0M411 90h0M826 100h0M735 44h0M743 81h0M626 92h0M524 78h0M242 99h0M366 154h0M449 44h0M653 92h0M997 89h0M838 52h0M297 110h0M835 85h0M265 108h0M666 91h0M786 64h0M693 83h0M446 -10h0M803 82h0M210 102h0M578 99h0M805 72h0M398 151h0M524 67h0M652 123h0M552 79h0M327 79h0M536 63h0M778 58h0M899 99h0M327 79h0M250 98h0M838 62h0M655 91h0M955 82h0M509 53h0M955 113h0M660 122h0M496 32h0M512 82h0M242 123h0M735 79h0M279 57h0M226 64h0M954 116h0M622 120h0M862 85h0M914 106h0M460 45h0M707 61h0M833 136h0M858 86h0M369 149h0M860 40h0M666 104h0M495 44h0M314 100h0M974 95h0M421 108h0M920 83h0M203 102h0M562 78h0M487 78h0M797 63h0M928 108h0M611 105h0M966 111h0M523 64h0M202 107h0M297 73h0M293 100h0M215 110h0M466 83h0M329 104h0M495 30h0M863 90h0M302 89h0M358 111h0M871 78h0M425 76h0M877 57h0M466 14h0M847 69h0M977 100h0M500 58h0M553 97h0" stroke="#000" stroke-opacity=".14" stroke-width="5" stroke-linecap="round" filter="url(#bl2)"/>
<path d="M803 35h0M947 124h0M497 52h0M191 113h0M727 92h0M623 115h0M216 91h0M287 93h0M626 110h0M723 46h0M494 38h0M792 73h0M198 115h0M690 63h0M491 60h0M332 118h0M376 127h0M543 51h0M789 52h0M269 110h0M664 83h0M977 99h0M199 95h0M703 64h0M991 106h0M806 62h0M650 92h0M536 81h0M703 66h0M897 109h0M284 59h0M640 109h0M849 62h0M707 46h0M201 105h0M249 55h0M342 113h0M232 117h0M340 99h0M881 77h0M811 43h0M313 120h0M299 102h0M502 39h0M546 38h0M986 107h0M224 61h0M557 112h0M562 109h0M765 86h0M197 81h0M876 107h0M893 121h0M662 87h0M774 57h0M395 89h0M212 107h0M609 164h0M777 53h0M609 134h0M653 126h0M701 53h0M202 67h0M590 101h0M363 172h0M935 90h0M201 111h0M607 102h0M996 88h0M646 108h0M268 94h0M415 95h0M426 71h0M771 45h0M419 104h0M488 68h0M503 69h0M522 73h0M989 84h0M798 83h0M798 79h0M293 109h0M336 131h0M487 44h0M586 94h0M664 93h0M347 88h0M886 93h0M798 64h0M746 78h0M416 96h0M321 100h0M506 80h0M497 67h0M971 98h0M534 61h0M704 55h0M645 66h0M198 100h0M288 76h0M658 88h0M282 92h0M681 70h0M657 102h0M908 85h0M789 79h0M790 83h0M294 65h0M244 112h0M721 48h0M702 42h0M635 112h0M525 64h0M330 102h0M918 121h0M989 113h0M592 102h0M897 66h0M347 101h0M253 90h0M912 105h0M640 66h0M346 91h0M884 99h0M926 113h0M500 65h0M998 79h0M218 98h0M455 54h0M565 109h0M508 69h0M724 25h0M588 128h0M751 73h0M335 80h0M527 36h0M533 45h0M668 90h0M646 123h0M837 84h0M939 85h0M822 35h0M651 82h0M300 87h0M758 57h0M850 93h0M528 96h0M524 64h0M574 96h0M904 72h0M986 109h0M748 91h0M302 90h0M313 73h0M879 119h0M354 95h0M537 94h0M798 84h0M217 87h0M633 114h0M459 20h0M573 105h0M920 102h0M980 98h0M711 66h0M582 111h0M439 85h0M295 72h0M779 58h0M227 95h0M974 87h0M753 64h0M679 35h0M627 109h0M799 48h0M943 115h0M851 59h0M210 98h0M271 122h0M521 73h0M881 91h0M881 90h0M342 102h0M555 90h0M981 84h0M743 86h0M381 132h0M500 94h0M685 81h0M596 132h0M353 112h0" stroke="#000" stroke-opacity=".14" stroke-width="5" stroke-linecap="round" filter="url(#bl2)"/>
<path d="M269 92h0M815 80h0M708 63h0M478 93h0M889 100h0M404 113h0M816 54h0M771 36h0M997 89h0M822 54h0M972 127h0M785 43h0M432 95h0M234 97h0M801 90h0M595 103h0M693 82h0M714 67h0M302 82h0M558 83h0M670 122h0M944 105h0M683 81h0M550 93h0M494 53h0M747 85h0M651 126h0M868 91h0M389 124h0M369 148h0M981 131h0M919 80h0M918 114h0M832 82h0M232 59h0M571 121h0M406 111h0M509 65h0M945 98h0M984 99h0M947 123h0M389 112h0M710 81h0M558 124h0M502 80h0M383 107h0M217 75h0M806 76h0M196 101h0M278 80h0M974 90h0M922 105h0M493 35h0M522 90h0M950 139h0M980 104h0M700 40h0M878 86h0M469 40h0M254 106h0M885 116h0M840 45h0M497 53h0M305 116h0M398 108h0M465 52h0M674 90h0M762 76h0M905 87h0M505 74h0M566 94h0M375 133h0M635 104h0M441 70h0M288 98h0M846 56h0M919 104h0M356 136h0M637 90h0M335 80h0M733 54h0M813 42h0M535 71h0M904 80h0M836 14h0M634 93h0M786 76h0M355 92h0M753 87h0M872 92h0M474 65h0M482 52h0M912 102h0M781 85h0M966 50h0M435 105h0M754 48h0M747 115h0M290 80h0M705 32h0M405 121h0M327 78h0M346 105h0M518 85h0M659 88h0M733 85h0M583 82h0M922 83h0M969 122h0M457 48h0M512 110h0M403 86h0M849 86h0M257 129h0M202 68h0M205 111h0M267 106h0M350 119h0M237 115h0M906 90h0M762 63h0M393 112h0M500 67h0M612 83h0M552 70h0M444 91h0M543 43h0M960 117h0M933 114h0M762 65h0M263 85h0M614 94h0M981 108h0M942 100h0M605 95h0M652 64h0M323 85h0M715 73h0M951 67h0M498 49h0M266 123h0M975 111h0M941 100h0M320 104h0M952 94h0M384 100h0M363 141h0M714 59h0M470 54h0M278 83h0M405 89h0M263 90h0M576 108h0M250 96h0M309 92h0M934 108h0M766 46h0M238 96h0M361 132h0M554 59h0M712 56h0M604 88h0M426 91h0M633 97h0M243 83h0M874 80h0M515 94h0M385 124h0M240 91h0M990 74h0M286 79h0M947 85h0M496 47h0M860 88h0M961 108h0M344 102h0M600 119h0M718 62h0M494 61h0M972 102h0M723 61h0M763 40h0M471 85h0M756 89h0M206 66h0M508 59h0M608 101h0M540 42h0M956 114h0M884 96h0M833 59h0" stroke="#000" stroke-opacity=".14" stroke-width="5" stroke-linecap="round" filter="url(#bl2)"/>
<text transform="matrix(1.03,0,0,1,158.0,663.5)" font-size="16">TRL</text>
<clipPath id="c223"><rect x="157" y="669.8" width="243" height="25.200000000000045"/></clipPath>
<path d="M138.0,670.8L162.2,695.0M148.0,670.8L172.2,695.0M158.0,670.8L182.2,695.0M168.0,670.8L192.2,695.0M178.0,670.8L202.2,695.0M188.0,670.8L212.2,695.0M198.0,670.8L222.2,695.0M208.0,670.8L232.2,695.0M218.0,670.8L242.2,695.0M228.0,670.8L252.2,695.0M238.0,670.8L262.2,695.0M248.0,670.8L272.2,695.0" stroke="#505050" stroke-width="0.85" fill="none" clip-path="url(#c223)"/>
<text transform="matrix(1.03,0,0,1,1357.8,1354.9)" font-size="16">OriLyt</text>
<path d="M1360.3,1361.2L1360.3,1386.5M1365.3,1361.2L1365.3,1386.5M1370.4,1361.2L1370.4,1386.5M1375.5,1361.2L1375.5,1386.5M1380.5,1361.2L1380.5,1386.5M1385.5,1361.2L1385.5,1386.5M1390.6,1361.2L1390.6,1386.5M1395.6,1361.2L1395.6,1386.5M1400.7,1361.2L1400.7,1386.5M1405.8,1361.2L1405.8,1386.5M1410.8,1361.2L1410.8,1386.5M1415.8,1361.2L1415.8,1386.5M1420.9,1361.2L1420.9,1386.5M1426.0,1361.2L1426.0,1386.5M1431.0,1361.2L1431.0,1386.5M1436.0,1361.2L1436.0,1386.5M1441.1,1361.2L1441.1,1386.5M1446.1,1361.2L1446.1,1386.5M1451.2,1361.2L1451.2,1386.5" stroke="#2a2a2a" stroke-width="0.8" fill="none"/>
<text transform="matrix(1.03,0,0,1,1452.4,2218.0)" font-size="16">IRL</text>
<text transform="matrix(1.03,0,0,1,1497.8,2218.0)" font-size="16">IRS</text>
<path d="M1431.2,2249.0L1454.9,2225.3M1441.0,2249.0L1464.7,2225.3M1450.7,2249.0L1474.4,2225.3M1460.5,2249.0L1484.2,2225.3M1470.2,2249.0L1493.9,2225.3M1480.0,2249.0L1503.7,2225.3M1489.7,2249.0L1513.4,2225.3M1499.5,2249.0L1523.2,2225.3M1509.2,2249.0L1532.9,2225.3M1519.0,2249.0L1542.7,2225.3" stroke="#505050" stroke-width="0.85" fill="none"/>
<path d="M1496.8,2225.3L1520.5,2249.0M1506.5,2225.3L1530.2,2249.0M1516.3,2225.3L1540.0,2249.0M1526.0,2225.3L1549.8,2249.0M1535.8,2225.3L1559.5,2249.0M1545.5,2225.3L1569.2,2249.0M1555.3,2225.3L1579.0,2249.0M1565.0,2225.3L1588.8,2249.0M1574.8,2225.3L1598.5,2249.0M1584.5,2225.3L1608.2,2249.0M1594.3,2225.3L1618.0,2249.0M1604.0,2225.3L1627.8,2249.0M1613.8,2225.3L1637.5,2249.0M1623.5,2225.3L1647.2,2249.0M1633.3,2225.3L1657.0,2249.0M1643.0,2225.3L1666.8,2249.0M1652.8,2225.3L1676.5,2249.0M1662.5,2225.3L1686.2,2249.0M1672.3,2225.3L1696.0,2249.0M1682.0,2225.3L1705.8,2249.0M1691.8,2225.3L1715.5,2249.0" stroke="#505050" stroke-width="0.85" fill="none"/>
<text transform="matrix(1.03,0,0,1,1343.9,2563.5)" font-size="16">TRS</text>
<clipPath id="c232"><rect x="1300" y="2570.2" width="246" height="25.90000000000009"/></clipPath>
<path d="M1325.9,2595.1L1349.8,2571.2M1335.9,2595.1L1359.8,2571.2M1345.9,2595.1L1369.8,2571.2M1355.9,2595.1L1379.8,2571.2M1365.9,2595.1L1389.8,2571.2M1375.9,2595.1L1399.8,2571.2M1385.9,2595.1L1409.8,2571.2M1395.9,2595.1L1419.8,2571.2M1405.9,2595.1L1429.8,2571.2M1415.9,2595.1L1439.8,2571.2M1425.9,2595.1L1449.8,2571.2M1435.9,2595.1L1459.8,2571.2M1445.9,2595.1L1469.8,2571.2M1455.9,2595.1L1479.8,2571.2M1465.9,2595.1L1489.8,2571.2M1475.9,2595.1L1499.8,2571.2M1485.9,2595.1L1509.8,2571.2M1495.9,2595.1L1519.8,2571.2M1505.9,2595.1L1529.8,2571.2M1515.9,2595.1L1539.8,2571.2M1525.9,2595.1L1549.8,2571.2M1535.9,2595.1L1559.8,2571.2" stroke="#404040" stroke-width="1.05" fill="none" clip-path="url(#c232)"/>
<polygon points="1613.5,2533.7 1698.3,2533.7 1688,2555.1 1613.5,2555.1" fill="#b4b4b4"/><polygon points="1757.8,2533.7 1836.7,2533.7 1826.2,2555.1 1757.8,2555.1" fill="#b4b4b4"/><polygon points="1757.8,2533.7 1836.7,2533.7 1834.9,2537.6 1757.8,2537.6" fill="#111"/><polygon points="1895.9,2533.7 1975,2533.7 1964.6,2555.1 1895.9,2555.1" fill="#b4b4b4"/><polygon points="1895.9,2533.7 1975,2533.7 1973.1,2537.6 1895.9,2537.6" fill="#7a7a7a"/>
<text transform="matrix(1.03,0,0,1,1614.0,2580.3)" font-size="20.5">viral ORF</text>
<text transform="matrix(1.03,0,0,1,1758.4,2578.0)" font-size="20.5">essential for</text>
<text transform="matrix(1.03,0,0,1,1758.4,2601.5)" font-size="20.5">replication</text>
<text transform="matrix(1.03,0,0,1,1896.0,2577.8)" font-size="20.5">impaired</text>
<text transform="matrix(1.03,0,0,1,1896.0,2601.5)" font-size="20.5">replication</text>
<text transform="matrix(1.03,0,0,1,1896.0,2623.6)" font-size="20.5">when deleted</text>
<path d="M1615.3,2630.3L1615.3,2651.7M1623.5,2630.3L1623.5,2651.7M1631.6,2630.3L1631.6,2651.7M1639.8,2630.3L1639.8,2651.7M1648.0,2630.3L1648.0,2651.7M1656.1,2630.3L1656.1,2651.7M1664.3,2630.3L1664.3,2651.7M1672.5,2630.3L1672.5,2651.7M1680.7,2630.3L1680.7,2651.7M1688.8,2630.3L1688.8,2651.7M1697.0,2630.3L1697.0,2651.7" stroke="#111" stroke-width="1.6" fill="none"/>
<text transform="matrix(1.03,0,0,1,1614.0,2668.9)" font-size="20.5">lytic origin</text>
<clipPath id="c243"><rect x="1757.8" y="2630" width="87.20000000000005" height="23"/></clipPath>
<path d="M1750.0,2631.0L1767.5,2652.5M1757.7,2631.0L1775.2,2652.5M1765.4,2631.0L1782.9,2652.5M1773.1,2631.0L1790.6,2652.5M1780.8,2631.0L1798.3,2652.5M1788.5,2631.0L1806.0,2652.5M1796.2,2631.0L1813.7,2652.5M1803.9,2631.0L1821.4,2652.5M1811.6,2631.0L1829.1,2652.5M1819.3,2631.0L1836.8,2652.5M1827.0,2631.0L1844.5,2652.5" stroke="#111" stroke-width="1.5" fill="none" clip-path="url(#c243)"/>
<text transform="matrix(1.03,0,0,1,1758.4,2668.9)" font-size="20.5">repeat region</text>
<text transform="matrix(1.03,0,0,1,1758.4,2691.6)" font-size="20.5">(non-unique sgRNAs)</text>
</svg>
</body></html>
